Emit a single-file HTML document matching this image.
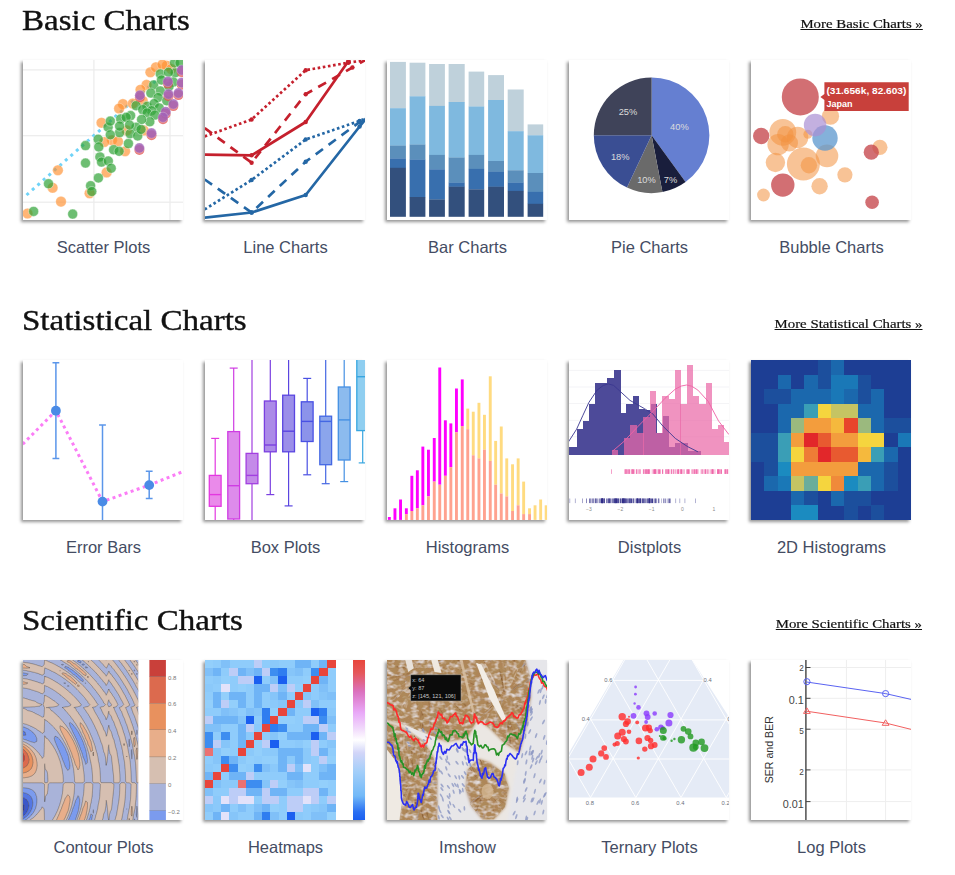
<!DOCTYPE html>
<html><head><meta charset="utf-8">
<style>
html,body{margin:0;padding:0;background:#fff;}
body{width:955px;height:875px;position:relative;overflow:hidden;font-family:"Liberation Sans",sans-serif;}
.h{position:absolute;left:22px;font-family:"Liberation Serif",serif;font-size:31px;color:#111;-webkit-text-stroke:.4px #111;transform:scale(1.065,.96);white-space:nowrap;line-height:1;transform-origin:0 0;}
.m{position:absolute;right:32.6px;font-family:"Liberation Serif",serif;font-size:13.2px;color:#111;transform:scaleX(1.125);-webkit-text-stroke:.2px #111;margin-top:-.4px;white-space:nowrap;text-decoration:underline;line-height:1;transform-origin:100% 0;}
.t{position:absolute;width:160px;height:160px;background:#fff;box-shadow:-2px 2px 3px rgba(0,0,0,.42);overflow:hidden;}
.t svg{position:absolute;left:0;top:0;width:160px;height:160px;display:block;}
.l{position:absolute;width:182px;text-align:center;font-size:16.5px;margin-left:1.5px;color:#444c63;white-space:nowrap;line-height:1;}
</style></head><body>
<div class="h" style="top:5px">Basic Charts</div>
<div class="m" style="top:17px">More Basic Charts »</div>
<div class="h" style="top:305px">Statistical Charts</div>
<div class="m" style="top:317px">More Statistical Charts »</div>
<div class="h" style="top:605px">Scientific Charts</div>
<div class="m" style="top:617px">More Scientific Charts »</div>

<!-- ROW1 -->
<div class="t" style="left:23px;top:60px" ><svg viewBox="0 0 160 160">
<rect x="70.30000000000001" y="0" width="1.2" height="160" fill="#ececec"/>
<rect x="146.4" y="0" width="1.2" height="160" fill="#ececec"/>
<rect x="0" y="9.3" width="160" height="1.2" fill="#ececec"/>
<rect x="0" y="75.10000000000001" width="160" height="1.2" fill="#ececec"/>
<rect x="0" y="141.6" width="160" height="1.2" fill="#ececec"/>
<line x1="3.5" y1="135.0" x2="135.1" y2="18.8" stroke="#6fd3f8" stroke-width="3" stroke-dasharray="3 4.35"/>
<circle cx="4.5" cy="153.5" r="5.3" fill="#ff8f2e" fill-opacity=".66" stroke="#fff" stroke-opacity=".5" stroke-width=".6"/>
<circle cx="29.6" cy="127.8" r="5.3" fill="#ff8f2e" fill-opacity=".66" stroke="#fff" stroke-opacity=".5" stroke-width=".6"/>
<circle cx="38.0" cy="141.6" r="5.3" fill="#ff8f2e" fill-opacity=".66" stroke="#fff" stroke-opacity=".5" stroke-width=".6"/>
<circle cx="34.9" cy="110.3" r="5.3" fill="#ff8f2e" fill-opacity=".66" stroke="#fff" stroke-opacity=".5" stroke-width=".6"/>
<circle cx="66.6" cy="133.3" r="5.3" fill="#ff8f2e" fill-opacity=".66" stroke="#fff" stroke-opacity=".5" stroke-width=".6"/>
<circle cx="83.6" cy="112.4" r="5.3" fill="#ff8f2e" fill-opacity=".66" stroke="#fff" stroke-opacity=".5" stroke-width=".6"/>
<circle cx="127.4" cy="12.3" r="5.3" fill="#ff8f2e" fill-opacity=".66" stroke="#fff" stroke-opacity=".5" stroke-width=".6"/>
<circle cx="132.9" cy="7.3" r="5.3" fill="#ff8f2e" fill-opacity=".66" stroke="#fff" stroke-opacity=".5" stroke-width=".6"/>
<circle cx="143.8" cy="5.7" r="5.3" fill="#ff8f2e" fill-opacity=".66" stroke="#fff" stroke-opacity=".5" stroke-width=".6"/>
<circle cx="139.4" cy="4.6" r="5.3" fill="#ff8f2e" fill-opacity=".66" stroke="#fff" stroke-opacity=".5" stroke-width=".6"/>
<circle cx="123.5" cy="24.9" r="5.3" fill="#ff8f2e" fill-opacity=".66" stroke="#fff" stroke-opacity=".5" stroke-width=".6"/>
<circle cx="117.5" cy="29.8" r="5.3" fill="#ff8f2e" fill-opacity=".66" stroke="#fff" stroke-opacity=".5" stroke-width=".6"/>
<circle cx="99.9" cy="44.1" r="5.3" fill="#ff8f2e" fill-opacity=".66" stroke="#fff" stroke-opacity=".5" stroke-width=".6"/>
<circle cx="96.1" cy="48.5" r="5.3" fill="#ff8f2e" fill-opacity=".66" stroke="#fff" stroke-opacity=".5" stroke-width=".6"/>
<circle cx="109.8" cy="43.6" r="5.3" fill="#ff8f2e" fill-opacity=".66" stroke="#fff" stroke-opacity=".5" stroke-width=".6"/>
<circle cx="78.5" cy="62.8" r="5.3" fill="#ff8f2e" fill-opacity=".66" stroke="#fff" stroke-opacity=".5" stroke-width=".6"/>
<circle cx="89.0" cy="80.3" r="5.3" fill="#ff8f2e" fill-opacity=".66" stroke="#fff" stroke-opacity=".5" stroke-width=".6"/>
<circle cx="95.0" cy="81.4" r="5.3" fill="#ff8f2e" fill-opacity=".66" stroke="#fff" stroke-opacity=".5" stroke-width=".6"/>
<circle cx="81.3" cy="82.0" r="5.3" fill="#ff8f2e" fill-opacity=".66" stroke="#fff" stroke-opacity=".5" stroke-width=".6"/>
<circle cx="102.1" cy="91.3" r="5.3" fill="#ff8f2e" fill-opacity=".66" stroke="#fff" stroke-opacity=".5" stroke-width=".6"/>
<circle cx="103.8" cy="70.4" r="5.3" fill="#ff8f2e" fill-opacity=".66" stroke="#fff" stroke-opacity=".5" stroke-width=".6"/>
<circle cx="119.7" cy="40.8" r="5.3" fill="#ff8f2e" fill-opacity=".66" stroke="#fff" stroke-opacity=".5" stroke-width=".6"/>
<circle cx="120.8" cy="70.4" r="5.3" fill="#ff8f2e" fill-opacity=".66" stroke="#fff" stroke-opacity=".5" stroke-width=".6"/>
<circle cx="148.2" cy="9.0" r="5.3" fill="#ff8f2e" fill-opacity=".66" stroke="#fff" stroke-opacity=".5" stroke-width=".6"/>
<circle cx="10.6" cy="151.4" r="5" fill="#2fa336" fill-opacity=".7" stroke="#fff" stroke-opacity=".6" stroke-width=".7"/>
<circle cx="49.7" cy="154.1" r="5" fill="#2fa336" fill-opacity=".7" stroke="#fff" stroke-opacity=".6" stroke-width=".7"/>
<circle cx="25.5" cy="123.7" r="5" fill="#2fa336" fill-opacity=".7" stroke="#fff" stroke-opacity=".6" stroke-width=".7"/>
<circle cx="67.6" cy="125.7" r="5" fill="#2fa336" fill-opacity=".7" stroke="#fff" stroke-opacity=".6" stroke-width=".7"/>
<circle cx="68.8" cy="131.5" r="5" fill="#2fa336" fill-opacity=".7" stroke="#fff" stroke-opacity=".6" stroke-width=".7"/>
<circle cx="75.4" cy="117.9" r="5" fill="#2fa336" fill-opacity=".7" stroke="#fff" stroke-opacity=".6" stroke-width=".7"/>
<circle cx="62.5" cy="103.1" r="5" fill="#2fa336" fill-opacity=".7" stroke="#fff" stroke-opacity=".6" stroke-width=".7"/>
<circle cx="62.5" cy="85.6" r="5" fill="#2fa336" fill-opacity=".7" stroke="#fff" stroke-opacity=".6" stroke-width=".7"/>
<circle cx="76.9" cy="96.9" r="5" fill="#2fa336" fill-opacity=".7" stroke="#fff" stroke-opacity=".6" stroke-width=".7"/>
<circle cx="78.5" cy="102.1" r="5" fill="#2fa336" fill-opacity=".7" stroke="#fff" stroke-opacity=".6" stroke-width=".7"/>
<circle cx="85.3" cy="101.0" r="5" fill="#2fa336" fill-opacity=".7" stroke="#fff" stroke-opacity=".6" stroke-width=".7"/>
<circle cx="88.2" cy="108.2" r="5" fill="#2fa336" fill-opacity=".7" stroke="#fff" stroke-opacity=".6" stroke-width=".7"/>
<circle cx="137.3" cy="13.9" r="5" fill="#2fa336" fill-opacity=".7" stroke="#fff" stroke-opacity=".6" stroke-width=".7"/>
<circle cx="152.1" cy="12.8" r="5" fill="#2fa336" fill-opacity=".7" stroke="#fff" stroke-opacity=".6" stroke-width=".7"/>
<circle cx="145.5" cy="12.3" r="5" fill="#2fa336" fill-opacity=".7" stroke="#fff" stroke-opacity=".6" stroke-width=".7"/>
<circle cx="151.5" cy="2.9" r="5" fill="#2fa336" fill-opacity=".7" stroke="#fff" stroke-opacity=".6" stroke-width=".7"/>
<circle cx="157.0" cy="2.9" r="5" fill="#2fa336" fill-opacity=".7" stroke="#fff" stroke-opacity=".6" stroke-width=".7"/>
<circle cx="130.7" cy="24.9" r="5" fill="#2fa336" fill-opacity=".7" stroke="#fff" stroke-opacity=".6" stroke-width=".7"/>
<circle cx="137.3" cy="30.9" r="5" fill="#2fa336" fill-opacity=".7" stroke="#fff" stroke-opacity=".6" stroke-width=".7"/>
<circle cx="127.9" cy="33.1" r="5" fill="#2fa336" fill-opacity=".7" stroke="#fff" stroke-opacity=".6" stroke-width=".7"/>
<circle cx="135.1" cy="37.5" r="5" fill="#2fa336" fill-opacity=".7" stroke="#fff" stroke-opacity=".6" stroke-width=".7"/>
<circle cx="150.4" cy="22.1" r="5" fill="#2fa336" fill-opacity=".7" stroke="#fff" stroke-opacity=".6" stroke-width=".7"/>
<circle cx="138.4" cy="20.0" r="5" fill="#2fa336" fill-opacity=".7" stroke="#fff" stroke-opacity=".6" stroke-width=".7"/>
<circle cx="113.1" cy="45.7" r="5" fill="#2fa336" fill-opacity=".7" stroke="#fff" stroke-opacity=".6" stroke-width=".7"/>
<circle cx="124.1" cy="46.3" r="5" fill="#2fa336" fill-opacity=".7" stroke="#fff" stroke-opacity=".6" stroke-width=".7"/>
<circle cx="131.2" cy="43.6" r="5" fill="#2fa336" fill-opacity=".7" stroke="#fff" stroke-opacity=".6" stroke-width=".7"/>
<circle cx="136.2" cy="47.9" r="5" fill="#2fa336" fill-opacity=".7" stroke="#fff" stroke-opacity=".6" stroke-width=".7"/>
<circle cx="128.5" cy="50.7" r="5" fill="#2fa336" fill-opacity=".7" stroke="#fff" stroke-opacity=".6" stroke-width=".7"/>
<circle cx="119.7" cy="49.6" r="5" fill="#2fa336" fill-opacity=".7" stroke="#fff" stroke-opacity=".6" stroke-width=".7"/>
<circle cx="124.1" cy="52.9" r="5" fill="#2fa336" fill-opacity=".7" stroke="#fff" stroke-opacity=".6" stroke-width=".7"/>
<circle cx="131.8" cy="55.1" r="5" fill="#2fa336" fill-opacity=".7" stroke="#fff" stroke-opacity=".6" stroke-width=".7"/>
<circle cx="126.8" cy="61.7" r="5" fill="#2fa336" fill-opacity=".7" stroke="#fff" stroke-opacity=".6" stroke-width=".7"/>
<circle cx="118.6" cy="59.5" r="5" fill="#2fa336" fill-opacity=".7" stroke="#fff" stroke-opacity=".6" stroke-width=".7"/>
<circle cx="107.6" cy="55.6" r="5" fill="#2fa336" fill-opacity=".7" stroke="#fff" stroke-opacity=".6" stroke-width=".7"/>
<circle cx="97.7" cy="58.9" r="5" fill="#2fa336" fill-opacity=".7" stroke="#fff" stroke-opacity=".6" stroke-width=".7"/>
<circle cx="103.2" cy="57.3" r="5" fill="#2fa336" fill-opacity=".7" stroke="#fff" stroke-opacity=".6" stroke-width=".7"/>
<circle cx="85.1" cy="67.2" r="5" fill="#2fa336" fill-opacity=".7" stroke="#fff" stroke-opacity=".6" stroke-width=".7"/>
<circle cx="87.3" cy="61.1" r="5" fill="#2fa336" fill-opacity=".7" stroke="#fff" stroke-opacity=".6" stroke-width=".7"/>
<circle cx="113.1" cy="67.2" r="5" fill="#2fa336" fill-opacity=".7" stroke="#fff" stroke-opacity=".6" stroke-width=".7"/>
<circle cx="107.1" cy="73.7" r="5" fill="#2fa336" fill-opacity=".7" stroke="#fff" stroke-opacity=".6" stroke-width=".7"/>
<circle cx="96.6" cy="72.6" r="5" fill="#2fa336" fill-opacity=".7" stroke="#fff" stroke-opacity=".6" stroke-width=".7"/>
<circle cx="87.3" cy="74.8" r="5" fill="#2fa336" fill-opacity=".7" stroke="#fff" stroke-opacity=".6" stroke-width=".7"/>
<circle cx="105.4" cy="83.6" r="5" fill="#2fa336" fill-opacity=".7" stroke="#fff" stroke-opacity=".6" stroke-width=".7"/>
<circle cx="114.7" cy="75.9" r="5" fill="#2fa336" fill-opacity=".7" stroke="#fff" stroke-opacity=".6" stroke-width=".7"/>
<circle cx="75.2" cy="79.2" r="5" fill="#2fa336" fill-opacity=".7" stroke="#fff" stroke-opacity=".6" stroke-width=".7"/>
<circle cx="75.8" cy="86.9" r="5" fill="#2fa336" fill-opacity=".7" stroke="#fff" stroke-opacity=".6" stroke-width=".7"/>
<circle cx="90.6" cy="89.7" r="5" fill="#2fa336" fill-opacity=".7" stroke="#fff" stroke-opacity=".6" stroke-width=".7"/>
<circle cx="96.1" cy="91.3" r="5" fill="#2fa336" fill-opacity=".7" stroke="#fff" stroke-opacity=".6" stroke-width=".7"/>
<circle cx="118.0" cy="69.4" r="5" fill="#2fa336" fill-opacity=".7" stroke="#fff" stroke-opacity=".6" stroke-width=".7"/>
<circle cx="106.5" cy="65.0" r="5" fill="#2fa336" fill-opacity=".7" stroke="#fff" stroke-opacity=".6" stroke-width=".7"/>
<circle cx="96.6" cy="66.1" r="5" fill="#2fa336" fill-opacity=".7" stroke="#fff" stroke-opacity=".6" stroke-width=".7"/>
<circle cx="143.8" cy="40.8" r="5" fill="#2fa336" fill-opacity=".7" stroke="#fff" stroke-opacity=".6" stroke-width=".7"/>
<circle cx="146.0" cy="26.5" r="5" fill="#2fa336" fill-opacity=".7" stroke="#fff" stroke-opacity=".6" stroke-width=".7"/>
<circle cx="116.9" cy="37.3" r="5" fill="#e0524f" fill-opacity=".75"/>
<circle cx="144.9" cy="23.6" r="5" fill="#e0524f" fill-opacity=".75"/>
<circle cx="158.7" cy="12.1" r="5" fill="#e0524f" fill-opacity=".75"/>
<circle cx="158.7" cy="24.7" r="5" fill="#e0524f" fill-opacity=".75"/>
<circle cx="145.5" cy="36.2" r="5" fill="#e0524f" fill-opacity=".75"/>
<circle cx="155.4" cy="35.1" r="5" fill="#e0524f" fill-opacity=".75"/>
<circle cx="150.4" cy="46.1" r="5" fill="#e0524f" fill-opacity=".75"/>
<circle cx="142.7" cy="53.8" r="5" fill="#e0524f" fill-opacity=".75"/>
<circle cx="140.0" cy="59.3" r="5" fill="#e0524f" fill-opacity=".75"/>
<circle cx="128.5" cy="75.2" r="5" fill="#e0524f" fill-opacity=".75"/>
<circle cx="116.4" cy="90.0" r="5" fill="#e0524f" fill-opacity=".75"/>
<circle cx="116.9" cy="35.3" r="5.1" fill="#a264b8" fill-opacity=".85" stroke="#fff" stroke-opacity=".4" stroke-width=".6"/>
<circle cx="144.9" cy="21.6" r="5.1" fill="#a264b8" fill-opacity=".85" stroke="#fff" stroke-opacity=".4" stroke-width=".6"/>
<circle cx="158.7" cy="10.1" r="5.1" fill="#a264b8" fill-opacity=".85" stroke="#fff" stroke-opacity=".4" stroke-width=".6"/>
<circle cx="158.7" cy="22.7" r="5.1" fill="#a264b8" fill-opacity=".85" stroke="#fff" stroke-opacity=".4" stroke-width=".6"/>
<circle cx="145.5" cy="34.2" r="5.1" fill="#a264b8" fill-opacity=".85" stroke="#fff" stroke-opacity=".4" stroke-width=".6"/>
<circle cx="155.4" cy="33.1" r="5.1" fill="#a264b8" fill-opacity=".85" stroke="#fff" stroke-opacity=".4" stroke-width=".6"/>
<circle cx="150.4" cy="44.1" r="5.1" fill="#a264b8" fill-opacity=".85" stroke="#fff" stroke-opacity=".4" stroke-width=".6"/>
<circle cx="142.7" cy="51.8" r="5.1" fill="#a264b8" fill-opacity=".85" stroke="#fff" stroke-opacity=".4" stroke-width=".6"/>
<circle cx="140.0" cy="57.3" r="5.1" fill="#a264b8" fill-opacity=".85" stroke="#fff" stroke-opacity=".4" stroke-width=".6"/>
<circle cx="128.5" cy="73.2" r="5.1" fill="#a264b8" fill-opacity=".85" stroke="#fff" stroke-opacity=".4" stroke-width=".6"/>
<circle cx="116.4" cy="88.0" r="5.1" fill="#a264b8" fill-opacity=".85" stroke="#fff" stroke-opacity=".4" stroke-width=".6"/>
</svg></div>
<div class="t" style="left:205px;top:60px" ><svg viewBox="0 0 160 160">
<polyline points="-0.3,76.4 46.6,59.5 100.7,10.2 143.3,2.7 172.1,-1.8" fill="none" stroke="#c5202d" stroke-width="2.7" stroke-linejoin="round" stroke-dasharray="2.6 2.6"/>
<circle cx="46.6" cy="59.5" r="2.2" fill="#c5202d"/>
<circle cx="100.7" cy="10.2" r="2.2" fill="#c5202d"/>
<circle cx="143.3" cy="2.7" r="2.2" fill="#c5202d"/>
<polyline points="-0.3,68.1 46.6,102.7 100.7,34.2 147.4,7.5 172.1,-6.9" fill="none" stroke="#c5202d" stroke-width="2.7" stroke-linejoin="round" stroke-dasharray="9 7"/>
<circle cx="46.6" cy="102.7" r="2.2" fill="#c5202d"/>
<circle cx="100.7" cy="34.2" r="2.2" fill="#c5202d"/>
<circle cx="147.4" cy="7.5" r="2.2" fill="#c5202d"/>
<polyline points="-2.7,94.5 46.6,95.3 100.7,62.0 143.3,1.3 151.5,-10.0" fill="none" stroke="#c5202d" stroke-width="2.7" stroke-linejoin="round"/>
<circle cx="46.6" cy="95.3" r="2.2" fill="#c5202d"/>
<circle cx="100.7" cy="62.0" r="2.2" fill="#c5202d"/>
<circle cx="143.3" cy="1.3" r="2.2" fill="#c5202d"/>
<polyline points="-0.3,149.4 46.6,120.0 100.7,79.5 154.6,60.9 172.1,53.7" fill="none" stroke="#2467a5" stroke-width="2.7" stroke-linejoin="round" stroke-dasharray="2.6 2.6"/>
<circle cx="46.6" cy="120.0" r="2.2" fill="#2467a5"/>
<circle cx="100.7" cy="79.5" r="2.2" fill="#2467a5"/>
<circle cx="154.6" cy="60.9" r="2.2" fill="#2467a5"/>
<polyline points="-0.3,119.5 46.6,152.5 100.7,101.7 154.6,62.0 172.1,49.6" fill="none" stroke="#2467a5" stroke-width="2.7" stroke-linejoin="round" stroke-dasharray="9 7"/>
<circle cx="46.6" cy="152.5" r="2.2" fill="#2467a5"/>
<circle cx="100.7" cy="101.7" r="2.2" fill="#2467a5"/>
<circle cx="154.6" cy="62.0" r="2.2" fill="#2467a5"/>
<polyline points="-2.7,158.0 46.6,152.5 100.7,135.0 154.6,66.5 172.1,44.5" fill="none" stroke="#2467a5" stroke-width="2.7" stroke-linejoin="round"/>
<circle cx="46.6" cy="152.5" r="2.2" fill="#2467a5"/>
<circle cx="100.7" cy="135.0" r="2.2" fill="#2467a5"/>
<circle cx="154.6" cy="66.5" r="2.2" fill="#2467a5"/>
</svg></div>
<div class="t" style="left:387px;top:60px" ><svg viewBox="0 0 160 160">
<rect x="3.0" y="1.9" width="15.9" height="46.5" fill="#bfd1db"/>
<rect x="3.0" y="48.2" width="15.9" height="37.6" fill="#7fb9df"/>
<rect x="3.0" y="85.6" width="15.9" height="13.0" fill="#5b8fbb"/>
<rect x="3.0" y="98.4" width="15.9" height="9.6" fill="#386fae"/>
<rect x="3.0" y="107.8" width="15.9" height="49.0" fill="#33507d"/>
<rect x="22.6" y="2.7" width="15.8" height="33.8" fill="#bfd1db"/>
<rect x="22.6" y="36.3" width="15.8" height="48.5" fill="#7fb9df"/>
<rect x="22.6" y="84.6" width="15.8" height="15.2" fill="#5b8fbb"/>
<rect x="22.6" y="99.6" width="15.8" height="37.6" fill="#386fae"/>
<rect x="22.6" y="137.0" width="15.8" height="19.8" fill="#33507d"/>
<rect x="42.1" y="4.0" width="15.8" height="42.1" fill="#bfd1db"/>
<rect x="42.1" y="45.9" width="15.8" height="49.2" fill="#7fb9df"/>
<rect x="42.1" y="94.9" width="15.8" height="14.6" fill="#5b8fbb"/>
<rect x="42.1" y="109.3" width="15.8" height="30.4" fill="#386fae"/>
<rect x="42.1" y="139.5" width="15.8" height="17.3" fill="#33507d"/>
<rect x="61.6" y="4.0" width="16.1" height="38.2" fill="#bfd1db"/>
<rect x="61.6" y="42.0" width="16.1" height="55.7" fill="#7fb9df"/>
<rect x="61.6" y="97.5" width="16.1" height="25.3" fill="#5b8fbb"/>
<rect x="61.6" y="122.6" width="16.1" height="4.3" fill="#386fae"/>
<rect x="61.6" y="126.7" width="16.1" height="30.1" fill="#33507d"/>
<rect x="81.6" y="11.6" width="15.6" height="35.1" fill="#bfd1db"/>
<rect x="81.6" y="46.5" width="15.6" height="48.6" fill="#7fb9df"/>
<rect x="81.6" y="94.9" width="15.6" height="14.2" fill="#5b8fbb"/>
<rect x="81.6" y="108.9" width="15.6" height="20.7" fill="#386fae"/>
<rect x="81.6" y="129.4" width="15.6" height="27.4" fill="#33507d"/>
<rect x="101.1" y="15.1" width="15.9" height="25.1" fill="#bfd1db"/>
<rect x="101.1" y="40.0" width="15.9" height="61.2" fill="#7fb9df"/>
<rect x="101.1" y="101.0" width="15.9" height="10.9" fill="#5b8fbb"/>
<rect x="101.1" y="111.7" width="15.9" height="15.2" fill="#386fae"/>
<rect x="101.1" y="126.7" width="15.9" height="30.1" fill="#33507d"/>
<rect x="120.7" y="29.5" width="16.0" height="41.9" fill="#bfd1db"/>
<rect x="120.7" y="71.2" width="16.0" height="39.3" fill="#7fb9df"/>
<rect x="120.7" y="110.3" width="16.0" height="12.5" fill="#5b8fbb"/>
<rect x="120.7" y="122.6" width="16.0" height="8.5" fill="#386fae"/>
<rect x="120.7" y="130.9" width="16.0" height="25.9" fill="#33507d"/>
<rect x="140.6" y="64.4" width="15.6" height="11.1" fill="#bfd1db"/>
<rect x="140.6" y="75.3" width="15.6" height="37.9" fill="#7fb9df"/>
<rect x="140.6" y="113.0" width="15.6" height="19.1" fill="#5b8fbb"/>
<rect x="140.6" y="131.9" width="15.6" height="12.1" fill="#386fae"/>
<rect x="140.6" y="143.8" width="15.6" height="13.0" fill="#33507d"/>
</svg></div>
<div class="t" style="left:569px;top:60px" ><svg viewBox="0 0 160 160">
<path d="M82.6,75.3L82.60,17.50A57.8,57.8 0 0 1 116.57,122.06Z" fill="#657fd1"/>
<path d="M82.6,75.3L116.57,122.06A57.8,57.8 0 0 1 93.43,132.08Z" fill="#191e3c"/>
<path d="M82.6,75.3L93.43,132.08A57.8,57.8 0 0 1 57.99,127.60Z" fill="#6a6a6a"/>
<path d="M82.6,75.3L57.99,127.60A57.8,57.8 0 0 1 24.80,75.30Z" fill="#3a4e93"/>
<path d="M82.6,75.3L24.80,75.30A57.8,57.8 0 0 1 82.60,17.50Z" fill="#3f4359"/>
<text x="110.4" y="69.8" font-size="9.3" fill="#dcdcdc" text-anchor="middle" font-family="Liberation Sans">40%</text>
<text x="59.0" y="55.0" font-size="9.3" fill="#dcdcdc" text-anchor="middle" font-family="Liberation Sans">25%</text>
<text x="51.2" y="99.6" font-size="9.3" fill="#dcdcdc" text-anchor="middle" font-family="Liberation Sans">18%</text>
<text x="77.5" y="123.3" font-size="9.3" fill="#dcdcdc" text-anchor="middle" font-family="Liberation Sans">10%</text>
<text x="101.5" y="123.3" font-size="9.3" fill="#dcdcdc" text-anchor="middle" font-family="Liberation Sans">7%</text>
</svg></div>
<div class="t" style="left:751px;top:60px" ><svg viewBox="0 0 160 160">
<circle cx="31.8" cy="72.3" r="13.4" fill="#f3913f" fill-opacity=".55"/>
<circle cx="27.1" cy="84.6" r="10.7" fill="#f3913f" fill-opacity=".55"/>
<circle cx="46.6" cy="77.4" r="10.7" fill="#f3913f" fill-opacity=".55"/>
<circle cx="38.4" cy="82.9" r="8.6" fill="#f3913f" fill-opacity=".55"/>
<circle cx="24.4" cy="102.5" r="9.7" fill="#f3913f" fill-opacity=".55"/>
<circle cx="52.4" cy="104.1" r="16.5" fill="#f3913f" fill-opacity=".55"/>
<circle cx="57.9" cy="105.2" r="8.2" fill="#f3913f" fill-opacity=".55"/>
<circle cx="76.0" cy="95.9" r="11.3" fill="#f3913f" fill-opacity=".55"/>
<circle cx="79.5" cy="56.2" r="8.6" fill="#f3913f" fill-opacity=".55"/>
<circle cx="93.9" cy="114.8" r="7.6" fill="#f3913f" fill-opacity=".55"/>
<circle cx="68.6" cy="126.3" r="8.2" fill="#f3913f" fill-opacity=".55"/>
<circle cx="12.5" cy="135.0" r="6.4" fill="#f3913f" fill-opacity=".55"/>
<circle cx="128.9" cy="87.3" r="7.6" fill="#f3913f" fill-opacity=".55"/>
<circle cx="56.9" cy="74.3" r="4.5" fill="#f3913f" fill-opacity=".55"/>
<circle cx="34.3" cy="74.3" r="8.2" fill="#f3913f" fill-opacity=".55"/>
<circle cx="49.3" cy="36.9" r="18.5" fill="#c5474c" fill-opacity=".78"/>
<circle cx="10.2" cy="76.0" r="8.2" fill="#c5474c" fill-opacity=".78"/>
<circle cx="31.8" cy="125.1" r="11.7" fill="#c5474c" fill-opacity=".78"/>
<circle cx="120.3" cy="92.2" r="7.6" fill="#c5474c" fill-opacity=".78"/>
<circle cx="121.1" cy="142.2" r="6.8" fill="#c5474c" fill-opacity=".78"/>
<circle cx="74.0" cy="78.0" r="12.7" fill="#5b97cd" fill-opacity=".75"/>
<circle cx="64.1" cy="65.1" r="11.3" fill="#a98fd3" fill-opacity=".7"/>
<path d="M73.4,22.3H157.7V51.1H73.4V39.9L69.4,36.9L73.4,33.9Z" fill="#c8403b"/>
<text x="75.4" y="34.2" font-size="9" font-weight="bold" fill="#fff" font-family="Liberation Sans" textLength="80" lengthAdjust="spacingAndGlyphs">(31.656k, 82.603)</text>
<text x="75.4" y="46.8" font-size="9" font-weight="bold" fill="#fff" font-family="Liberation Sans">Japan</text>
</svg></div>
<div class="l" style="left:11px;top:239px">Scatter Plots</div>
<div class="l" style="left:193px;top:239px">Line Charts</div>
<div class="l" style="left:375px;top:239px">Bar Charts</div>
<div class="l" style="left:557px;top:239px">Pie Charts</div>
<div class="l" style="left:739px;top:239px">Bubble Charts</div>
<!-- ROW2 -->
<div class="t" style="left:23px;top:360px" ><svg viewBox="0 0 160 160">
<polyline points="-0.3,84.2 32.9,50.7 79.5,141.6 126.2,125.1 159.7,111.7" fill="none" stroke="#fb7df6" stroke-width="3" stroke-dasharray="3 3.4"/>
<path d="M32.9,2.7V98.4M29.5,2.7h6.8M29.5,98.4h6.8" stroke="#5b96ea" stroke-width="1.5" fill="none"/>
<circle cx="32.9" cy="50.7" r="4.9" fill="#4a8be6"/>
<path d="M79.5,65.1V175.1M76.1,65.1h6.8M76.1,175.1h6.8" stroke="#5b96ea" stroke-width="1.5" fill="none"/>
<circle cx="79.5" cy="141.6" r="4.9" fill="#4a8be6"/>
<path d="M126.2,111.3V138.5M122.8,111.3h6.8M122.8,138.5h6.8" stroke="#5b96ea" stroke-width="1.5" fill="none"/>
<circle cx="126.2" cy="125.1" r="4.9" fill="#4a8be6"/>
</svg></div>
<div class="t" style="left:205px;top:360px" ><svg viewBox="0 0 160 160">
<path d="M10.2,78.4V170" stroke="#e338e0" stroke-width="1.2"/>
<path d="M6.199999999999999,78.4h8" stroke="#e338e0" stroke-width="1.2"/>
<rect x="4.299999999999999" y="115.4" width="11.8" height="30.9" fill="#ea8aea" stroke="#e338e0" stroke-width="1.3"/>
<path d="M4.299999999999999,134.6h11.8" stroke="#e338e0" stroke-width="1.4"/>
<path d="M28.7,8.1V170" stroke="#cf3ce3" stroke-width="1.2"/>
<path d="M24.7,8.1h8" stroke="#cf3ce3" stroke-width="1.2"/>
<rect x="22.799999999999997" y="71.6" width="11.8" height="87.4" fill="#dd8beb" stroke="#cf3ce3" stroke-width="1.3"/>
<path d="M22.799999999999997,125.7h11.8" stroke="#cf3ce3" stroke-width="1.4"/>
<path d="M47.0,-5V170" stroke="#a23fe0" stroke-width="1.2"/>
<rect x="41.1" y="93.4" width="11.8" height="30.3" fill="#c48ae9" stroke="#a23fe0" stroke-width="1.3"/>
<path d="M41.1,115.4h11.8" stroke="#a23fe0" stroke-width="1.4"/>
<path d="M65.3,-5V134.6" stroke="#7a3fe0" stroke-width="1.2"/>
<path d="M61.3,134.6h8" stroke="#7a3fe0" stroke-width="1.2"/>
<rect x="59.4" y="41.0" width="11.8" height="50.8" fill="#ab8ae8" stroke="#7a3fe0" stroke-width="1.3"/>
<path d="M59.4,85.0h11.8" stroke="#7a3fe0" stroke-width="1.4"/>
<path d="M83.6,-5V145.9" stroke="#5a45e0" stroke-width="1.2"/>
<path d="M79.6,145.9h8" stroke="#5a45e0" stroke-width="1.2"/>
<rect x="77.69999999999999" y="35.2" width="11.8" height="56.6" fill="#9b8ee9" stroke="#5a45e0" stroke-width="1.3"/>
<path d="M77.69999999999999,71.2h11.8" stroke="#5a45e0" stroke-width="1.4"/>
<path d="M102.2,18.4V114.8" stroke="#4950e3" stroke-width="1.2"/>
<path d="M98.2,18.4h8" stroke="#4950e3" stroke-width="1.2"/>
<path d="M98.2,114.8h8" stroke="#4950e3" stroke-width="1.2"/>
<rect x="96.3" y="41.8" width="11.8" height="39.7" fill="#8c93ea" stroke="#4950e3" stroke-width="1.3"/>
<path d="M96.3,61.4h11.8" stroke="#4950e3" stroke-width="1.4"/>
<path d="M120.7,-5V123.7" stroke="#4467e3" stroke-width="1.2"/>
<path d="M116.7,123.7h8" stroke="#4467e3" stroke-width="1.2"/>
<rect x="114.8" y="56.2" width="11.8" height="48.5" fill="#8ba5ec" stroke="#4467e3" stroke-width="1.3"/>
<path d="M114.8,61.4h11.8" stroke="#4467e3" stroke-width="1.4"/>
<path d="M139.2,-5V121.6" stroke="#4590e3" stroke-width="1.2"/>
<path d="M135.2,121.6h8" stroke="#4590e3" stroke-width="1.2"/>
<rect x="133.29999999999998" y="27.0" width="11.8" height="73.0" fill="#8cbbee" stroke="#4590e3" stroke-width="1.3"/>
<path d="M133.29999999999998,59.9h11.8" stroke="#4590e3" stroke-width="1.4"/>
<path d="M157.7,-5V102.9" stroke="#38a6e0" stroke-width="1.2"/>
<path d="M153.7,102.9h8" stroke="#38a6e0" stroke-width="1.2"/>
<rect x="151.79999999999998" y="-10.0" width="11.8" height="80.6" fill="#8fcef0" stroke="#38a6e0" stroke-width="1.3"/>
<path d="M151.79999999999998,16.7h11.8" stroke="#38a6e0" stroke-width="1.4"/>
</svg></div>
<div class="t" style="left:387px;top:360px" ><svg viewBox="0 0 160 160">
<rect x="0.9" y="157.0" width="2.9" height="2.9" fill="#ff00ff"/>
<rect x="6.5" y="148.3" width="2.9" height="11.6" fill="#ff00ff"/>
<rect x="12.1" y="139.5" width="2.9" height="20.4" fill="#ff00ff"/>
<rect x="17.9" y="148.3" width="2.9" height="5.8" fill="#ff00ff"/>
<rect x="17.9" y="154.1" width="2.9" height="6.3" fill="#ffa28f"/>
<rect x="23.4" y="115.8" width="2.9" height="35.2" fill="#ff00ff"/>
<rect x="23.4" y="151.0" width="2.9" height="9.4" fill="#ffa28f"/>
<rect x="28.9" y="110.3" width="2.9" height="38.0" fill="#ff00ff"/>
<rect x="28.9" y="148.3" width="2.9" height="12.1" fill="#ffa28f"/>
<rect x="34.4" y="86.6" width="2.9" height="58.7" fill="#ff00ff"/>
<rect x="34.4" y="145.3" width="2.9" height="15.1" fill="#ffa28f"/>
<rect x="40.0" y="89.7" width="2.9" height="46.7" fill="#ff00ff"/>
<rect x="40.0" y="136.4" width="2.9" height="24.0" fill="#ffa28f"/>
<rect x="45.8" y="78.0" width="2.9" height="43.6" fill="#ff00ff"/>
<rect x="45.8" y="121.6" width="2.9" height="38.8" fill="#ffa28f"/>
<rect x="51.3" y="7.5" width="2.9" height="117.2" fill="#ff00ff"/>
<rect x="51.3" y="124.7" width="2.9" height="35.7" fill="#ffa28f"/>
<rect x="56.9" y="60.3" width="2.9" height="55.5" fill="#ff00ff"/>
<rect x="56.9" y="115.8" width="2.9" height="44.6" fill="#ffa28f"/>
<rect x="62.4" y="63.4" width="2.9" height="43.8" fill="#ff00ff"/>
<rect x="62.4" y="107.2" width="2.9" height="53.2" fill="#ffa28f"/>
<rect x="68.0" y="28.5" width="2.9" height="43.8" fill="#ff00ff"/>
<rect x="68.0" y="72.3" width="2.9" height="88.1" fill="#ffa28f"/>
<rect x="73.8" y="19.4" width="2.9" height="46.7" fill="#ff00ff"/>
<rect x="73.8" y="66.1" width="2.9" height="94.3" fill="#ffa28f"/>
<rect x="79.3" y="48.6" width="2.9" height="20.6" fill="#ffdb80"/>
<rect x="79.3" y="69.2" width="2.9" height="91.2" fill="#ffa28f"/>
<rect x="84.8" y="51.7" width="2.9" height="43.6" fill="#ffdb80"/>
<rect x="84.8" y="95.3" width="2.9" height="65.1" fill="#ffa28f"/>
<rect x="90.5" y="42.8" width="2.9" height="55.6" fill="#ffdb80"/>
<rect x="90.5" y="98.4" width="2.9" height="62.0" fill="#ffa28f"/>
<rect x="96.0" y="54.8" width="2.9" height="34.9" fill="#ffdb80"/>
<rect x="96.0" y="89.7" width="2.9" height="70.7" fill="#ffa28f"/>
<rect x="101.8" y="16.3" width="2.9" height="84.7" fill="#ffdb80"/>
<rect x="101.8" y="101.0" width="2.9" height="59.4" fill="#ffa28f"/>
<rect x="107.2" y="80.9" width="2.9" height="43.8" fill="#ffdb80"/>
<rect x="107.2" y="124.7" width="2.9" height="35.7" fill="#ffa28f"/>
<rect x="112.8" y="66.5" width="2.9" height="67.0" fill="#ffdb80"/>
<rect x="112.8" y="133.5" width="2.9" height="26.9" fill="#ffa28f"/>
<rect x="118.3" y="98.4" width="2.9" height="38.0" fill="#ffdb80"/>
<rect x="118.3" y="136.4" width="2.9" height="24.0" fill="#ffa28f"/>
<rect x="124.1" y="104.3" width="2.9" height="46.7" fill="#ffdb80"/>
<rect x="124.1" y="151.0" width="2.9" height="9.4" fill="#ffa28f"/>
<rect x="129.7" y="98.4" width="2.9" height="46.9" fill="#ffdb80"/>
<rect x="129.7" y="145.3" width="2.9" height="15.1" fill="#ffa28f"/>
<rect x="135.2" y="121.6" width="2.9" height="32.5" fill="#ffdb80"/>
<rect x="135.2" y="154.1" width="2.9" height="6.3" fill="#ffa28f"/>
<rect x="141.1" y="148.3" width="2.9" height="5.8" fill="#ffdb80"/>
<rect x="141.1" y="154.1" width="2.9" height="6.3" fill="#ffa28f"/>
<rect x="146.6" y="145.3" width="2.9" height="14.6" fill="#ffdb80"/>
<rect x="152.2" y="139.5" width="2.9" height="20.4" fill="#ffdb80"/>
<rect x="157.7" y="145.3" width="2.9" height="14.6" fill="#ffdb80"/>
</svg></div>
<div class="t" style="left:569px;top:360px" ><svg viewBox="0 0 160 160">
<rect x="0" y="9.9" width="160" height=".8" fill="#f1f1f4"/>
<rect x="0" y="26.6" width="160" height=".8" fill="#f1f1f4"/>
<rect x="0" y="43.1" width="160" height=".8" fill="#f1f1f4"/>
<rect x="0" y="59.9" width="160" height=".8" fill="#f1f1f4"/>
<rect x="0" y="76.4" width="160" height=".8" fill="#f1f1f4"/>
<g fill="#4d4a99" shape-rendering="crispEdges">
<rect x="-0.3" y="86.6" width="8.2" height="7.9"/>
<rect x="7.6" y="69.2" width="6.4" height="25.3"/>
<rect x="13.7" y="60.9" width="6.5" height="33.6"/>
<rect x="19.9" y="43.9" width="6.6" height="50.6"/>
<rect x="26.1" y="23.3" width="12.6" height="71.2"/>
<rect x="38.4" y="18.4" width="7.0" height="76.1"/>
<rect x="45.0" y="10.2" width="6.6" height="84.3"/>
<rect x="51.2" y="52.7" width="6.4" height="41.8"/>
<rect x="57.3" y="43.9" width="6.6" height="50.6"/>
<rect x="63.5" y="35.7" width="6.6" height="58.8"/>
<rect x="69.7" y="48.6" width="6.4" height="45.9"/>
<rect x="75.8" y="49.6" width="6.6" height="44.9"/>
<rect x="82.0" y="43.9" width="6.1" height="50.6"/>
<rect x="87.8" y="73.3" width="6.5" height="21.2"/>
<rect x="93.9" y="56.2" width="6.5" height="38.3"/>
<rect x="100.1" y="86.6" width="6.6" height="7.9"/>
<rect x="106.3" y="82.5" width="12.6" height="12.0"/>
<rect x="118.6" y="90.8" width="13.8" height="3.7"/>
</g><g fill="#ea6aa8" fill-opacity=".72" shape-rendering="crispEdges">
<rect x="42.5" y="90.3" width="6.3" height="4.2"/>
<rect x="54.9" y="78.4" width="6.2" height="16.1"/>
<rect x="61.0" y="65.1" width="7.3" height="29.4"/>
<rect x="68.2" y="73.3" width="6.3" height="21.2"/>
<rect x="74.4" y="56.8" width="6.3" height="37.7"/>
<rect x="80.6" y="31.1" width="6.2" height="63.4"/>
<rect x="86.7" y="73.3" width="6.3" height="21.2"/>
<rect x="92.9" y="36.3" width="7.3" height="58.2"/>
<rect x="100.1" y="39.4" width="5.9" height="55.1"/>
<rect x="105.9" y="10.2" width="5.6" height="84.3"/>
<rect x="111.4" y="43.5" width="6.3" height="51.0"/>
<rect x="117.6" y="5.4" width="6.2" height="89.1"/>
<rect x="123.7" y="36.3" width="6.7" height="58.2"/>
<rect x="130.3" y="43.9" width="6.5" height="50.6"/>
<rect x="136.7" y="22.9" width="6.1" height="71.6"/>
<rect x="142.7" y="69.2" width="6.4" height="25.3"/>
<rect x="149.0" y="65.1" width="6.3" height="29.4"/>
<rect x="155.2" y="81.9" width="5.7" height="12.6"/>
</g>
<polyline points="-4.8,86.6 -0.3,81.5 7.6,69.2 13.7,55.8 19.9,42.4 28.1,30.1 34.3,25.4 39.4,23.9 44.6,25.4 48.7,29.1 61.0,40.4 75.4,48.6 83.6,53.7 93.9,66.1 106.3,78.4 118.6,86.6 128.9,91.8" fill="none" stroke="#3a3790" stroke-width=".9" stroke-linejoin="round"/>
<polyline points="43.5,91.2 54.9,81.5 69.3,66.1 83.6,51.7 96.0,38.3 106.3,29.1 112.4,26.0 117.6,25.0 122.7,26.2 128.9,30.1 139.2,41.4 149.5,60.9 159.7,74.3 163.8,78.4" fill="none" stroke="#ef62a6" stroke-width=".9" stroke-linejoin="round"/>
<g fill="#ef62a6">
<rect x="42.1" y="109.3" width=".6" height="4.6"/>
<rect x="79.4" y="109.3" width="0.6" height="4.6" fill-opacity="0.9"/>
<rect x="104.6" y="109.3" width="0.6" height="4.6" fill-opacity="0.35"/>
<rect x="56.9" y="109.3" width="1.2" height="4.6" fill-opacity="0.35"/>
<rect x="77.9" y="109.3" width="1.2" height="4.6" fill-opacity="0.7"/>
<rect x="135.8" y="109.3" width="0.6" height="4.6" fill-opacity="0.7"/>
<rect x="77.1" y="109.3" width="0.6" height="4.6" fill-opacity="0.7"/>
<rect x="138.0" y="109.3" width="0.8" height="4.6" fill-opacity="0.5"/>
<rect x="87.0" y="109.3" width="1.2" height="4.6" fill-opacity="0.35"/>
<rect x="142.6" y="109.3" width="1.2" height="4.6" fill-opacity="0.9"/>
<rect x="107.4" y="109.3" width="0.8" height="4.6" fill-opacity="0.5"/>
<rect x="104.0" y="109.3" width="0.6" height="4.6" fill-opacity="0.7"/>
<rect x="55.6" y="109.3" width="1.2" height="4.6" fill-opacity="0.7"/>
<rect x="142.9" y="109.3" width="0.8" height="4.6" fill-opacity="0.9"/>
<rect x="98.9" y="109.3" width="1.2" height="4.6" fill-opacity="0.9"/>
<rect x="101.7" y="109.3" width="0.8" height="4.6" fill-opacity="0.7"/>
<rect x="81.8" y="109.3" width="0.6" height="4.6" fill-opacity="0.35"/>
<rect x="59.7" y="109.3" width="1.2" height="4.6" fill-opacity="0.9"/>
<rect x="127.6" y="109.3" width="0.8" height="4.6" fill-opacity="0.5"/>
<rect x="61.8" y="109.3" width="0.8" height="4.6" fill-opacity="0.9"/>
<rect x="83.6" y="109.3" width="1.2" height="4.6" fill-opacity="0.9"/>
<rect x="132.4" y="109.3" width="1.2" height="4.6" fill-opacity="0.5"/>
<rect x="148.8" y="109.3" width="0.6" height="4.6" fill-opacity="0.35"/>
<rect x="128.4" y="109.3" width="1.2" height="4.6" fill-opacity="0.5"/>
<rect x="67.5" y="109.3" width="0.8" height="4.6" fill-opacity="0.7"/>
<rect x="102.5" y="109.3" width="0.6" height="4.6" fill-opacity="0.7"/>
<rect x="127.3" y="109.3" width="1.2" height="4.6" fill-opacity="0.7"/>
<rect x="56.7" y="109.3" width="1.2" height="4.6" fill-opacity="0.7"/>
<rect x="155.2" y="109.3" width="1.6" height="4.6" fill-opacity="0.35"/>
<rect x="85.3" y="109.3" width="0.8" height="4.6" fill-opacity="0.9"/>
<rect x="85.2" y="109.3" width="1.2" height="4.6" fill-opacity="0.9"/>
<rect x="117.0" y="109.3" width="0.8" height="4.6" fill-opacity="0.7"/>
<rect x="114.4" y="109.3" width="1.2" height="4.6" fill-opacity="0.35"/>
<rect x="102.1" y="109.3" width="1.2" height="4.6" fill-opacity="0.7"/>
<rect x="158.4" y="109.3" width="0.6" height="4.6" fill-opacity="0.9"/>
<rect x="156.8" y="109.3" width="1.6" height="4.6" fill-opacity="0.5"/>
<rect x="66.7" y="109.3" width="0.6" height="4.6" fill-opacity="0.35"/>
<rect x="131.4" y="109.3" width="0.8" height="4.6" fill-opacity="0.35"/>
<rect x="111.6" y="109.3" width="0.8" height="4.6" fill-opacity="0.7"/>
<rect x="158.5" y="109.3" width="0.6" height="4.6" fill-opacity="0.7"/>
<rect x="135.2" y="109.3" width="1.6" height="4.6" fill-opacity="0.5"/>
<rect x="104.5" y="109.3" width="0.8" height="4.6" fill-opacity="0.9"/>
<rect x="97.5" y="109.3" width="0.6" height="4.6" fill-opacity="0.5"/>
<rect x="98.6" y="109.3" width="0.8" height="4.6" fill-opacity="0.9"/>
<rect x="141.2" y="109.3" width="1.6" height="4.6" fill-opacity="0.5"/>
<rect x="58.1" y="109.3" width="1.2" height="4.6" fill-opacity="0.7"/>
<rect x="80.0" y="109.3" width="0.8" height="4.6" fill-opacity="0.5"/>
<rect x="98.2" y="109.3" width="1.2" height="4.6" fill-opacity="0.5"/>
<rect x="88.6" y="109.3" width="1.2" height="4.6" fill-opacity="0.35"/>
<rect x="157.7" y="109.3" width="1.6" height="4.6" fill-opacity="0.35"/>
<rect x="106.2" y="109.3" width="0.6" height="4.6" fill-opacity="0.9"/>
<rect x="76.8" y="109.3" width="0.8" height="4.6" fill-opacity="0.7"/>
<rect x="85.6" y="109.3" width="1.6" height="4.6" fill-opacity="0.7"/>
<rect x="139.5" y="109.3" width="0.8" height="4.6" fill-opacity="0.7"/>
<rect x="90.0" y="109.3" width="1.6" height="4.6" fill-opacity="0.9"/>
<rect x="62.6" y="109.3" width="1.2" height="4.6" fill-opacity="0.5"/>
<rect x="59.5" y="109.3" width="0.8" height="4.6" fill-opacity="0.7"/>
<rect x="124.1" y="109.3" width="0.6" height="4.6" fill-opacity="0.5"/>
<rect x="126.3" y="109.3" width="1.6" height="4.6" fill-opacity="0.9"/>
<rect x="132.4" y="109.3" width="1.6" height="4.6" fill-opacity="0.5"/>
<rect x="137.7" y="109.3" width="0.8" height="4.6" fill-opacity="0.5"/>
<rect x="56.2" y="109.3" width="1.2" height="4.6" fill-opacity="0.35"/>
<rect x="96.0" y="109.3" width="1.6" height="4.6" fill-opacity="0.5"/>
<rect x="112.0" y="109.3" width="0.8" height="4.6" fill-opacity="0.5"/>
<rect x="124.6" y="109.3" width="1.2" height="4.6" fill-opacity="0.9"/>
<rect x="149.9" y="109.3" width="1.6" height="4.6" fill-opacity="0.35"/>
<rect x="63.1" y="109.3" width="0.6" height="4.6" fill-opacity="0.9"/>
<rect x="113.1" y="109.3" width="1.2" height="4.6" fill-opacity="0.5"/>
<rect x="59.2" y="109.3" width="0.6" height="4.6" fill-opacity="0.35"/>
<rect x="85.7" y="109.3" width="1.2" height="4.6" fill-opacity="0.35"/>
<rect x="63.7" y="109.3" width="1.6" height="4.6" fill-opacity="0.9"/>
<rect x="76.2" y="109.3" width="1.2" height="4.6" fill-opacity="0.9"/>
<rect x="79.1" y="109.3" width="1.6" height="4.6" fill-opacity="0.9"/>
<rect x="64.7" y="109.3" width="0.6" height="4.6" fill-opacity="0.7"/>
<rect x="108.1" y="109.3" width="1.6" height="4.6" fill-opacity="0.9"/>
<rect x="143.9" y="109.3" width="1.6" height="4.6" fill-opacity="0.35"/>
<rect x="120.1" y="109.3" width="0.8" height="4.6" fill-opacity="0.7"/>
<rect x="151.4" y="109.3" width="1.6" height="4.6" fill-opacity="0.9"/>
<rect x="67.1" y="109.3" width="0.8" height="4.6" fill-opacity="0.7"/>
<rect x="145.7" y="109.3" width="0.8" height="4.6" fill-opacity="0.5"/>
<rect x="88.8" y="109.3" width="1.2" height="4.6" fill-opacity="0.7"/>
<rect x="111.1" y="109.3" width="0.6" height="4.6" fill-opacity="0.5"/>
<rect x="55.4" y="109.3" width="1.2" height="4.6" fill-opacity="0.35"/>
<rect x="111.4" y="109.3" width="1.6" height="4.6" fill-opacity="0.9"/>
<rect x="109.5" y="109.3" width="0.8" height="4.6" fill-opacity="0.9"/>
<rect x="142.9" y="109.3" width="1.2" height="4.6" fill-opacity="0.5"/>
<rect x="134.5" y="109.3" width="0.6" height="4.6" fill-opacity="0.35"/>
<rect x="118.2" y="109.3" width="1.2" height="4.6" fill-opacity="0.9"/>
<rect x="136.1" y="109.3" width="1.2" height="4.6" fill-opacity="0.9"/>
<rect x="118.5" y="109.3" width="1.6" height="4.6" fill-opacity="0.9"/>
<rect x="69.5" y="109.3" width="1.2" height="4.6" fill-opacity="0.7"/>
<rect x="68.7" y="109.3" width="0.6" height="4.6" fill-opacity="0.5"/>
<rect x="125.0" y="109.3" width="0.8" height="4.6" fill-opacity="0.7"/>
<rect x="148.5" y="109.3" width="1.2" height="4.6" fill-opacity="0.5"/>
<rect x="114.7" y="109.3" width="1.2" height="4.6" fill-opacity="0.35"/>
<rect x="62.9" y="109.3" width="0.8" height="4.6" fill-opacity="0.7"/>
<rect x="122.8" y="109.3" width="1.2" height="4.6" fill-opacity="0.5"/>
<rect x="86.1" y="109.3" width="0.6" height="4.6" fill-opacity="0.35"/>
<rect x="109.3" y="109.3" width="0.6" height="4.6" fill-opacity="0.7"/>
<rect x="138.7" y="109.3" width="0.6" height="4.6" fill-opacity="0.5"/>
<rect x="73.8" y="109.3" width="1.6" height="4.6" fill-opacity="0.35"/>
<rect x="133.8" y="109.3" width="0.6" height="4.6" fill-opacity="0.5"/>
<rect x="122.5" y="109.3" width="0.8" height="4.6" fill-opacity="0.7"/>
<rect x="143.4" y="109.3" width="1.6" height="4.6" fill-opacity="0.5"/>
<rect x="148.0" y="109.3" width="0.8" height="4.6" fill-opacity="0.7"/>
<rect x="93.0" y="109.3" width="1.2" height="4.6" fill-opacity="0.9"/>
<rect x="148.2" y="109.3" width="1.6" height="4.6" fill-opacity="0.9"/>
<rect x="155.5" y="109.3" width="1.2" height="4.6" fill-opacity="0.7"/>
<rect x="100.4" y="109.3" width="0.6" height="4.6" fill-opacity="0.7"/>
<rect x="74.0" y="109.3" width="1.6" height="4.6" fill-opacity="0.7"/>
<rect x="96.8" y="109.3" width="1.6" height="4.6" fill-opacity="0.35"/>
<rect x="71.1" y="109.3" width="0.6" height="4.6" fill-opacity="0.9"/>
<rect x="156.0" y="109.3" width="1.2" height="4.6" fill-opacity="0.7"/>
<rect x="149.4" y="109.3" width="1.2" height="4.6" fill-opacity="0.9"/>
<rect x="77.9" y="109.3" width="1.6" height="4.6" fill-opacity="0.35"/>
<rect x="70.3" y="109.3" width="0.8" height="4.6" fill-opacity="0.35"/>
<rect x="85.9" y="109.3" width="0.6" height="4.6" fill-opacity="0.5"/>
<rect x="96.2" y="109.3" width="1.2" height="4.6" fill-opacity="0.35"/>
<rect x="109.3" y="109.3" width="0.8" height="4.6" fill-opacity="0.35"/>
<rect x="76.2" y="109.3" width="1.2" height="4.6" fill-opacity="0.35"/>
<rect x="67.5" y="109.3" width="0.6" height="4.6" fill-opacity="0.7"/>
</g><g fill="#2f2c88">
<rect x="58.2" y="138.5" width="0.8" height="4.6" fill-opacity="0.5"/>
<rect x="61.0" y="138.5" width="0.8" height="4.6" fill-opacity="0.35"/>
<rect x="55.4" y="138.5" width="0.6" height="4.6" fill-opacity="0.5"/>
<rect x="52.3" y="138.5" width="0.8" height="4.6" fill-opacity="0.5"/>
<rect x="75.2" y="138.5" width="1.8" height="4.6" fill-opacity="0.35"/>
<rect x="45.9" y="138.5" width="0.8" height="4.6" fill-opacity="0.7"/>
<rect x="52.9" y="138.5" width="1.2" height="4.6" fill-opacity="0.95"/>
<rect x="43.3" y="138.5" width="1.8" height="4.6" fill-opacity="0.35"/>
<rect x="48.3" y="138.5" width="0.6" height="4.6" fill-opacity="0.7"/>
<rect x="78.3" y="138.5" width="0.6" height="4.6" fill-opacity="0.7"/>
<rect x="89.5" y="138.5" width="0.8" height="4.6" fill-opacity="0.35"/>
<rect x="31.9" y="138.5" width="0.6" height="4.6" fill-opacity="0.5"/>
<rect x="37.4" y="138.5" width="0.6" height="4.6" fill-opacity="0.95"/>
<rect x="82.2" y="138.5" width="0.8" height="4.6" fill-opacity="0.95"/>
<rect x="99.8" y="138.5" width="1.8" height="4.6" fill-opacity="0.7"/>
<rect x="75.5" y="138.5" width="0.8" height="4.6" fill-opacity="0.35"/>
<rect x="50.8" y="138.5" width="1.2" height="4.6" fill-opacity="0.7"/>
<rect x="84.8" y="138.5" width="1.8" height="4.6" fill-opacity="0.35"/>
<rect x="73.0" y="138.5" width="0.8" height="4.6" fill-opacity="0.7"/>
<rect x="56.4" y="138.5" width="1.2" height="4.6" fill-opacity="0.95"/>
<rect x="59.1" y="138.5" width="1.2" height="4.6" fill-opacity="0.35"/>
<rect x="80.0" y="138.5" width="1.2" height="4.6" fill-opacity="0.35"/>
<rect x="61.2" y="138.5" width="0.6" height="4.6" fill-opacity="0.7"/>
<rect x="53.6" y="138.5" width="1.2" height="4.6" fill-opacity="0.35"/>
<rect x="33.5" y="138.5" width="0.6" height="4.6" fill-opacity="0.95"/>
<rect x="53.1" y="138.5" width="0.8" height="4.6" fill-opacity="0.35"/>
<rect x="35.3" y="138.5" width="0.6" height="4.6" fill-opacity="0.7"/>
<rect x="69.8" y="138.5" width="0.8" height="4.6" fill-opacity="0.7"/>
<rect x="28.5" y="138.5" width="0.6" height="4.6" fill-opacity="0.35"/>
<rect x="75.1" y="138.5" width="1.2" height="4.6" fill-opacity="0.35"/>
<rect x="79.9" y="138.5" width="0.6" height="4.6" fill-opacity="0.35"/>
<rect x="51.0" y="138.5" width="0.8" height="4.6" fill-opacity="0.5"/>
<rect x="45.0" y="138.5" width="1.2" height="4.6" fill-opacity="0.7"/>
<rect x="76.5" y="138.5" width="1.8" height="4.6" fill-opacity="0.35"/>
<rect x="33.2" y="138.5" width="1.8" height="4.6" fill-opacity="0.35"/>
<rect x="67.7" y="138.5" width="1.2" height="4.6" fill-opacity="0.7"/>
<rect x="70.4" y="138.5" width="1.8" height="4.6" fill-opacity="0.7"/>
<rect x="33.4" y="138.5" width="0.6" height="4.6" fill-opacity="0.95"/>
<rect x="79.5" y="138.5" width="1.2" height="4.6" fill-opacity="0.7"/>
<rect x="67.8" y="138.5" width="1.8" height="4.6" fill-opacity="0.95"/>
<rect x="42.9" y="138.5" width="0.8" height="4.6" fill-opacity="0.7"/>
<rect x="40.5" y="138.5" width="0.6" height="4.6" fill-opacity="0.35"/>
<rect x="47.3" y="138.5" width="1.2" height="4.6" fill-opacity="0.5"/>
<rect x="58.4" y="138.5" width="1.2" height="4.6" fill-opacity="0.35"/>
<rect x="85.5" y="138.5" width="0.8" height="4.6" fill-opacity="0.35"/>
<rect x="63.9" y="138.5" width="1.2" height="4.6" fill-opacity="0.5"/>
<rect x="79.8" y="138.5" width="1.8" height="4.6" fill-opacity="0.35"/>
<rect x="60.4" y="138.5" width="0.6" height="4.6" fill-opacity="0.95"/>
<rect x="55.9" y="138.5" width="0.8" height="4.6" fill-opacity="0.5"/>
<rect x="26.2" y="138.5" width="0.6" height="4.6" fill-opacity="0.35"/>
<rect x="71.1" y="138.5" width="1.2" height="4.6" fill-opacity="0.7"/>
<rect x="77.6" y="138.5" width="0.8" height="4.6" fill-opacity="0.35"/>
<rect x="61.4" y="138.5" width="0.8" height="4.6" fill-opacity="0.35"/>
<rect x="67.8" y="138.5" width="0.8" height="4.6" fill-opacity="0.5"/>
<rect x="39.4" y="138.5" width="1.2" height="4.6" fill-opacity="0.7"/>
<rect x="66.4" y="138.5" width="1.2" height="4.6" fill-opacity="0.5"/>
<rect x="33.1" y="138.5" width="0.8" height="4.6" fill-opacity="0.35"/>
<rect x="88.8" y="138.5" width="0.8" height="4.6" fill-opacity="0.35"/>
<rect x="62.1" y="138.5" width="1.2" height="4.6" fill-opacity="0.95"/>
<rect x="27.3" y="138.5" width="0.8" height="4.6" fill-opacity="0.5"/>
<rect x="46.7" y="138.5" width="1.8" height="4.6" fill-opacity="0.7"/>
<rect x="45.2" y="138.5" width="1.8" height="4.6" fill-opacity="0.35"/>
<rect x="68.0" y="138.5" width="0.6" height="4.6" fill-opacity="0.5"/>
<rect x="31.6" y="138.5" width="0.8" height="4.6" fill-opacity="0.7"/>
<rect x="37.9" y="138.5" width="0.8" height="4.6" fill-opacity="0.7"/>
<rect x="46.3" y="138.5" width="0.6" height="4.6" fill-opacity="0.5"/>
<rect x="34.6" y="138.5" width="1.2" height="4.6" fill-opacity="0.5"/>
<rect x="94.2" y="138.5" width="0.8" height="4.6" fill-opacity="0.35"/>
<rect x="17.1" y="138.5" width="0.8" height="4.6" fill-opacity="0.7"/>
<rect x="73.4" y="138.5" width="1.2" height="4.6" fill-opacity="0.95"/>
<rect x="86.3" y="138.5" width="1.2" height="4.6" fill-opacity="0.95"/>
<rect x="32.5" y="138.5" width="1.8" height="4.6" fill-opacity="0.95"/>
<rect x="44.5" y="138.5" width="0.6" height="4.6" fill-opacity="0.95"/>
<rect x="63.7" y="138.5" width="1.8" height="4.6" fill-opacity="0.35"/>
<rect x="66.9" y="138.5" width="1.8" height="4.6" fill-opacity="0.5"/>
<rect x="28.3" y="138.5" width="1.2" height="4.6" fill-opacity="0.35"/>
<rect x="80.3" y="138.5" width="1.8" height="4.6" fill-opacity="0.5"/>
<rect x="92.3" y="138.5" width="0.6" height="4.6" fill-opacity="0.5"/>
<rect x="74.3" y="138.5" width="0.8" height="4.6" fill-opacity="0.7"/>
<rect x="57.6" y="138.5" width="0.6" height="4.6" fill-opacity="0.95"/>
<rect x="49.0" y="138.5" width="0.8" height="4.6" fill-opacity="0.35"/>
<rect x="30.0" y="138.5" width="1.2" height="4.6" fill-opacity="0.5"/>
<rect x="48.9" y="138.5" width="1.2" height="4.6" fill-opacity="0.7"/>
<rect x="33.0" y="138.5" width="1.2" height="4.6" fill-opacity="0.7"/>
<rect x="39.1" y="138.5" width="1.2" height="4.6" fill-opacity="0.35"/>
<rect x="54.5" y="138.5" width="1.2" height="4.6" fill-opacity="0.5"/>
<rect x="51.8" y="138.5" width="0.6" height="4.6" fill-opacity="0.35"/>
<rect x="79.0" y="138.5" width="0.8" height="4.6" fill-opacity="0.5"/>
<rect x="30.8" y="138.5" width="0.8" height="4.6" fill-opacity="0.35"/>
<rect x="54.2" y="138.5" width="1.2" height="4.6" fill-opacity="0.35"/>
<rect x="64.5" y="138.5" width="0.6" height="4.6" fill-opacity="0.5"/>
<rect x="54.5" y="138.5" width="1.2" height="4.6" fill-opacity="0.35"/>
<rect x="41.4" y="138.5" width="1.2" height="4.6" fill-opacity="0.5"/>
<rect x="60.2" y="138.5" width="1.2" height="4.6" fill-opacity="0.35"/>
<rect x="79.6" y="138.5" width="1.2" height="4.6" fill-opacity="0.95"/>
<rect x="20.1" y="138.5" width="1.2" height="4.6" fill-opacity="0.7"/>
<rect x="23.8" y="138.5" width="1.8" height="4.6" fill-opacity="0.35"/>
<rect x="71.3" y="138.5" width="0.6" height="4.6" fill-opacity="0.7"/>
<rect x="35.1" y="138.5" width="0.8" height="4.6" fill-opacity="0.5"/>
<rect x="35.4" y="138.5" width="0.6" height="4.6" fill-opacity="0.35"/>
<rect x="13.1" y="138.5" width="0.6" height="4.6" fill-opacity="0.7"/>
<rect x="53.2" y="138.5" width="1.8" height="4.6" fill-opacity="0.35"/>
<rect x="26.0" y="138.5" width="1.2" height="4.6" fill-opacity="0.5"/>
<rect x="59.4" y="138.5" width="0.6" height="4.6" fill-opacity="0.35"/>
<rect x="22.8" y="138.5" width="1.8" height="4.6" fill-opacity="0.5"/>
<rect x="80.0" y="138.5" width="1.2" height="4.6" fill-opacity="0.7"/>
<rect x="61.6" y="138.5" width="0.8" height="4.6" fill-opacity="0.35"/>
<rect x="56.5" y="138.5" width="0.6" height="4.6" fill-opacity="0.35"/>
<rect x="32.0" y="138.5" width="1.2" height="4.6" fill-opacity="0.95"/>
<rect x="69.2" y="138.5" width="1.2" height="4.6" fill-opacity="0.5"/>
<rect x="53.4" y="138.5" width="1.8" height="4.6" fill-opacity="0.5"/>
<rect x="95.4" y="138.5" width="1.8" height="4.6" fill-opacity="0.5"/>
<rect x="94.0" y="138.5" width="0.6" height="4.6" fill-opacity="0.5"/>
<rect x="39.3" y="138.5" width="1.8" height="4.6" fill-opacity="0.7"/>
<rect x="32.4" y="138.5" width="0.8" height="4.6" fill-opacity="0.7"/>
<rect x="89.1" y="138.5" width="1.2" height="4.6" fill-opacity="0.5"/>
<rect x="53.9" y="138.5" width="1.2" height="4.6" fill-opacity="0.7"/>
<rect x="45.5" y="138.5" width="0.8" height="4.6" fill-opacity="0.7"/>
<rect x="26.5" y="138.5" width="0.8" height="4.6" fill-opacity="0.7"/>
<rect x="59.9" y="138.5" width="0.8" height="4.6" fill-opacity="0.5"/>
<rect x="49.2" y="138.5" width="1.2" height="4.6" fill-opacity="0.35"/>
<rect x="53.2" y="138.5" width="0.6" height="4.6" fill-opacity="0.35"/>
<rect x="78.3" y="138.5" width="0.8" height="4.6" fill-opacity="0.5"/>
<rect x="83.0" y="138.5" width="1.2" height="4.6" fill-opacity="0.95"/>
<rect x="46.4" y="138.5" width="1.8" height="4.6" fill-opacity="0.95"/>
<rect x="41.1" y="138.5" width="0.6" height="4.6" fill-opacity="0.7"/>
<rect x="70.5" y="138.5" width="0.6" height="4.6" fill-opacity="0.5"/>
<rect x="21.6" y="138.5" width="0.6" height="4.6" fill-opacity="0.95"/>
<rect x="98.3" y="138.5" width="1.8" height="4.6" fill-opacity="0.35"/>
<rect x="55.2" y="138.5" width="1.2" height="4.6" fill-opacity="0.7"/>
<rect x="0.4" y="138.5" width=".8" height="4.6" fill-opacity=".45"/>
<rect x="5.9" y="138.5" width=".8" height="4.6" fill-opacity=".45"/>
<rect x="106.3" y="138.5" width=".8" height="4.6" fill-opacity=".45"/>
<rect x="110.4" y="138.5" width=".8" height="4.6" fill-opacity=".45"/>
<rect x="115.5" y="138.5" width=".8" height="4.6" fill-opacity=".45"/>
<rect x="126.2" y="138.5" width=".8" height="4.6" fill-opacity=".45"/>
</g>
<text x="19.9" y="150.5" font-size="5" fill="#8a8a8a" text-anchor="middle" font-family="Liberation Sans">−3</text>
<text x="51.4" y="150.5" font-size="5" fill="#8a8a8a" text-anchor="middle" font-family="Liberation Sans">−2</text>
<text x="82.6" y="150.5" font-size="5" fill="#8a8a8a" text-anchor="middle" font-family="Liberation Sans">−1</text>
<text x="113.5" y="150.5" font-size="5" fill="#8a8a8a" text-anchor="middle" font-family="Liberation Sans">0</text>
<text x="144.9" y="150.5" font-size="5" fill="#8a8a8a" text-anchor="middle" font-family="Liberation Sans">1</text>
</svg></div>
<div class="t" style="left:751px;top:360px" ><svg viewBox="0 0 160 160" shape-rendering="crispEdges">
<rect width="160" height="160" fill="#1d3e94"/>
<rect x="66.67" y="0.00" width="13.43" height="14.65" fill="#1c4f9d"/>
<rect x="80.00" y="0.00" width="13.43" height="14.65" fill="#1b68ad"/>
<rect x="26.67" y="14.55" width="13.43" height="14.65" fill="#1b68ad"/>
<rect x="53.33" y="14.55" width="13.43" height="14.65" fill="#1b68ad"/>
<rect x="66.67" y="14.55" width="13.43" height="14.65" fill="#1c4f9d"/>
<rect x="80.00" y="14.55" width="13.43" height="14.65" fill="#1a78b7"/>
<rect x="93.33" y="14.55" width="13.43" height="14.65" fill="#1a78b7"/>
<rect x="106.67" y="14.55" width="13.43" height="14.65" fill="#1c4f9d"/>
<rect x="13.33" y="29.09" width="13.43" height="14.65" fill="#1c4f9d"/>
<rect x="26.67" y="29.09" width="13.43" height="14.65" fill="#1c4f9d"/>
<rect x="40.00" y="29.09" width="13.43" height="14.65" fill="#1b68ad"/>
<rect x="53.33" y="29.09" width="13.43" height="14.65" fill="#1b68ad"/>
<rect x="66.67" y="29.09" width="13.43" height="14.65" fill="#1b68ad"/>
<rect x="80.00" y="29.09" width="13.43" height="14.65" fill="#1a78b7"/>
<rect x="93.33" y="29.09" width="13.43" height="14.65" fill="#1b68ad"/>
<rect x="106.67" y="29.09" width="13.43" height="14.65" fill="#1c4f9d"/>
<rect x="120.00" y="29.09" width="13.43" height="14.65" fill="#1b68ad"/>
<rect x="26.67" y="43.64" width="13.43" height="14.65" fill="#1b68ad"/>
<rect x="40.00" y="43.64" width="13.43" height="14.65" fill="#1b68ad"/>
<rect x="53.33" y="43.64" width="13.43" height="14.65" fill="#3a9eb6"/>
<rect x="66.67" y="43.64" width="13.43" height="14.65" fill="#f5d53e"/>
<rect x="80.00" y="43.64" width="13.43" height="14.65" fill="#c5c463"/>
<rect x="93.33" y="43.64" width="13.43" height="14.65" fill="#c5c463"/>
<rect x="106.67" y="43.64" width="13.43" height="14.65" fill="#1b68ad"/>
<rect x="120.00" y="43.64" width="13.43" height="14.65" fill="#1b68ad"/>
<rect x="26.67" y="58.18" width="13.43" height="14.65" fill="#1b68ad"/>
<rect x="40.00" y="58.18" width="13.43" height="14.65" fill="#9bb97e"/>
<rect x="53.33" y="58.18" width="13.43" height="14.65" fill="#f39d3d"/>
<rect x="66.67" y="58.18" width="13.43" height="14.65" fill="#f39d3d"/>
<rect x="80.00" y="58.18" width="13.43" height="14.65" fill="#f5b93d"/>
<rect x="93.33" y="58.18" width="13.43" height="14.65" fill="#e8452b"/>
<rect x="106.67" y="58.18" width="13.43" height="14.65" fill="#9bb97e"/>
<rect x="120.00" y="58.18" width="13.43" height="14.65" fill="#1b68ad"/>
<rect x="133.33" y="58.18" width="13.43" height="14.65" fill="#1c4f9d"/>
<rect x="146.67" y="58.18" width="13.43" height="14.65" fill="#1c4f9d"/>
<rect x="0.00" y="72.73" width="13.43" height="14.65" fill="#1c4f9d"/>
<rect x="13.33" y="72.73" width="13.43" height="14.65" fill="#1c4f9d"/>
<rect x="26.67" y="72.73" width="13.43" height="14.65" fill="#3a9eb6"/>
<rect x="40.00" y="72.73" width="13.43" height="14.65" fill="#f39d3d"/>
<rect x="53.33" y="72.73" width="13.43" height="14.65" fill="#e2272a"/>
<rect x="66.67" y="72.73" width="13.43" height="14.65" fill="#e85a30"/>
<rect x="80.00" y="72.73" width="13.43" height="14.65" fill="#f39d3d"/>
<rect x="93.33" y="72.73" width="13.43" height="14.65" fill="#f39d3d"/>
<rect x="106.67" y="72.73" width="13.43" height="14.65" fill="#f5d53e"/>
<rect x="120.00" y="72.73" width="13.43" height="14.65" fill="#f5d53e"/>
<rect x="146.67" y="72.73" width="13.43" height="14.65" fill="#1a78b7"/>
<rect x="0.00" y="87.27" width="13.43" height="14.65" fill="#1c4f9d"/>
<rect x="13.33" y="87.27" width="13.43" height="14.65" fill="#1c4f9d"/>
<rect x="26.67" y="87.27" width="13.43" height="14.65" fill="#3a9eb6"/>
<rect x="40.00" y="87.27" width="13.43" height="14.65" fill="#f5d53e"/>
<rect x="53.33" y="87.27" width="13.43" height="14.65" fill="#ee7c36"/>
<rect x="66.67" y="87.27" width="13.43" height="14.65" fill="#e2272a"/>
<rect x="80.00" y="87.27" width="13.43" height="14.65" fill="#e85a30"/>
<rect x="93.33" y="87.27" width="13.43" height="14.65" fill="#e85a30"/>
<rect x="106.67" y="87.27" width="13.43" height="14.65" fill="#f5b93d"/>
<rect x="120.00" y="87.27" width="13.43" height="14.65" fill="#3a9eb6"/>
<rect x="133.33" y="87.27" width="13.43" height="14.65" fill="#1b68ad"/>
<rect x="13.33" y="101.82" width="13.43" height="14.65" fill="#1c4f9d"/>
<rect x="26.67" y="101.82" width="13.43" height="14.65" fill="#1b8bc0"/>
<rect x="40.00" y="101.82" width="13.43" height="14.65" fill="#f39d3d"/>
<rect x="53.33" y="101.82" width="13.43" height="14.65" fill="#f39d3d"/>
<rect x="66.67" y="101.82" width="13.43" height="14.65" fill="#f39d3d"/>
<rect x="80.00" y="101.82" width="13.43" height="14.65" fill="#f39d3d"/>
<rect x="93.33" y="101.82" width="13.43" height="14.65" fill="#f39d3d"/>
<rect x="106.67" y="101.82" width="13.43" height="14.65" fill="#1b68ad"/>
<rect x="120.00" y="101.82" width="13.43" height="14.65" fill="#1b68ad"/>
<rect x="133.33" y="101.82" width="13.43" height="14.65" fill="#1c4f9d"/>
<rect x="13.33" y="116.36" width="13.43" height="14.65" fill="#1b68ad"/>
<rect x="26.67" y="116.36" width="13.43" height="14.65" fill="#1a78b7"/>
<rect x="40.00" y="116.36" width="13.43" height="14.65" fill="#c5c463"/>
<rect x="53.33" y="116.36" width="13.43" height="14.65" fill="#6aad9b"/>
<rect x="66.67" y="116.36" width="13.43" height="14.65" fill="#f5d53e"/>
<rect x="80.00" y="116.36" width="13.43" height="14.65" fill="#f08a3a"/>
<rect x="93.33" y="116.36" width="13.43" height="14.65" fill="#1b8bc0"/>
<rect x="106.67" y="116.36" width="13.43" height="14.65" fill="#3a9eb6"/>
<rect x="120.00" y="116.36" width="13.43" height="14.65" fill="#1b68ad"/>
<rect x="133.33" y="116.36" width="13.43" height="14.65" fill="#1c4f9d"/>
<rect x="40.00" y="130.91" width="13.43" height="14.65" fill="#1b68ad"/>
<rect x="53.33" y="130.91" width="13.43" height="14.65" fill="#1c4f9d"/>
<rect x="80.00" y="130.91" width="13.43" height="14.65" fill="#1b68ad"/>
<rect x="93.33" y="130.91" width="13.43" height="14.65" fill="#1c4f9d"/>
<rect x="106.67" y="130.91" width="13.43" height="14.65" fill="#1c4f9d"/>
<rect x="40.00" y="145.45" width="13.43" height="14.65" fill="#1b8bc0"/>
<rect x="53.33" y="145.45" width="13.43" height="14.65" fill="#1b8bc0"/>
<rect x="93.33" y="145.45" width="13.43" height="14.65" fill="#1c4f9d"/>
<rect x="120.00" y="145.45" width="13.43" height="14.65" fill="#1c4f9d"/>
</svg></div>
<div class="l" style="left:11px;top:539px">Error Bars</div>
<div class="l" style="left:193px;top:539px">Box Plots</div>
<div class="l" style="left:375px;top:539px">Histograms</div>
<div class="l" style="left:557px;top:539px">Distplots</div>
<div class="l" style="left:739px;top:539px">2D Histograms</div>
<!-- ROW3 -->
<div class="t" style="left:23px;top:660px" ><svg viewBox="0 0 160 160">
<defs><clipPath id="cc"><rect x="0" y="0" width="115.2" height="160"/></clipPath></defs>
<g clip-path="url(#cc)" stroke="#3c3c3c" stroke-width=".32" stroke-opacity=".8" stroke-linejoin="round">
<rect width="116" height="160" fill="#d6bfb1" stroke="none"/>
<path d="M-11.6,156.9L-9.0,156.9L-6.5,156.4L-3.9,155.4L-3.0,154.9L-1.3,153.4L0.1,151.8L1.2,149.3L1.4,148.8L1.4,145.7L1.2,145.4L-0.9,142.6L-1.3,142.3L-3.9,141.3L-6.5,140.8L-9.0,140.6L-11.6,140.6L-14.1,140.8L-14.1,142.6L-14.1,145.7L-14.1,148.8L-14.1,151.8L-14.1,154.9L-14.1,156.4Z" fill="#2b3fae" fill-rule="evenodd"/>
<path d="M-11.6,159.5L-9.0,159.5L-6.5,159.1L-3.9,158.4L-2.9,158.0L-1.3,157.1L1.2,155.2L1.6,154.9L3.8,152.3L4.1,151.8L5.4,148.8L6.0,145.7L5.5,142.6L3.8,139.6L3.7,139.6L1.2,137.9L-1.3,137.0L-3.9,136.5L-4.3,136.5L-6.5,136.3L-9.0,136.2L-11.6,136.2L-14.1,136.3L-14.1,136.5L-14.1,139.6L-14.1,140.8L-11.6,140.6L-9.0,140.6L-6.5,140.8L-3.9,141.3L-1.3,142.3L-0.9,142.6L1.2,145.4L1.4,145.7L1.4,148.8L1.2,149.3L0.1,151.8L-1.3,153.4L-3.0,154.9L-3.9,155.4L-6.5,156.4L-9.0,156.9L-11.6,156.9L-14.1,156.4L-14.1,158.0L-14.1,159.1Z" fill="#3b57c9" fill-rule="evenodd"/>
<path d="M-11.6,161.6L-9.0,161.6L-6.5,161.3L-5.2,161.0L-3.9,160.7L-1.3,159.7L1.2,158.3L1.7,158.0L3.8,156.3L5.2,154.9L6.3,153.4L7.5,151.8L8.9,148.8L8.9,148.8L9.7,145.7L9.9,142.6L9.4,139.6L8.9,138.4L7.9,136.5L6.3,134.9L3.8,133.5L3.7,133.4L1.2,132.7L-1.3,132.3L-3.9,132.1L-6.5,132.0L-9.0,132.0L-11.6,132.0L-14.1,132.0L-14.1,133.4L-14.1,136.3L-11.6,136.2L-9.0,136.2L-6.5,136.3L-4.3,136.5L-3.9,136.5L-1.3,137.0L1.2,137.9L3.7,139.6L3.8,139.6L5.5,142.6L6.0,145.7L5.4,148.8L4.1,151.8L3.8,152.3L1.6,154.9L1.2,155.2L-1.3,157.1L-2.9,158.0L-3.9,158.4L-6.5,159.1L-9.0,159.5L-11.6,159.5L-14.1,159.1L-14.1,161.0L-14.1,161.3ZM-3.9,75.2L-1.3,75.4L1.2,75.4L2.9,75.2L2.2,72.1L1.2,71.6L-1.3,70.3L-3.9,69.1L-4.0,69.0L-6.5,68.6L-9.0,68.4L-11.6,68.4L-14.1,68.6L-14.1,69.0L-14.1,72.1L-14.1,75.0L-11.6,74.8L-9.0,74.8L-6.5,75.0L-4.8,75.2Z" fill="#5577e2" fill-rule="evenodd"/>
<path d="M-11.6,163.6L-9.0,163.6L-6.5,163.3L-3.9,162.8L-1.3,162.0L0.8,161.0L1.2,160.8L3.8,159.3L5.6,158.0L6.3,157.3L8.8,154.9L8.9,154.7L11.0,151.8L11.5,150.7L12.5,148.8L13.4,145.7L13.9,142.6L14.0,139.6L13.6,136.5L12.5,133.4L11.5,131.8L10.0,130.4L8.9,129.7L6.3,128.6L3.8,128.0L1.2,127.7L-1.3,127.6L-3.9,127.5L-6.5,127.5L-9.0,127.5L-11.6,127.5L-14.1,127.5L-14.1,130.4L-14.1,132.0L-11.6,132.0L-9.0,132.0L-6.5,132.0L-3.9,132.1L-1.3,132.3L1.2,132.7L3.7,133.4L3.8,133.5L6.3,134.9L7.9,136.5L8.9,138.4L9.4,139.6L9.9,142.6L9.7,145.7L8.9,148.8L8.9,148.8L7.5,151.8L6.3,153.4L5.2,154.9L3.8,156.3L1.7,158.0L1.2,158.3L-1.3,159.7L-3.9,160.7L-5.2,161.0L-6.5,161.3L-9.0,161.6L-11.6,161.6L-14.1,161.3L-14.1,163.3ZM44.8,164.1L47.3,164.1L49.9,164.1L50.4,164.1L51.8,161.0L52.5,159.7L53.1,158.0L54.1,154.9L55.0,152.3L55.2,151.8L55.8,148.8L56.3,145.7L56.7,142.6L56.7,139.6L55.8,136.5L55.0,135.6L54.6,136.5L53.2,139.6L52.5,140.6L51.9,142.6L51.0,145.7L49.9,148.2L49.7,148.8L48.8,151.8L47.5,154.9L47.3,155.2L46.3,158.0L44.8,161.0L44.8,161.1L43.5,164.1ZM65.3,164.1L67.8,164.1L67.8,164.1L68.5,161.0L69.1,158.0L69.6,154.9L67.8,153.9L67.6,154.9L66.8,158.0L65.3,160.6L65.1,161.0L64.3,164.1ZM101.1,161.8L101.2,161.0L101.1,159.9L101.0,161.0ZM111.4,164.1L112.0,164.1L112.2,161.0L111.4,158.8L111.0,161.0L110.7,164.1ZM113.9,157.5L114.2,154.9L114.4,151.8L114.4,148.8L113.9,146.0L113.6,148.8L113.4,151.8L113.2,154.9ZM70.4,153.3L70.5,151.8L70.4,149.6L70.0,151.8ZM103.7,149.4L103.7,148.8L103.7,148.7L103.7,148.8ZM44.8,110.6L46.5,108.9L47.0,105.8L46.7,102.8L46.1,99.7L45.5,96.6L44.8,94.1L44.5,93.6L43.2,90.5L42.2,87.9L41.9,87.4L40.2,84.4L39.6,83.3L38.1,81.3L37.1,79.7L35.5,78.2L34.5,77.1L32.0,76.1L31.2,78.2L31.9,81.3L32.0,81.4L33.2,84.4L34.5,87.4L34.5,87.5L35.9,90.5L37.1,93.6L37.1,93.6L38.4,96.6L39.5,99.7L39.6,100.1L40.8,102.8L41.9,105.8L42.2,106.7L43.7,108.9ZM62.7,104.5L64.4,102.8L64.5,99.7L64.1,96.6L63.6,93.6L63.0,90.5L62.7,89.3L62.0,87.4L61.0,84.4L60.1,81.7L59.9,81.3L58.5,78.2L57.6,76.1L57.0,75.2L55.4,72.1L55.0,71.4L53.3,69.0L52.5,67.7L50.9,66.0L49.9,64.6L47.8,62.9L47.3,62.4L46.3,62.9L46.8,66.0L47.3,67.0L48.4,69.0L49.8,72.1L49.9,72.3L51.4,75.2L52.5,77.5L52.9,78.2L54.3,81.3L55.0,83.3L55.6,84.4L56.8,87.4L57.6,89.9L57.9,90.5L59.1,93.6L59.9,96.6L60.1,97.4L61.3,99.7L62.3,102.8ZM108.8,99.1L109.2,96.6L109.2,93.6L109.0,90.5L108.8,89.3L108.3,90.5L108.3,93.6L108.5,96.6ZM106.2,86.9L106.8,84.4L106.6,81.3L106.2,78.9L105.7,81.3L105.9,84.4ZM116.5,86.6L116.5,84.4L116.5,81.3L116.5,78.2L116.5,77.2L115.9,78.2L115.9,81.3L116.2,84.4ZM6.3,81.3L8.9,82.1L11.5,82.7L14.0,81.3L13.8,78.2L12.4,75.2L11.5,74.1L9.8,72.1L8.9,71.4L6.3,69.6L5.5,69.0L3.8,68.2L1.2,67.1L-1.3,66.3L-2.5,66.0L-3.9,65.6L-6.5,65.3L-9.0,65.1L-11.6,65.1L-14.1,65.3L-14.1,66.0L-14.1,68.6L-11.6,68.4L-9.0,68.4L-6.5,68.6L-4.0,69.0L-3.9,69.1L-1.3,70.3L1.2,71.6L2.2,72.1L2.9,75.2L1.2,75.4L-1.3,75.4L-3.9,75.2L-4.8,75.2L-6.5,75.0L-9.0,74.8L-11.6,74.8L-14.1,75.0L-14.1,75.2L-14.1,77.9L-11.6,77.7L-9.0,77.7L-6.5,77.9L-4.5,78.2L-3.9,78.3L-1.3,78.8L1.2,79.4L3.8,80.3L6.3,81.3ZM113.9,74.7L114.3,72.1L113.9,69.9L113.7,72.1ZM44.8,26.4L46.2,26.1L44.8,25.4L44.2,26.1ZM42.2,23.7L42.8,23.0L42.2,22.7L40.7,23.0ZM62.7,23.4L62.9,23.0L62.7,22.9L61.9,23.0ZM57.6,20.4L60.1,21.8L60.5,20.0L60.1,19.6L57.7,16.9L57.6,16.7L55.0,14.8L54.3,13.8L52.5,12.6L50.6,10.8L49.9,10.3L47.3,8.8L46.2,7.7L44.8,7.0L42.2,6.2L41.6,7.7L42.2,8.1L44.8,9.5L45.7,10.8L47.3,11.8L49.5,13.8L49.9,14.1L52.5,15.8L53.5,16.9L55.0,18.0L57.1,20.0ZM-11.6,15.5L-9.0,15.5L-6.5,15.5L-3.9,15.6L-1.3,15.7L1.2,15.7L3.8,15.4L5.3,13.8L3.8,13.5L1.2,12.9L-1.3,12.5L-3.9,12.1L-6.5,11.7L-9.0,11.6L-11.6,11.6L-14.1,11.7L-14.1,13.8L-14.1,15.5ZM113.9,14.8L114.3,13.8L113.9,13.1L113.5,13.8ZM111.4,11.2L111.8,10.8L111.4,9.7L111.1,10.8ZM62.7,8.1L64.8,7.7L62.7,6.4L62.2,7.7ZM39.6,5.3L40.7,4.6L39.6,4.3L38.2,4.6ZM60.1,5.6L61.6,4.6L60.1,3.6L58.7,4.6ZM55.0,1.9L57.6,3.2L58.3,1.6L57.6,1.0L55.0,-0.2L54.5,1.6ZM116.5,2.2L116.5,1.6L116.5,1.2L116.2,1.6Z" fill="#7b9bee" fill-rule="evenodd"/>
<path d="M-11.6,164.1L-9.0,164.1L-6.5,164.1L-3.9,164.1L-1.3,164.1L-1.2,164.1L1.2,163.3L3.8,162.1L5.7,161.0L6.3,160.6L8.9,158.8L10.1,158.0L11.5,156.7L13.4,154.9L14.0,154.1L16.1,151.8L16.6,150.9L18.5,148.8L19.2,146.9L20.9,148.8L21.2,151.8L21.3,154.9L21.4,158.0L21.4,161.0L21.5,164.1L21.7,164.1L24.3,164.1L26.4,164.1L26.8,163.8L28.7,161.0L29.4,160.2L30.7,158.0L32.0,155.9L32.5,154.9L34.0,151.8L34.5,150.7L35.3,148.8L36.4,145.7L37.1,143.8L37.4,142.6L38.2,139.6L38.9,136.5L39.5,133.4L39.6,131.9L39.9,130.4L40.1,127.3L40.3,124.2L42.2,122.7L44.8,122.7L47.3,122.7L49.9,122.7L51.6,124.2L51.5,127.3L51.3,130.4L51.0,133.4L50.6,136.5L50.0,139.6L49.9,140.1L49.3,142.6L48.6,145.7L47.7,148.8L47.3,149.8L46.6,151.8L45.5,154.9L44.8,156.6L44.2,158.0L42.7,161.0L42.2,162.1L41.0,164.1L42.2,164.1L43.5,164.1L44.8,161.1L44.8,161.0L46.3,158.0L47.3,155.2L47.5,154.9L48.8,151.8L49.7,148.8L49.9,148.2L51.0,145.7L51.9,142.6L52.5,140.6L53.2,139.6L54.6,136.5L55.0,135.6L55.8,136.5L56.7,139.6L56.7,142.6L56.3,145.7L55.8,148.8L55.2,151.8L55.0,152.3L54.1,154.9L53.1,158.0L52.5,159.7L51.8,161.0L50.4,164.1L52.3,164.1L52.5,163.8L53.7,161.0L54.9,158.0L55.0,157.6L56.0,154.9L57.0,151.8L57.6,149.7L57.9,148.8L58.7,145.7L59.3,142.6L59.8,139.6L60.1,137.4L60.3,136.5L60.7,133.4L61.0,130.4L61.2,127.3L61.3,124.2L62.7,122.7L65.3,122.7L67.8,122.7L69.7,124.2L69.6,127.3L69.5,130.4L69.3,133.4L69.0,136.5L68.5,139.6L68.0,142.6L67.8,143.1L67.3,145.7L66.7,148.8L66.0,151.8L65.3,154.0L65.0,154.9L64.1,158.0L63.0,161.0L62.7,161.8L61.8,164.1L62.7,164.1L64.3,164.1L65.1,161.0L65.3,160.6L66.8,158.0L67.6,154.9L67.8,153.9L69.6,154.9L69.1,158.0L68.5,161.0L67.8,164.1L70.2,164.1L70.4,163.6L71.4,161.0L72.3,158.0L72.9,155.4L73.1,154.9L74.0,151.8L74.7,148.8L75.2,145.7L75.5,143.7L75.8,142.6L76.4,139.6L76.8,136.5L77.0,133.4L77.2,130.4L77.4,127.3L77.4,124.2L75.5,122.7L72.9,122.7L70.4,122.7L69.7,121.2L69.6,118.1L69.5,115.0L69.3,112.0L69.0,108.9L68.5,105.8L68.0,102.8L67.8,102.3L67.3,99.7L66.7,96.6L66.0,93.6L65.3,91.4L65.0,90.5L64.1,87.4L63.0,84.4L62.7,83.6L61.8,81.3L60.6,78.2L60.1,77.3L59.1,75.2L57.6,72.1L57.6,72.1L56.0,69.0L55.0,67.4L54.1,66.0L52.5,63.3L52.1,62.9L50.0,59.8L49.9,59.6L47.7,56.8L47.3,56.1L45.2,53.7L44.8,53.0L42.4,50.6L42.2,49.9L39.6,47.6L39.2,47.6L39.6,47.5L42.2,47.0L44.8,46.7L47.3,45.8L48.1,44.5L47.3,44.1L45.1,41.4L44.8,41.2L42.2,38.9L41.7,38.4L39.6,36.8L38.1,35.3L37.1,34.6L34.5,32.7L33.9,32.2L32.0,30.9L29.4,29.2L29.3,29.2L26.8,27.8L24.3,26.4L22.6,26.1L21.7,25.1L21.5,26.1L21.4,29.2L21.2,32.2L19.2,33.8L16.6,32.6L16.1,32.2L14.0,31.5L11.5,30.7L8.9,29.9L6.9,29.2L6.3,29.0L3.8,28.5L1.2,28.0L-1.3,27.6L-3.9,27.4L-6.5,27.2L-9.0,27.1L-11.6,27.1L-14.1,27.2L-14.1,29.2L-14.1,32.0L-11.6,31.8L-9.0,31.8L-6.5,32.0L-4.6,32.2L-6.5,32.4L-9.0,32.4L-11.6,32.4L-14.1,32.4L-14.1,35.3L-14.1,37.4L-11.6,37.3L-9.0,37.3L-6.5,37.4L-3.9,37.5L-1.3,37.8L1.2,38.2L2.2,38.4L3.8,38.9L6.3,39.8L8.9,40.5L11.5,41.2L12.4,41.4L14.0,42.8L16.6,43.8L19.0,44.5L16.6,46.0L14.0,46.4L11.5,46.7L8.9,46.8L6.3,46.9L3.8,47.0L1.2,47.1L-1.3,47.2L-3.9,47.2L-6.5,47.3L-9.0,47.3L-11.6,47.3L-14.1,47.3L-14.1,47.6L-14.1,47.9L-11.6,47.8L-9.0,47.8L-6.5,47.9L-3.9,48.0L-1.3,48.2L1.2,48.6L3.8,49.9L4.4,50.6L6.3,51.0L8.9,51.7L11.5,53.0L12.6,53.7L14.0,54.3L16.6,55.6L18.5,56.8L19.2,57.3L20.9,56.8L21.3,53.7L21.4,50.6L21.5,47.6L20.2,44.5L21.3,41.4L21.4,38.4L21.6,35.3L21.7,35.0L21.8,35.3L24.3,36.6L26.8,38.0L27.4,38.4L29.4,39.9L32.0,41.4L32.0,41.4L34.5,43.9L35.8,44.5L34.5,46.0L32.0,46.6L29.4,46.9L26.8,47.1L24.3,47.5L23.0,47.6L24.3,47.6L26.8,48.3L28.1,50.6L29.4,51.2L32.0,53.5L32.1,53.7L34.5,55.7L35.3,56.8L37.1,58.3L38.2,59.8L39.6,61.3L40.9,62.9L42.2,64.4L43.3,66.0L44.8,68.0L45.4,69.0L47.3,72.0L47.4,72.1L49.2,75.2L49.9,76.4L50.8,78.2L52.3,81.3L52.5,81.6L53.7,84.4L54.9,87.4L55.0,87.8L56.0,90.5L57.0,93.6L57.6,95.7L57.9,96.6L58.7,99.7L59.3,102.8L59.8,105.8L60.1,108.0L60.3,108.9L60.7,112.0L61.0,115.0L61.2,118.1L61.3,121.2L60.1,122.7L57.6,122.7L55.0,122.7L52.5,122.7L51.6,121.2L51.5,118.1L51.3,115.0L51.0,112.0L50.6,108.9L50.0,105.8L49.9,105.3L49.3,102.8L48.6,99.7L47.7,96.6L47.3,95.6L46.6,93.6L45.5,90.5L44.8,88.8L44.2,87.4L42.7,84.4L42.2,83.3L41.0,81.3L39.6,78.8L39.2,78.2L37.2,75.2L37.1,74.9L35.0,72.1L34.5,71.4L32.4,69.0L32.0,68.4L29.6,66.0L29.4,65.7L26.8,63.3L26.0,62.9L24.3,61.0L21.9,59.8L21.7,59.0L21.6,59.8L21.5,62.9L21.4,66.0L21.3,69.0L21.1,72.1L19.2,73.4L18.0,72.1L16.6,71.3L14.0,69.6L13.3,69.0L11.5,67.9L8.9,66.6L7.5,66.0L6.3,65.4L3.8,64.4L1.2,63.7L-1.3,63.1L-2.4,62.9L-3.9,62.6L-6.5,62.2L-9.0,62.0L-11.6,62.0L-14.1,62.2L-14.1,62.9L-14.1,65.3L-11.6,65.1L-9.0,65.1L-6.5,65.3L-3.9,65.6L-2.5,66.0L-1.3,66.3L1.2,67.1L3.8,68.2L5.5,69.0L6.3,69.6L8.9,71.4L9.8,72.1L11.5,74.1L12.4,75.2L13.8,78.2L14.0,81.3L11.5,82.7L8.9,82.1L6.3,81.3L6.3,81.3L3.8,80.3L1.2,79.4L-1.3,78.8L-3.9,78.3L-4.5,78.2L-6.5,77.9L-9.0,77.7L-11.6,77.7L-14.1,77.9L-14.1,78.2L-14.1,80.1L-11.6,79.9L-9.0,79.9L-6.5,80.1L-3.9,80.5L-1.3,81.2L-1.2,81.3L1.2,82.1L3.8,83.3L5.7,84.4L6.3,84.8L8.9,86.6L10.1,87.4L11.5,88.7L13.4,90.5L14.0,91.3L16.1,93.6L16.6,94.5L18.5,96.6L19.2,98.5L20.9,96.6L21.2,93.6L21.3,90.5L21.4,87.4L21.4,84.4L21.5,81.3L21.5,78.2L21.7,75.8L23.0,78.2L24.3,78.5L26.4,81.3L26.8,81.6L28.7,84.4L29.4,85.2L30.7,87.4L32.0,89.5L32.5,90.5L34.0,93.6L34.5,94.7L35.3,96.6L36.4,99.7L37.1,101.6L37.4,102.8L38.2,105.8L38.9,108.9L39.5,112.0L39.6,113.5L39.9,115.0L40.1,118.1L40.3,121.2L39.6,122.7L37.1,122.7L34.5,122.7L32.0,122.7L29.4,122.7L26.8,122.7L25.1,124.2L24.9,127.3L24.7,130.4L24.3,133.4L24.3,133.6L22.3,136.5L21.9,139.6L21.7,141.7L21.6,139.6L21.6,136.5L21.5,133.4L21.5,130.4L21.5,127.3L21.5,124.2L19.2,122.7L16.6,122.7L14.0,122.7L11.5,122.7L8.9,122.7L6.3,122.7L3.8,122.7L1.2,122.7L-1.3,122.7L-3.9,122.7L-6.5,122.7L-9.0,122.7L-11.6,122.7L-14.1,122.7L-14.1,124.2L-14.1,127.3L-14.1,127.5L-11.6,127.5L-9.0,127.5L-6.5,127.5L-3.9,127.5L-1.3,127.6L1.2,127.7L3.8,128.0L6.3,128.6L8.9,129.7L10.0,130.4L11.5,131.8L12.5,133.4L13.6,136.5L14.0,139.6L13.9,142.6L13.4,145.7L12.5,148.8L11.5,150.7L11.0,151.8L8.9,154.7L8.8,154.9L6.3,157.3L5.6,158.0L3.8,159.3L1.2,160.8L0.8,161.0L-1.3,162.0L-3.9,162.8L-6.5,163.3L-9.0,163.6L-11.6,163.6L-14.1,163.3L-14.1,164.1ZM70.0,151.8L70.4,149.6L70.5,151.8L70.4,153.3ZM43.7,108.9L42.2,106.7L41.9,105.8L40.8,102.8L39.6,100.1L39.5,99.7L38.4,96.6L37.1,93.6L37.1,93.6L35.9,90.5L34.5,87.5L34.5,87.4L33.2,84.4L32.0,81.4L31.9,81.3L31.2,78.2L32.0,76.1L34.5,77.1L35.5,78.2L37.1,79.7L38.1,81.3L39.6,83.3L40.2,84.4L41.9,87.4L42.2,87.9L43.2,90.5L44.5,93.6L44.8,94.1L45.5,96.6L46.1,99.7L46.7,102.8L47.0,105.8L46.5,108.9L44.8,110.6ZM62.3,102.8L61.3,99.7L60.1,97.4L59.9,96.6L59.1,93.6L57.9,90.5L57.6,89.9L56.8,87.4L55.6,84.4L55.0,83.3L54.3,81.3L52.9,78.2L52.5,77.5L51.4,75.2L49.9,72.3L49.8,72.1L48.4,69.0L47.3,67.0L46.8,66.0L46.3,62.9L47.3,62.4L47.8,62.9L49.9,64.6L50.9,66.0L52.5,67.7L53.3,69.0L55.0,71.4L55.4,72.1L57.0,75.2L57.6,76.1L58.5,78.2L59.9,81.3L60.1,81.7L61.0,84.4L62.0,87.4L62.7,89.3L63.0,90.5L63.6,93.6L64.1,96.6L64.5,99.7L64.4,102.8L62.7,104.5ZM78.1,164.1L80.6,164.1L83.2,164.1L85.8,164.1L88.3,164.1L90.9,164.1L91.2,164.1L91.9,161.0L92.6,158.0L93.4,155.5L93.6,154.9L94.1,151.8L94.6,148.8L95.1,145.7L95.6,142.6L96.0,140.1L96.1,139.6L96.4,136.5L96.6,133.4L96.8,130.4L96.9,127.3L96.9,124.2L98.6,122.7L101.1,122.7L102.7,124.2L102.6,127.3L102.5,130.4L102.4,133.4L102.2,136.5L101.9,139.6L101.6,142.6L101.2,145.7L101.1,145.9L100.5,148.8L100.0,151.8L99.5,154.9L98.9,158.0L98.6,159.4L98.0,161.0L97.3,164.1L98.6,164.1L101.1,164.1L103.0,164.1L103.7,162.0L104.0,161.0L104.6,158.0L105.1,154.9L105.7,151.8L106.2,149.1L106.3,148.8L106.8,145.7L107.2,142.6L107.5,139.6L107.7,136.5L107.9,133.4L108.0,130.4L108.1,127.3L108.2,124.2L106.2,122.7L103.7,122.7L102.7,121.2L102.6,118.1L102.5,115.0L102.4,112.0L102.2,108.9L101.9,105.8L101.6,102.8L101.2,99.7L101.1,99.5L100.5,96.6L100.0,93.6L99.5,90.5L98.9,87.4L98.6,86.0L98.0,84.4L97.3,81.3L96.5,78.2L96.0,76.4L95.4,75.2L94.5,72.1L93.6,69.0L93.4,68.7L92.2,66.0L91.2,62.9L90.9,62.0L89.5,59.8L88.5,56.8L88.3,56.2L86.3,53.7L85.8,51.0L85.1,53.7L84.5,56.8L83.2,59.6L82.4,56.8L80.6,54.3L80.3,53.7L78.8,50.6L78.1,48.7L76.9,47.6L78.1,47.1L80.6,46.5L82.6,44.5L80.6,42.8L80.3,41.4L78.3,38.4L78.1,38.2L76.3,35.3L75.5,34.6L74.0,32.2L72.9,31.1L71.6,29.2L70.4,27.9L69.1,26.1L67.8,24.8L66.3,23.0L65.3,22.0L63.5,20.0L62.7,19.2L60.3,16.9L60.1,16.7L57.6,14.5L56.9,13.8L55.0,12.2L53.4,10.8L52.5,10.0L49.9,8.1L49.4,7.7L47.3,6.2L45.1,4.6L44.8,4.4L42.2,2.8L40.2,1.6L39.6,1.1L37.1,-0.3L34.7,-1.5L34.5,-1.7L32.0,-3.0L29.4,-4.0L28.1,-4.6L26.8,-5.4L24.3,-6.3L21.7,-7.1L21.4,-4.6L21.1,-1.5L19.2,-0.8L17.5,-1.5L16.6,-1.7L14.0,-2.5L11.5,-3.1L8.9,-3.7L6.3,-4.2L4.3,-4.6L3.8,-4.7L1.2,-5.2L-1.3,-5.5L-3.9,-5.7L-6.5,-5.8L-9.0,-5.9L-11.6,-5.9L-14.1,-5.8L-14.1,-4.6L-14.1,-2.8L-11.6,-2.9L-9.0,-2.9L-6.5,-2.8L-3.9,-2.6L-1.3,-2.3L1.2,-2.0L3.8,-1.6L4.1,-1.5L3.8,-1.4L1.2,-0.9L-1.3,-0.8L-3.9,-0.7L-6.5,-0.7L-9.0,-0.7L-11.6,-0.7L-14.1,-0.7L-14.1,1.6L-14.1,1.7L-11.6,1.6L-9.0,1.6L-6.5,1.7L-3.9,1.9L-1.3,2.1L1.2,2.4L3.8,2.8L6.3,3.2L8.9,3.7L11.5,4.4L12.4,4.6L14.0,5.2L16.6,6.0L19.2,6.7L21.3,4.6L21.5,1.6L21.7,0.0L24.3,1.0L25.0,1.6L26.8,2.2L29.4,3.3L32.0,4.6L32.0,4.6L34.5,6.0L37.1,7.4L37.5,7.7L39.6,9.0L42.2,10.6L42.4,10.8L44.8,12.4L46.6,13.8L47.3,14.4L49.9,16.3L50.6,16.9L52.5,18.5L54.1,20.0L55.0,20.9L57.4,23.0L57.6,23.3L60.1,25.8L60.5,26.1L62.7,28.6L63.3,29.2L65.3,31.5L66.0,32.2L67.8,34.7L68.4,35.3L70.4,38.1L70.7,38.4L72.8,41.4L72.9,41.9L74.9,44.5L72.9,46.6L70.4,47.1L69.1,47.6L70.4,48.5L71.1,50.6L72.8,53.7L72.9,53.8L74.7,56.8L75.5,58.4L76.4,59.8L77.7,62.9L78.1,63.7L79.4,66.0L80.5,69.0L80.6,69.6L82.2,72.1L83.0,75.2L83.2,76.4L83.9,75.2L84.6,72.1L85.0,69.0L85.6,66.0L85.8,65.4L85.8,66.0L86.4,69.0L88.3,72.1L88.3,72.1L89.1,75.2L90.0,78.2L90.9,79.9L91.2,81.3L91.9,84.4L92.6,87.4L93.4,89.9L93.6,90.5L94.1,93.6L94.6,96.6L95.1,99.7L95.6,102.8L96.0,105.3L96.1,105.8L96.4,108.9L96.6,112.0L96.8,115.0L96.9,118.1L96.9,121.2L96.0,122.7L93.4,122.7L90.9,122.7L90.8,121.2L90.7,118.1L90.5,115.0L90.2,112.0L89.8,108.9L89.5,105.8L89.2,102.8L88.8,99.7L88.5,96.6L88.3,95.7L87.1,93.6L86.4,90.5L86.0,87.4L85.8,84.7L85.3,87.4L85.0,90.5L84.8,93.6L84.5,96.6L84.2,99.7L83.7,102.8L83.2,105.3L83.0,102.8L82.8,99.7L82.4,96.6L81.7,93.6L80.6,91.4L80.5,90.5L79.9,87.4L79.1,84.4L78.1,82.2L77.8,81.3L76.9,78.2L75.7,75.2L75.5,74.9L74.5,72.1L73.1,69.0L72.9,68.8L71.7,66.0L70.4,63.5L70.1,62.9L68.5,59.8L67.8,58.6L66.7,56.8L65.3,54.3L64.8,53.7L62.7,50.6L62.7,50.5L60.6,47.6L62.7,47.0L65.3,46.5L67.0,44.5L65.3,42.8L64.7,41.4L62.7,39.1L62.3,38.4L60.1,35.9L59.7,35.3L57.6,33.1L56.9,32.2L55.0,30.4L54.0,29.2L52.5,27.8L50.7,26.1L49.9,25.4L47.3,23.2L47.2,23.0L44.8,21.2L43.2,20.0L42.2,19.1L39.6,17.5L38.9,16.9L37.1,15.7L34.5,14.2L33.9,13.8L32.0,12.6L29.4,11.4L28.1,10.8L26.8,10.0L24.3,8.9L21.7,7.8L21.4,10.8L21.2,13.8L19.2,15.1L16.6,14.1L16.1,13.8L14.0,13.1L11.5,12.4L8.9,11.8L6.3,11.2L4.4,10.8L3.8,10.6L1.2,10.2L-1.3,9.8L-3.9,9.6L-6.5,9.5L-9.0,9.4L-11.6,9.4L-14.1,9.5L-14.1,10.8L-14.1,11.7L-11.6,11.6L-9.0,11.6L-6.5,11.7L-3.9,12.1L-1.3,12.5L1.2,12.9L3.8,13.5L5.3,13.8L3.8,15.4L1.2,15.7L-1.3,15.7L-3.9,15.6L-6.5,15.5L-9.0,15.5L-11.6,15.5L-14.1,15.5L-14.1,16.9L-14.1,18.0L-11.6,17.9L-9.0,17.9L-6.5,18.0L-3.9,18.2L-1.3,18.4L1.2,18.7L3.8,19.1L6.3,19.7L7.4,20.0L8.9,20.4L11.5,21.2L14.0,21.9L16.6,22.9L17.3,23.0L19.2,24.0L21.1,23.0L21.4,20.0L21.6,16.9L21.7,16.0L22.3,16.9L24.3,17.3L26.8,18.5L29.4,19.8L29.6,20.0L32.0,21.4L34.5,22.9L34.7,23.0L37.1,24.7L39.1,26.1L39.6,26.6L42.2,28.5L43.1,29.2L44.8,30.7L46.6,32.2L47.3,33.0L49.9,35.3L49.9,35.3L52.5,38.0L52.9,38.4L55.0,40.9L55.7,41.4L57.6,44.1L58.2,44.5L57.6,45.8L55.0,46.7L52.5,47.1L50.8,47.6L52.5,48.3L53.4,50.6L55.0,52.4L55.7,53.7L57.6,56.2L57.9,56.8L59.8,59.8L60.1,60.3L61.7,62.9L62.7,64.6L63.5,66.0L65.0,69.0L65.3,69.6L66.5,72.1L67.8,75.2L67.8,75.2L69.1,78.2L70.2,81.3L70.4,81.8L71.4,84.4L72.3,87.4L72.9,90.0L73.1,90.5L74.0,93.6L74.7,96.6L75.2,99.7L75.5,101.7L75.8,102.8L76.4,105.8L76.8,108.9L77.0,112.0L77.2,115.0L77.4,118.1L77.4,121.2L78.1,122.7L80.6,122.7L83.2,122.7L85.8,122.7L88.3,122.7L90.8,124.2L90.7,127.3L90.5,130.4L90.2,133.4L89.8,136.5L89.5,139.6L89.2,142.6L88.8,145.7L88.5,148.8L88.3,149.7L87.1,151.8L86.4,154.9L86.0,158.0L85.8,160.7L85.3,158.0L85.0,154.9L84.8,151.8L84.5,148.8L84.2,145.7L83.7,142.6L83.2,140.1L83.0,142.6L82.8,145.7L82.4,148.8L81.7,151.8L80.6,154.0L80.5,154.9L79.9,158.0L79.1,161.0L78.1,163.2L77.8,164.1ZM101.0,161.0L101.1,159.9L101.2,161.0L101.1,161.8ZM103.7,148.8L103.7,148.7L103.7,148.8L103.7,149.4ZM44.2,26.1L44.8,25.4L46.2,26.1L44.8,26.4ZM40.7,23.0L42.2,22.7L42.8,23.0L42.2,23.7ZM61.9,23.0L62.7,22.9L62.9,23.0L62.7,23.4ZM57.1,20.0L55.0,18.0L53.5,16.9L52.5,15.8L49.9,14.1L49.5,13.8L47.3,11.8L45.7,10.8L44.8,9.5L42.2,8.1L41.6,7.7L42.2,6.2L44.8,7.0L46.2,7.7L47.3,8.8L49.9,10.3L50.6,10.8L52.5,12.6L54.3,13.8L55.0,14.8L57.6,16.7L57.7,16.9L60.1,19.6L60.5,20.0L60.1,21.8L57.6,20.4ZM38.2,4.6L39.6,4.3L40.7,4.6L39.6,5.3ZM108.8,164.1L110.7,164.1L111.0,161.0L111.4,158.8L112.2,161.0L112.0,164.1L113.9,164.1L113.9,164.1L114.7,161.0L115.2,158.0L115.7,154.9L116.3,151.8L116.5,150.8L116.5,148.8L116.5,145.7L116.5,142.6L116.5,139.6L116.5,136.5L116.5,133.4L116.5,130.4L116.5,127.3L116.5,124.2L116.5,122.7L113.9,122.7L113.5,121.2L113.4,118.1L113.3,115.0L113.2,112.0L113.0,108.9L112.8,105.8L112.5,102.8L112.2,99.7L111.8,96.6L111.4,94.7L111.1,93.6L110.5,90.5L110.0,87.4L109.5,84.4L108.8,81.9L108.6,81.3L107.8,78.2L107.1,75.2L106.2,72.3L106.1,72.1L105.1,69.0L104.2,66.0L103.7,64.5L102.9,62.9L101.9,59.8L101.1,57.7L100.5,56.8L99.4,53.7L98.6,51.5L97.8,50.6L96.5,47.6L98.6,46.8L100.8,44.5L99.3,41.4L98.6,40.3L97.6,38.4L96.0,35.3L96.0,35.3L94.1,32.2L93.4,31.1L92.1,29.2L90.9,27.1L89.9,26.1L88.3,23.3L87.8,23.0L85.8,20.0L85.8,19.6L85.6,20.0L84.6,23.0L83.2,25.4L82.1,23.0L80.6,22.0L79.4,20.0L78.1,18.7L76.8,16.9L75.5,15.7L74.0,13.8L72.9,12.8L71.1,10.8L70.4,10.1L68.0,7.7L67.8,7.5L65.3,5.2L64.7,4.6L62.7,2.9L61.3,1.6L60.1,0.6L57.6,-1.4L57.4,-1.5L55.0,-3.4L53.4,-4.6L52.5,-5.4L49.9,-6.9L48.8,-7.6L47.3,-7.6L44.8,-7.6L42.2,-7.6L39.6,-7.6L37.1,-7.6L36.8,-7.6L37.1,-7.5L39.6,-6.2L42.2,-4.7L42.4,-4.6L44.8,-3.1L47.2,-1.5L47.3,-1.4L49.9,0.2L51.6,1.6L52.5,2.2L55.0,4.0L55.7,4.6L57.6,6.2L59.3,7.7L60.1,8.5L62.7,10.7L62.7,10.8L65.3,13.2L66.0,13.8L67.8,15.8L68.9,16.9L70.4,18.6L71.7,20.0L72.9,21.6L74.4,23.0L75.5,24.7L76.9,26.1L78.1,28.0L79.3,29.2L80.6,31.5L81.7,32.2L83.2,35.3L84.8,32.2L85.7,29.2L85.8,29.0L85.8,29.2L87.1,32.2L88.3,33.1L89.4,35.3L90.9,37.3L91.5,38.4L93.3,41.4L93.4,41.8L94.8,44.5L93.4,46.6L90.9,47.3L90.0,47.6L90.9,47.8L91.8,50.6L93.3,53.7L93.4,53.8L94.6,56.8L96.0,59.6L96.1,59.8L97.2,62.9L98.4,66.0L98.6,66.3L99.5,69.0L100.4,72.1L101.1,73.9L101.5,75.2L102.3,78.2L103.0,81.3L103.7,83.4L104.0,84.4L104.6,87.4L105.1,90.5L105.7,93.6L106.2,96.3L106.3,96.6L106.8,99.7L107.2,102.8L107.5,105.8L107.7,108.9L107.9,112.0L108.0,115.0L108.1,118.1L108.2,121.2L108.8,122.7L111.4,122.7L113.5,124.2L113.4,127.3L113.3,130.4L113.2,133.4L113.0,136.5L112.8,139.6L112.5,142.6L112.2,145.7L111.8,148.8L111.4,150.7L111.1,151.8L110.5,154.9L110.0,158.0L109.5,161.0L108.8,163.5L108.6,164.1ZM113.2,154.9L113.4,151.8L113.6,148.8L113.9,146.0L114.4,148.8L114.4,151.8L114.2,154.9L113.9,157.5ZM108.5,96.6L108.3,93.6L108.3,90.5L108.8,89.3L109.0,90.5L109.2,93.6L109.2,96.6L108.8,99.1ZM105.9,84.4L105.7,81.3L106.2,78.9L106.6,81.3L106.8,84.4L106.2,86.9ZM62.2,7.7L62.7,6.4L64.8,7.7L62.7,8.1ZM58.7,4.6L60.1,3.6L61.6,4.6L60.1,5.6ZM54.5,1.6L55.0,-0.2L57.6,1.0L58.3,1.6L57.6,3.2L55.0,1.9ZM21.7,122.7L24.3,122.7L25.1,121.2L24.9,118.1L24.7,115.0L24.3,112.0L24.3,111.8L22.3,108.9L21.9,105.8L21.7,103.7L21.6,105.8L21.6,108.9L21.5,112.0L21.5,115.0L21.5,118.1L21.5,121.2ZM116.5,94.6L116.5,93.6L116.5,90.5L116.5,87.4L116.5,86.6L116.2,84.4L115.9,81.3L115.9,78.2L116.5,77.2L116.5,75.2L116.5,72.1L116.5,71.4L115.7,69.0L114.9,66.0L113.9,63.1L113.8,62.9L112.8,59.8L111.8,56.8L111.4,55.7L110.4,53.7L109.3,50.6L108.8,48.5L107.8,47.6L108.8,47.1L111.4,46.0L112.0,44.5L111.4,43.9L110.4,41.4L109.0,38.4L108.8,38.1L107.4,35.3L106.2,33.2L105.7,32.2L104.2,29.2L103.7,28.5L102.3,26.1L101.1,24.3L100.3,23.0L98.6,20.2L98.4,20.0L96.4,16.9L96.0,16.3L94.1,13.8L93.4,12.8L91.7,10.8L90.9,9.4L89.2,7.7L88.3,6.2L86.3,4.6L85.8,3.2L85.1,4.6L83.7,7.7L83.2,8.1L83.0,7.7L80.6,5.2L80.3,4.6L78.1,2.4L77.4,1.6L75.5,-0.3L74.4,-1.5L72.9,-2.8L71.1,-4.6L70.4,-5.3L67.8,-7.3L67.5,-7.6L65.3,-7.6L62.7,-7.6L60.1,-7.6L58.9,-7.6L60.1,-6.6L62.7,-4.6L62.7,-4.6L65.3,-2.5L66.4,-1.5L67.8,-0.2L69.7,1.6L70.4,2.3L72.8,4.6L72.9,4.8L75.5,7.4L75.9,7.7L78.1,10.2L78.8,10.8L80.6,13.2L81.7,13.8L83.2,16.3L84.8,13.8L85.8,11.2L87.1,13.8L88.3,14.5L89.8,16.9L90.9,17.9L92.2,20.0L93.4,21.5L94.4,23.0L96.0,25.4L96.5,26.1L98.3,29.2L98.6,29.6L100.0,32.2L101.1,34.1L101.9,35.3L103.4,38.4L103.7,39.0L105.0,41.4L106.2,44.2L106.6,44.5L106.2,45.6L103.7,47.0L102.3,47.6L103.7,50.0L103.8,50.6L105.0,53.7L106.2,56.5L106.3,56.8L107.5,59.8L108.5,62.9L108.8,63.5L109.7,66.0L110.5,69.0L111.4,71.5L111.6,72.1L112.4,75.2L113.1,78.2L113.9,81.3L113.9,81.3L114.7,84.4L115.2,87.4L115.7,90.5L116.3,93.6ZM113.7,72.1L113.9,69.9L114.3,72.1L113.9,74.7ZM116.5,55.6L116.5,53.7L116.5,50.6L116.5,47.6L116.5,46.0L113.9,47.2L113.1,47.6L113.9,48.2L114.6,50.6L115.6,53.7ZM85.8,46.9L88.3,45.8L88.6,44.5L88.3,44.1L86.3,41.4L85.8,39.7L85.1,41.4L84.4,44.5ZM116.5,43.9L116.5,41.4L116.5,38.4L116.5,35.3L116.5,32.6L116.3,32.2L114.9,29.2L113.9,27.7L113.0,26.1L111.5,23.0L111.4,22.9L109.7,20.0L108.8,18.6L107.7,16.9L106.2,14.6L105.7,13.8L103.8,10.8L103.7,10.6L101.6,7.7L101.1,7.0L99.3,4.6L98.6,3.5L96.9,1.6L96.0,0.2L94.4,-1.5L93.4,-2.9L91.7,-4.6L90.9,-5.9L88.9,-7.6L88.3,-7.6L85.8,-7.6L84.0,-7.6L83.2,-6.9L82.9,-7.6L80.6,-7.6L78.1,-7.6L75.5,-7.6L75.4,-7.6L75.5,-7.5L78.1,-5.2L78.8,-4.6L80.6,-2.5L82.1,-1.5L83.2,0.2L84.6,-1.5L85.8,-4.2L87.9,-1.5L88.3,-1.4L90.8,1.6L90.9,1.6L93.3,4.6L93.4,4.8L95.6,7.7L96.0,8.1L97.8,10.8L98.6,11.6L100.0,13.8L101.1,15.3L102.2,16.9L103.7,19.2L104.2,20.0L106.0,23.0L106.2,23.4L107.8,26.1L108.8,27.9L109.6,29.2L111.1,32.2L111.4,32.7L112.7,35.3L113.9,37.8L114.3,38.4L115.6,41.4ZM116.5,22.9L116.5,20.0L116.5,16.9L116.5,14.1L116.3,13.8L114.6,10.8L113.9,9.9L112.5,7.7L111.4,6.0L110.4,4.6L108.8,2.3L108.2,1.6L106.2,-1.2L106.0,-1.5L103.8,-4.6L103.7,-4.7L101.3,-7.6L101.1,-7.6L98.6,-7.6L96.0,-7.6L95.2,-7.6L96.0,-6.9L97.8,-4.6L98.6,-3.8L100.3,-1.5L101.1,-0.6L102.7,1.6L103.7,2.8L105.0,4.6L106.2,6.3L107.2,7.7L108.8,10.1L109.3,10.8L111.1,13.8L111.4,14.2L113.0,16.9L113.9,18.4L114.9,20.0ZM113.5,13.8L113.9,13.1L114.3,13.8L113.9,14.8ZM111.1,10.8L111.4,9.7L111.8,10.8L111.4,11.2ZM116.5,6.0L116.5,4.6L116.5,2.2L116.2,1.6L116.5,1.2L116.5,-1.5L116.5,-1.7L114.6,-4.6L113.9,-5.5L112.3,-7.6L111.4,-7.6L108.8,-7.6L107.0,-7.6L108.8,-5.3L109.3,-4.6L111.4,-1.7L111.5,-1.5L113.5,1.6L113.9,2.1L115.6,4.6Z" fill="#a9b3d9" fill-rule="evenodd"/>
<path d="M1.2,164.1L3.8,164.1L6.3,164.1L6.3,164.1L8.9,163.3L11.5,162.7L14.0,164.1L14.0,164.1L16.6,164.1L19.2,164.1L21.5,164.1L21.4,161.0L21.4,158.0L21.3,154.9L21.2,151.8L20.9,148.8L19.2,146.9L18.5,148.8L16.6,150.9L16.1,151.8L14.0,154.1L13.4,154.9L11.5,156.7L10.1,158.0L8.9,158.8L6.3,160.6L5.7,161.0L3.8,162.1L1.2,163.3L-1.2,164.1ZM26.8,164.1L29.4,164.1L31.9,164.1L32.0,164.0L33.2,161.0L34.5,158.0L34.5,157.9L35.9,154.9L37.1,151.8L37.1,151.8L38.4,148.8L39.5,145.7L39.6,145.3L40.8,142.6L41.9,139.6L42.2,138.7L43.7,136.5L44.8,134.8L46.5,136.5L47.0,139.6L46.7,142.6L46.1,145.7L45.5,148.8L44.8,151.3L44.5,151.8L43.2,154.9L42.2,157.5L41.9,158.0L40.2,161.0L39.6,162.1L38.1,164.1L39.6,164.1L41.0,164.1L42.2,162.1L42.7,161.0L44.2,158.0L44.8,156.6L45.5,154.9L46.6,151.8L47.3,149.8L47.7,148.8L48.6,145.7L49.3,142.6L49.9,140.1L50.0,139.6L50.6,136.5L51.0,133.4L51.3,130.4L51.5,127.3L51.6,124.2L49.9,122.7L47.3,122.7L44.8,122.7L42.2,122.7L40.3,124.2L40.1,127.3L39.9,130.4L39.6,131.9L39.5,133.4L38.9,136.5L38.2,139.6L37.4,142.6L37.1,143.8L36.4,145.7L35.3,148.8L34.5,150.7L34.0,151.8L32.5,154.9L32.0,155.9L30.7,158.0L29.4,160.2L28.7,161.0L26.8,163.8L26.4,164.1ZM52.5,164.1L54.3,164.1L55.0,162.1L55.6,161.0L56.8,158.0L57.6,155.5L57.9,154.9L59.1,151.8L59.9,148.8L60.1,148.0L61.3,145.7L62.3,142.6L62.7,140.9L64.4,142.6L64.5,145.7L64.1,148.8L63.6,151.8L63.0,154.9L62.7,156.1L62.0,158.0L61.0,161.0L60.1,163.7L59.9,164.1L60.1,164.1L61.8,164.1L62.7,161.8L63.0,161.0L64.1,158.0L65.0,154.9L65.3,154.0L66.0,151.8L66.7,148.8L67.3,145.7L67.8,143.1L68.0,142.6L68.5,139.6L69.0,136.5L69.3,133.4L69.5,130.4L69.6,127.3L69.7,124.2L67.8,122.7L65.3,122.7L62.7,122.7L61.3,124.2L61.2,127.3L61.0,130.4L60.7,133.4L60.3,136.5L60.1,137.4L59.8,139.6L59.3,142.6L58.7,145.7L57.9,148.8L57.6,149.7L57.0,151.8L56.0,154.9L55.0,157.6L54.9,158.0L53.7,161.0L52.5,163.8L52.3,164.1ZM70.4,164.1L72.9,164.1L75.5,164.1L77.8,164.1L78.1,163.2L79.1,161.0L79.9,158.0L80.5,154.9L80.6,154.0L81.7,151.8L82.4,148.8L82.8,145.7L83.0,142.6L83.2,140.1L83.7,142.6L84.2,145.7L84.5,148.8L84.8,151.8L85.0,154.9L85.3,158.0L85.8,160.7L86.0,158.0L86.4,154.9L87.1,151.8L88.3,149.7L88.5,148.8L88.8,145.7L89.2,142.6L89.5,139.6L89.8,136.5L90.2,133.4L90.5,130.4L90.7,127.3L90.8,124.2L88.3,122.7L85.8,122.7L83.2,122.7L80.6,122.7L78.1,122.7L77.4,121.2L77.4,118.1L77.2,115.0L77.0,112.0L76.8,108.9L76.4,105.8L75.8,102.8L75.5,101.7L75.2,99.7L74.7,96.6L74.0,93.6L73.1,90.5L72.9,90.0L72.3,87.4L71.4,84.4L70.4,81.8L70.2,81.3L69.1,78.2L67.8,75.2L67.8,75.2L66.5,72.1L65.3,69.6L65.0,69.0L63.5,66.0L62.7,64.6L61.7,62.9L60.1,60.3L59.8,59.8L57.9,56.8L57.6,56.2L55.7,53.7L55.0,52.4L53.4,50.6L52.5,48.3L50.8,47.6L52.5,47.1L55.0,46.7L57.6,45.8L58.2,44.5L57.6,44.1L55.7,41.4L55.0,40.9L52.9,38.4L52.5,38.0L49.9,35.3L49.9,35.3L47.3,33.0L46.6,32.2L44.8,30.7L43.1,29.2L42.2,28.5L39.6,26.6L39.1,26.1L37.1,24.7L34.7,23.0L34.5,22.9L32.0,21.4L29.6,20.0L29.4,19.8L26.8,18.5L24.3,17.3L22.3,16.9L21.7,16.0L21.6,16.9L21.4,20.0L21.1,23.0L19.2,24.0L17.3,23.0L16.6,22.9L14.0,21.9L11.5,21.2L8.9,20.4L7.4,20.0L6.3,19.7L3.8,19.1L1.2,18.7L-1.3,18.4L-3.9,18.2L-6.5,18.0L-9.0,17.9L-11.6,17.9L-14.1,18.0L-14.1,20.0L-14.1,20.0L-13.9,20.0L-11.6,19.9L-9.0,19.9L-6.7,20.0L-6.5,20.0L-3.9,20.7L-1.3,21.4L1.2,22.1L3.8,22.8L4.7,23.0L3.8,23.6L1.2,24.1L-1.3,24.2L-3.9,24.2L-6.5,24.2L-9.0,24.2L-11.6,24.2L-14.1,24.2L-14.1,26.1L-14.1,27.2L-11.6,27.1L-9.0,27.1L-6.5,27.2L-3.9,27.4L-1.3,27.6L1.2,28.0L3.8,28.5L6.3,29.0L6.9,29.2L8.9,29.9L11.5,30.7L14.0,31.5L16.1,32.2L16.6,32.6L19.2,33.8L21.2,32.2L21.4,29.2L21.5,26.1L21.7,25.1L22.6,26.1L24.3,26.4L26.8,27.8L29.3,29.2L29.4,29.2L32.0,30.9L33.9,32.2L34.5,32.7L37.1,34.6L38.1,35.3L39.6,36.8L41.7,38.4L42.2,38.9L44.8,41.2L45.1,41.4L47.3,44.1L48.1,44.5L47.3,45.8L44.8,46.7L42.2,47.0L39.6,47.5L39.2,47.6L39.6,47.6L42.2,49.9L42.4,50.6L44.8,53.0L45.2,53.7L47.3,56.1L47.7,56.8L49.9,59.6L50.0,59.8L52.1,62.9L52.5,63.3L54.1,66.0L55.0,67.4L56.0,69.0L57.6,72.1L57.6,72.1L59.1,75.2L60.1,77.3L60.6,78.2L61.8,81.3L62.7,83.6L63.0,84.4L64.1,87.4L65.0,90.5L65.3,91.4L66.0,93.6L66.7,96.6L67.3,99.7L67.8,102.3L68.0,102.8L68.5,105.8L69.0,108.9L69.3,112.0L69.5,115.0L69.6,118.1L69.7,121.2L70.4,122.7L72.9,122.7L75.5,122.7L77.4,124.2L77.4,127.3L77.2,130.4L77.0,133.4L76.8,136.5L76.4,139.6L75.8,142.6L75.5,143.7L75.2,145.7L74.7,148.8L74.0,151.8L73.1,154.9L72.9,155.4L72.3,158.0L71.4,161.0L70.4,163.6L70.2,164.1ZM70.0,93.6L70.4,92.1L70.5,93.6L70.4,95.8ZM67.6,90.5L66.8,87.4L65.3,84.8L65.1,84.4L64.3,81.3L62.7,78.4L62.6,78.2L61.6,75.2L60.1,72.5L60.0,72.1L58.9,69.0L57.6,66.7L57.3,66.0L57.3,62.9L57.6,62.8L57.7,62.9L60.1,65.7L60.3,66.0L61.9,69.0L62.7,69.9L63.7,72.1L65.3,74.8L65.4,75.2L66.4,78.2L67.8,81.3L67.8,81.3L68.5,84.4L69.1,87.4L69.6,90.5L67.8,91.5ZM93.4,164.1L96.0,164.1L97.3,164.1L98.0,161.0L98.6,159.4L98.9,158.0L99.5,154.9L100.0,151.8L100.5,148.8L101.1,145.9L101.2,145.7L101.6,142.6L101.9,139.6L102.2,136.5L102.4,133.4L102.5,130.4L102.6,127.3L102.7,124.2L101.1,122.7L98.6,122.7L96.9,124.2L96.9,127.3L96.8,130.4L96.6,133.4L96.4,136.5L96.1,139.6L96.0,140.1L95.6,142.6L95.1,145.7L94.6,148.8L94.1,151.8L93.6,154.9L93.4,155.5L92.6,158.0L91.9,161.0L91.2,164.1ZM103.7,164.1L105.7,164.1L105.9,161.0L106.2,158.5L106.8,161.0L106.6,164.1L108.6,164.1L108.8,163.5L109.5,161.0L110.0,158.0L110.5,154.9L111.1,151.8L111.4,150.7L111.8,148.8L112.2,145.7L112.5,142.6L112.8,139.6L113.0,136.5L113.2,133.4L113.3,130.4L113.4,127.3L113.5,124.2L111.4,122.7L108.8,122.7L108.2,121.2L108.1,118.1L108.0,115.0L107.9,112.0L107.7,108.9L107.5,105.8L107.2,102.8L106.8,99.7L106.3,96.6L106.2,96.3L105.7,93.6L105.1,90.5L104.6,87.4L104.0,84.4L103.7,83.4L103.0,81.3L102.3,78.2L101.5,75.2L101.1,73.9L100.4,72.1L99.5,69.0L98.6,66.3L98.4,66.0L97.2,62.9L96.1,59.8L96.0,59.6L94.6,56.8L93.4,53.8L93.3,53.7L91.8,50.6L90.9,47.8L90.0,47.6L90.9,47.3L93.4,46.6L94.8,44.5L93.4,41.8L93.3,41.4L91.5,38.4L90.9,37.3L89.4,35.3L88.3,33.1L87.1,32.2L85.8,29.2L85.8,29.0L85.7,29.2L84.8,32.2L83.2,35.3L81.7,32.2L80.6,31.5L79.3,29.2L78.1,28.0L76.9,26.1L75.5,24.7L74.4,23.0L72.9,21.6L71.7,20.0L70.4,18.6L68.9,16.9L67.8,15.8L66.0,13.8L65.3,13.2L62.7,10.8L62.7,10.7L60.1,8.5L59.3,7.7L57.6,6.2L55.7,4.6L55.0,4.0L52.5,2.2L51.6,1.6L49.9,0.2L47.3,-1.4L47.2,-1.5L44.8,-3.1L42.4,-4.6L42.2,-4.7L39.6,-6.2L37.1,-7.5L36.8,-7.6L34.5,-7.6L32.0,-7.6L29.4,-7.6L26.8,-7.6L24.3,-7.6L21.7,-7.6L19.2,-7.6L16.6,-7.6L14.0,-7.6L11.5,-7.6L8.9,-7.6L6.3,-7.6L3.8,-7.6L1.2,-7.6L-1.3,-7.6L-3.9,-7.6L-6.5,-7.6L-9.0,-7.6L-11.6,-7.6L-14.1,-7.6L-14.1,-5.8L-11.6,-5.9L-9.0,-5.9L-6.5,-5.8L-3.9,-5.7L-1.3,-5.5L1.2,-5.2L3.8,-4.7L4.3,-4.6L6.3,-4.2L8.9,-3.7L11.5,-3.1L14.0,-2.5L16.6,-1.7L17.5,-1.5L19.2,-0.8L21.1,-1.5L21.4,-4.6L21.7,-7.1L24.3,-6.3L26.8,-5.4L28.1,-4.6L29.4,-4.0L32.0,-3.0L34.5,-1.7L34.7,-1.5L37.1,-0.3L39.6,1.1L40.2,1.6L42.2,2.8L44.8,4.4L45.1,4.6L47.3,6.2L49.4,7.7L49.9,8.1L52.5,10.0L53.4,10.8L55.0,12.2L56.9,13.8L57.6,14.5L60.1,16.7L60.3,16.9L62.7,19.2L63.5,20.0L65.3,22.0L66.3,23.0L67.8,24.8L69.1,26.1L70.4,27.9L71.6,29.2L72.9,31.1L74.0,32.2L75.5,34.6L76.3,35.3L78.1,38.2L78.3,38.4L80.3,41.4L80.6,42.8L82.6,44.5L80.6,46.5L78.1,47.1L76.9,47.6L78.1,48.7L78.8,50.6L80.3,53.7L80.6,54.3L82.4,56.8L83.2,59.6L84.5,56.8L85.1,53.7L85.8,51.0L86.3,53.7L88.3,56.2L88.5,56.8L89.5,59.8L90.9,62.0L91.2,62.9L92.2,66.0L93.4,68.7L93.6,69.0L94.5,72.1L95.4,75.2L96.0,76.4L96.5,78.2L97.3,81.3L98.0,84.4L98.6,86.0L98.9,87.4L99.5,90.5L100.0,93.6L100.5,96.6L101.1,99.5L101.2,99.7L101.6,102.8L101.9,105.8L102.2,108.9L102.4,112.0L102.5,115.0L102.6,118.1L102.7,121.2L103.7,122.7L106.2,122.7L108.2,124.2L108.1,127.3L108.0,130.4L107.9,133.4L107.7,136.5L107.5,139.6L107.2,142.6L106.8,145.7L106.3,148.8L106.2,149.1L105.7,151.8L105.1,154.9L104.6,158.0L104.0,161.0L103.7,162.0L103.0,164.1ZM108.3,154.9L108.3,151.8L108.5,148.8L108.8,146.3L109.2,148.8L109.2,151.8L109.0,154.9L108.8,156.1ZM103.7,96.6L103.7,96.0L103.7,96.6L103.7,96.7ZM101.0,84.4L101.1,83.6L101.2,84.4L101.1,85.5ZM84.4,44.5L85.1,41.4L85.8,39.7L86.3,41.4L88.3,44.1L88.6,44.5L88.3,45.8L85.8,46.9ZM64.2,16.9L65.3,16.6L65.5,16.9L65.3,17.5ZM59.7,13.8L57.6,11.8L56.2,10.8L55.0,9.5L52.5,8.0L52.1,7.7L49.9,5.6L48.3,4.6L47.3,3.2L44.8,1.9L44.1,1.6L44.8,0.5L47.3,1.0L48.4,1.6L49.9,3.1L52.5,4.3L52.9,4.6L55.0,6.6L56.6,7.7L57.6,9.0L60.1,10.7L60.2,10.8L62.7,13.5L63.1,13.8L62.7,15.6L60.1,14.2ZM116.2,161.0L116.5,158.8L116.5,158.0L116.5,154.9L116.5,151.8L116.5,150.8L116.3,151.8L115.7,154.9L115.2,158.0L114.7,161.0L113.9,164.1L115.9,164.1ZM21.7,141.7L21.9,139.6L22.3,136.5L24.3,133.6L24.3,133.4L24.7,130.4L24.9,127.3L25.1,124.2L26.8,122.7L29.4,122.7L32.0,122.7L34.5,122.7L37.1,122.7L39.6,122.7L40.3,121.2L40.1,118.1L39.9,115.0L39.6,113.5L39.5,112.0L38.9,108.9L38.2,105.8L37.4,102.8L37.1,101.6L36.4,99.7L35.3,96.6L34.5,94.7L34.0,93.6L32.5,90.5L32.0,89.5L30.7,87.4L29.4,85.2L28.7,84.4L26.8,81.6L26.4,81.3L24.3,78.5L23.0,78.2L21.7,75.8L21.5,78.2L21.5,81.3L21.4,84.4L21.4,87.4L21.3,90.5L21.2,93.6L20.9,96.6L19.2,98.5L18.5,96.6L16.6,94.5L16.1,93.6L14.0,91.3L13.4,90.5L11.5,88.7L10.1,87.4L8.9,86.6L6.3,84.8L5.7,84.4L3.8,83.3L1.2,82.1L-1.2,81.3L-1.3,81.2L-3.9,80.5L-6.5,80.1L-9.0,79.9L-11.6,79.9L-14.1,80.1L-14.1,81.3L-14.1,82.1L-11.6,81.8L-9.0,81.8L-6.5,82.1L-3.9,82.6L-1.3,83.4L0.8,84.4L1.2,84.6L3.8,86.1L5.6,87.4L6.3,88.1L8.8,90.5L8.9,90.7L11.0,93.6L11.5,94.7L12.5,96.6L13.4,99.7L13.9,102.8L14.0,105.8L13.6,108.9L12.5,112.0L11.5,113.6L10.0,115.0L8.9,115.7L6.3,116.8L3.8,117.4L1.2,117.7L-1.3,117.8L-3.9,117.9L-6.5,117.9L-9.0,117.9L-11.6,117.9L-14.1,117.9L-14.1,118.1L-14.1,121.2L-14.1,122.7L-11.6,122.7L-9.0,122.7L-6.5,122.7L-3.9,122.7L-1.3,122.7L1.2,122.7L3.8,122.7L6.3,122.7L8.9,122.7L11.5,122.7L14.0,122.7L16.6,122.7L19.2,122.7L21.5,124.2L21.5,127.3L21.5,130.4L21.5,133.4L21.6,136.5L21.6,139.6ZM21.5,121.2L21.5,118.1L21.5,115.0L21.5,112.0L21.6,108.9L21.6,105.8L21.7,103.7L21.9,105.8L22.3,108.9L24.3,111.8L24.3,112.0L24.7,115.0L24.9,118.1L25.1,121.2L24.3,122.7L21.7,122.7ZM52.5,122.7L55.0,122.7L57.6,122.7L60.1,122.7L61.3,121.2L61.2,118.1L61.0,115.0L60.7,112.0L60.3,108.9L60.1,108.0L59.8,105.8L59.3,102.8L58.7,99.7L57.9,96.6L57.6,95.7L57.0,93.6L56.0,90.5L55.0,87.8L54.9,87.4L53.7,84.4L52.5,81.6L52.3,81.3L50.8,78.2L49.9,76.4L49.2,75.2L47.4,72.1L47.3,72.0L45.4,69.0L44.8,68.0L43.3,66.0L42.2,64.4L40.9,62.9L39.6,61.3L38.2,59.8L37.1,58.3L35.3,56.8L34.5,55.7L32.1,53.7L32.0,53.5L29.4,51.2L28.1,50.6L26.8,48.3L24.3,47.6L23.0,47.6L24.3,47.5L26.8,47.1L29.4,46.9L32.0,46.6L34.5,46.0L35.8,44.5L34.5,43.9L32.0,41.4L32.0,41.4L29.4,39.9L27.4,38.4L26.8,38.0L24.3,36.6L21.8,35.3L21.7,35.0L21.6,35.3L21.4,38.4L21.3,41.4L20.2,44.5L21.5,47.6L21.4,50.6L21.3,53.7L20.9,56.8L19.2,57.3L18.5,56.8L16.6,55.6L14.0,54.3L12.6,53.7L11.5,53.0L8.9,51.7L6.3,51.0L4.4,50.6L3.8,49.9L1.2,48.6L-1.3,48.2L-3.9,48.0L-6.5,47.9L-9.0,47.8L-11.6,47.8L-14.1,47.9L-14.1,50.6L-14.1,53.7L-14.1,56.8L-14.1,59.8L-14.1,62.2L-11.6,62.0L-9.0,62.0L-6.5,62.2L-3.9,62.6L-2.4,62.9L-1.3,63.1L1.2,63.7L3.8,64.4L6.3,65.4L7.5,66.0L8.9,66.6L11.5,67.9L13.3,69.0L14.0,69.6L16.6,71.3L18.0,72.1L19.2,73.4L21.1,72.1L21.3,69.0L21.4,66.0L21.5,62.9L21.6,59.8L21.7,59.0L21.9,59.8L24.3,61.0L26.0,62.9L26.8,63.3L29.4,65.7L29.6,66.0L32.0,68.4L32.4,69.0L34.5,71.4L35.0,72.1L37.1,74.9L37.2,75.2L39.2,78.2L39.6,78.8L41.0,81.3L42.2,83.3L42.7,84.4L44.2,87.4L44.8,88.8L45.5,90.5L46.6,93.6L47.3,95.6L47.7,96.6L48.6,99.7L49.3,102.8L49.9,105.3L50.0,105.8L50.6,108.9L51.0,112.0L51.3,115.0L51.5,118.1L51.6,121.2ZM54.6,108.9L53.2,105.8L52.5,104.8L51.9,102.8L51.0,99.7L49.9,97.2L49.7,96.6L48.8,93.6L47.5,90.5L47.3,90.2L46.3,87.4L44.8,84.4L44.8,84.3L43.5,81.3L42.2,78.9L41.8,78.2L40.3,75.2L39.6,73.8L38.7,72.1L37.3,69.0L37.1,66.5L37.0,66.0L37.1,65.9L37.2,66.0L39.6,66.9L42.2,69.0L42.3,69.0L44.8,71.9L44.9,72.1L46.9,75.2L47.3,75.7L48.7,78.2L49.9,80.2L50.4,81.3L51.8,84.4L52.5,85.7L53.1,87.4L54.1,90.5L55.0,93.1L55.2,93.6L55.8,96.6L56.3,99.7L56.7,102.8L56.7,105.8L55.8,108.9L55.0,109.8ZM90.9,122.7L93.4,122.7L96.0,122.7L96.9,121.2L96.9,118.1L96.8,115.0L96.6,112.0L96.4,108.9L96.1,105.8L96.0,105.3L95.6,102.8L95.1,99.7L94.6,96.6L94.1,93.6L93.6,90.5L93.4,89.9L92.6,87.4L91.9,84.4L91.2,81.3L90.9,79.9L90.0,78.2L89.1,75.2L88.3,72.1L88.3,72.1L86.4,69.0L85.8,66.0L85.8,65.4L85.6,66.0L85.0,69.0L84.6,72.1L83.9,75.2L83.2,76.4L83.0,75.2L82.2,72.1L80.6,69.6L80.5,69.0L79.4,66.0L78.1,63.7L77.7,62.9L76.4,59.8L75.5,58.4L74.7,56.8L72.9,53.8L72.8,53.7L71.1,50.6L70.4,48.5L69.1,47.6L70.4,47.1L72.9,46.6L74.9,44.5L72.9,41.9L72.8,41.4L70.7,38.4L70.4,38.1L68.4,35.3L67.8,34.7L66.0,32.2L65.3,31.5L63.3,29.2L62.7,28.6L60.5,26.1L60.1,25.8L57.6,23.3L57.4,23.0L55.0,20.9L54.1,20.0L52.5,18.5L50.6,16.9L49.9,16.3L47.3,14.4L46.6,13.8L44.8,12.4L42.4,10.8L42.2,10.6L39.6,9.0L37.5,7.7L37.1,7.4L34.5,6.0L32.0,4.6L32.0,4.6L29.4,3.3L26.8,2.2L25.0,1.6L24.3,1.0L21.7,0.0L21.5,1.6L21.3,4.6L19.2,6.7L16.6,6.0L14.0,5.2L12.4,4.6L11.5,4.4L8.9,3.7L6.3,3.2L3.8,2.8L1.2,2.4L-1.3,2.1L-3.9,1.9L-6.5,1.7L-9.0,1.6L-11.6,1.6L-14.1,1.7L-14.1,3.8L-11.6,3.7L-9.0,3.7L-6.5,3.8L-3.9,4.0L-1.3,4.2L1.2,4.6L1.5,4.6L3.8,6.7L6.3,7.5L7.0,7.7L6.3,7.8L3.8,8.0L1.2,7.9L-1.3,7.9L-3.9,7.8L-6.5,7.7L-6.6,7.7L-9.0,7.6L-11.6,7.6L-14.0,7.7L-14.1,7.7L-14.1,9.5L-11.6,9.4L-9.0,9.4L-6.5,9.5L-3.9,9.6L-1.3,9.8L1.2,10.2L3.8,10.6L4.4,10.8L6.3,11.2L8.9,11.8L11.5,12.4L14.0,13.1L16.1,13.8L16.6,14.1L19.2,15.1L21.2,13.8L21.4,10.8L21.7,7.8L24.3,8.9L26.8,10.0L28.1,10.8L29.4,11.4L32.0,12.6L33.9,13.8L34.5,14.2L37.1,15.7L38.9,16.9L39.6,17.5L42.2,19.1L43.2,20.0L44.8,21.2L47.2,23.0L47.3,23.2L49.9,25.4L50.7,26.1L52.5,27.8L54.0,29.2L55.0,30.4L56.9,32.2L57.6,33.1L59.7,35.3L60.1,35.9L62.3,38.4L62.7,39.1L64.7,41.4L65.3,42.8L67.0,44.5L65.3,46.5L62.7,47.0L60.6,47.6L62.7,50.5L62.7,50.6L64.8,53.7L65.3,54.3L66.7,56.8L67.8,58.6L68.5,59.8L70.1,62.9L70.4,63.5L71.7,66.0L72.9,68.8L73.1,69.0L74.5,72.1L75.5,74.9L75.7,75.2L76.9,78.2L77.8,81.3L78.1,82.2L79.1,84.4L79.9,87.4L80.5,90.5L80.6,91.4L81.7,93.6L82.4,96.6L82.8,99.7L83.0,102.8L83.2,105.3L83.7,102.8L84.2,99.7L84.5,96.6L84.8,93.6L85.0,90.5L85.3,87.4L85.8,84.7L86.0,87.4L86.4,90.5L87.1,93.6L88.3,95.7L88.5,96.6L88.8,99.7L89.2,102.8L89.5,105.8L89.8,108.9L90.2,112.0L90.5,115.0L90.7,118.1L90.8,121.2ZM54.5,26.1L55.0,24.7L56.4,26.1L55.0,26.5ZM50.7,23.0L49.9,22.1L47.3,20.4L46.7,20.0L44.8,18.0L42.9,16.9L42.2,15.7L39.6,14.2L39.0,13.8L39.6,12.9L42.2,13.4L43.1,13.8L44.8,15.4L47.3,16.7L47.6,16.9L49.9,19.1L51.1,20.0L52.5,21.7L54.1,23.0L52.5,24.2ZM36.9,10.8L37.1,10.7L37.2,10.8L37.1,10.9ZM113.9,122.7L116.5,122.7L116.5,121.2L116.5,118.1L116.5,115.0L116.5,112.0L116.5,108.9L116.5,105.8L116.5,102.8L116.5,99.7L116.5,96.6L116.5,94.6L116.3,93.6L115.7,90.5L115.2,87.4L114.7,84.4L113.9,81.3L113.9,81.3L113.1,78.2L112.4,75.2L111.6,72.1L111.4,71.5L110.5,69.0L109.7,66.0L108.8,63.5L108.5,62.9L107.5,59.8L106.3,56.8L106.2,56.5L105.0,53.7L103.8,50.6L103.7,50.0L102.3,47.6L103.7,47.0L106.2,45.6L106.6,44.5L106.2,44.2L105.0,41.4L103.7,39.0L103.4,38.4L101.9,35.3L101.1,34.1L100.0,32.2L98.6,29.6L98.3,29.2L96.5,26.1L96.0,25.4L94.4,23.0L93.4,21.5L92.2,20.0L90.9,17.9L89.8,16.9L88.3,14.5L87.1,13.8L85.8,11.2L84.8,13.8L83.2,16.3L81.7,13.8L80.6,13.2L78.8,10.8L78.1,10.2L75.9,7.7L75.5,7.4L72.9,4.8L72.8,4.6L70.4,2.3L69.7,1.6L67.8,-0.2L66.4,-1.5L65.3,-2.5L62.7,-4.6L62.7,-4.6L60.1,-6.6L58.9,-7.6L57.6,-7.6L55.0,-7.6L52.5,-7.6L49.9,-7.6L48.8,-7.6L49.9,-6.9L52.5,-5.4L53.4,-4.6L55.0,-3.4L57.4,-1.5L57.6,-1.4L60.1,0.6L61.3,1.6L62.7,2.9L64.7,4.6L65.3,5.2L67.8,7.5L68.0,7.7L70.4,10.1L71.1,10.8L72.9,12.8L74.0,13.8L75.5,15.7L76.8,16.9L78.1,18.7L79.4,20.0L80.6,22.0L82.1,23.0L83.2,25.4L84.6,23.0L85.6,20.0L85.8,19.6L85.8,20.0L87.8,23.0L88.3,23.3L89.9,26.1L90.9,27.1L92.1,29.2L93.4,31.1L94.1,32.2L96.0,35.3L96.0,35.3L97.6,38.4L98.6,40.3L99.3,41.4L100.8,44.5L98.6,46.8L96.5,47.6L97.8,50.6L98.6,51.5L99.4,53.7L100.5,56.8L101.1,57.7L101.9,59.8L102.9,62.9L103.7,64.5L104.2,66.0L105.1,69.0L106.1,72.1L106.2,72.3L107.1,75.2L107.8,78.2L108.6,81.3L108.8,81.9L109.5,84.4L110.0,87.4L110.5,90.5L111.1,93.6L111.4,94.7L111.8,96.6L112.2,99.7L112.5,102.8L112.8,105.8L113.0,108.9L113.2,112.0L113.3,115.0L113.4,118.1L113.5,121.2ZM113.6,96.6L113.4,93.6L113.2,90.5L113.9,87.9L114.2,90.5L114.4,93.6L114.4,96.6L113.9,99.4ZM111.0,84.4L110.7,81.3L110.8,78.2L111.4,77.4L111.6,78.2L112.0,81.3L112.2,84.4L111.4,86.6ZM108.6,72.1L108.8,70.9L109.0,72.1L108.8,74.7ZM65.0,1.6L65.3,1.3L65.6,1.6L65.3,1.8ZM116.5,71.4L116.5,69.0L116.5,66.0L116.5,62.9L116.5,59.8L116.5,56.8L116.5,55.6L115.6,53.7L114.6,50.6L113.9,48.2L113.1,47.6L113.9,47.2L116.5,46.0L116.5,44.5L116.5,43.9L115.6,41.4L114.3,38.4L113.9,37.8L112.7,35.3L111.4,32.7L111.1,32.2L109.6,29.2L108.8,27.9L107.8,26.1L106.2,23.4L106.0,23.0L104.2,20.0L103.7,19.2L102.2,16.9L101.1,15.3L100.0,13.8L98.6,11.6L97.8,10.8L96.0,8.1L95.6,7.7L93.4,4.8L93.3,4.6L90.9,1.6L90.8,1.6L88.3,-1.4L87.9,-1.5L85.8,-4.2L84.6,-1.5L83.2,0.2L82.1,-1.5L80.6,-2.5L78.8,-4.6L78.1,-5.2L75.5,-7.5L75.4,-7.6L72.9,-7.6L70.4,-7.6L67.8,-7.6L67.5,-7.6L67.8,-7.3L70.4,-5.3L71.1,-4.6L72.9,-2.8L74.4,-1.5L75.5,-0.3L77.4,1.6L78.1,2.4L80.3,4.6L80.6,5.2L83.0,7.7L83.2,8.1L83.7,7.7L85.1,4.6L85.8,3.2L86.3,4.6L88.3,6.2L89.2,7.7L90.9,9.4L91.7,10.8L93.4,12.8L94.1,13.8L96.0,16.3L96.4,16.9L98.4,20.0L98.6,20.2L100.3,23.0L101.1,24.3L102.3,26.1L103.7,28.5L104.2,29.2L105.7,32.2L106.2,33.2L107.4,35.3L108.8,38.1L109.0,38.4L110.4,41.4L111.4,43.9L112.0,44.5L111.4,46.0L108.8,47.1L107.8,47.6L108.8,48.5L109.3,50.6L110.4,53.7L111.4,55.7L111.8,56.8L112.8,59.8L113.8,62.9L113.9,63.1L114.9,66.0L115.7,69.0ZM-11.6,47.3L-9.0,47.3L-6.5,47.3L-3.9,47.2L-1.3,47.2L1.2,47.1L3.8,47.0L6.3,46.9L8.9,46.8L11.5,46.7L14.0,46.4L16.6,46.0L19.0,44.5L16.6,43.8L14.0,42.8L12.4,41.4L11.5,41.2L8.9,40.5L6.3,39.8L3.8,38.9L2.2,38.4L1.2,38.2L-1.3,37.8L-3.9,37.5L-6.5,37.4L-9.0,37.3L-11.6,37.3L-14.1,37.4L-14.1,38.4L-14.1,41.4L-14.1,44.5L-14.1,47.3ZM116.5,32.6L116.5,32.2L116.5,29.2L116.5,26.1L116.5,23.0L116.5,22.9L114.9,20.0L113.9,18.4L113.0,16.9L111.4,14.2L111.1,13.8L109.3,10.8L108.8,10.1L107.2,7.7L106.2,6.3L105.0,4.6L103.7,2.8L102.7,1.6L101.1,-0.6L100.3,-1.5L98.6,-3.8L97.8,-4.6L96.0,-6.9L95.2,-7.6L93.4,-7.6L90.9,-7.6L88.9,-7.6L90.9,-5.9L91.7,-4.6L93.4,-2.9L94.4,-1.5L96.0,0.2L96.9,1.6L98.6,3.5L99.3,4.6L101.1,7.0L101.6,7.7L103.7,10.6L103.8,10.8L105.7,13.8L106.2,14.6L107.7,16.9L108.8,18.6L109.7,20.0L111.4,22.9L111.5,23.0L113.0,26.1L113.9,27.7L114.9,29.2L116.3,32.2ZM113.9,23.0L113.9,22.9L114.0,23.0L113.9,23.2ZM108.5,13.8L108.8,13.4L109.0,13.8L108.8,14.5ZM106.1,10.8L106.2,10.4L106.5,10.8L106.2,11.0ZM116.5,14.1L116.5,13.8L116.5,11.2L116.2,10.8L116.5,9.6L116.5,7.7L116.5,6.0L115.6,4.6L113.9,2.1L113.5,1.6L111.5,-1.5L111.4,-1.7L109.3,-4.6L108.8,-5.3L107.0,-7.6L106.2,-7.6L103.7,-7.6L101.3,-7.6L103.7,-4.7L103.8,-4.6L106.0,-1.5L106.2,-1.2L108.2,1.6L108.8,2.3L110.4,4.6L111.4,6.0L112.5,7.7L113.9,9.9L114.6,10.8L116.3,13.8ZM113.8,4.6L113.9,4.6L114.0,4.6L113.9,5.3ZM111.1,1.6L111.4,1.3L111.5,1.6L111.4,2.1Z" fill="#d6bfb1" fill-rule="evenodd"/>
<path d="M32.0,164.1L34.5,164.1L37.1,164.1L38.1,164.1L39.6,162.1L40.2,161.0L41.9,158.0L42.2,157.5L43.2,154.9L44.5,151.8L44.8,151.3L45.5,148.8L46.1,145.7L46.7,142.6L47.0,139.6L46.5,136.5L44.8,134.8L43.7,136.5L42.2,138.7L41.9,139.6L40.8,142.6L39.6,145.3L39.5,145.7L38.4,148.8L37.1,151.8L37.1,151.8L35.9,154.9L34.5,157.9L34.5,158.0L33.2,161.0L32.0,164.0L31.9,164.1ZM55.0,164.1L57.6,164.1L59.9,164.1L60.1,163.7L61.0,161.0L62.0,158.0L62.7,156.1L63.0,154.9L63.6,151.8L64.1,148.8L64.5,145.7L64.4,142.6L62.7,140.9L62.3,142.6L61.3,145.7L60.1,148.0L59.9,148.8L59.1,151.8L57.9,154.9L57.6,155.5L56.8,158.0L55.6,161.0L55.0,162.1L54.3,164.1ZM106.2,164.1L106.6,164.1L106.8,161.0L106.2,158.5L105.9,161.0L105.7,164.1ZM116.5,164.1L116.5,161.0L116.5,158.8L116.2,161.0L115.9,164.1ZM108.8,156.1L109.0,154.9L109.2,151.8L109.2,148.8L108.8,146.3L108.5,148.8L108.3,151.8L108.3,154.9ZM-11.6,117.9L-9.0,117.9L-6.5,117.9L-3.9,117.9L-1.3,117.8L1.2,117.7L3.8,117.4L6.3,116.8L8.9,115.7L10.0,115.0L11.5,113.6L12.5,112.0L13.6,108.9L14.0,105.8L13.9,102.8L13.4,99.7L12.5,96.6L11.5,94.7L11.0,93.6L8.9,90.7L8.8,90.5L6.3,88.1L5.6,87.4L3.8,86.1L1.2,84.6L0.8,84.4L-1.3,83.4L-3.9,82.6L-6.5,82.1L-9.0,81.8L-11.6,81.8L-14.1,82.1L-14.1,84.1L-11.6,83.8L-9.0,83.8L-6.5,84.1L-5.2,84.4L-3.9,84.7L-1.3,85.7L1.2,87.1L1.7,87.4L3.8,89.1L5.2,90.5L6.3,92.0L7.5,93.6L8.9,96.6L8.9,96.6L9.7,99.7L9.9,102.8L9.4,105.8L8.9,107.0L7.9,108.9L6.3,110.5L3.8,111.9L3.7,112.0L1.2,112.7L-1.3,113.1L-3.9,113.3L-6.5,113.4L-9.0,113.4L-11.6,113.4L-14.1,113.4L-14.1,115.0L-14.1,117.9ZM55.0,109.8L55.8,108.9L56.7,105.8L56.7,102.8L56.3,99.7L55.8,96.6L55.2,93.6L55.0,93.1L54.1,90.5L53.1,87.4L52.5,85.7L51.8,84.4L50.4,81.3L49.9,80.2L48.7,78.2L47.3,75.7L46.9,75.2L44.9,72.1L44.8,71.9L42.3,69.0L42.2,69.0L39.6,66.9L37.2,66.0L37.1,65.9L37.0,66.0L37.1,66.5L37.3,69.0L38.7,72.1L39.6,73.8L40.3,75.2L41.8,78.2L42.2,78.9L43.5,81.3L44.8,84.3L44.8,84.4L46.3,87.4L47.3,90.2L47.5,90.5L48.8,93.6L49.7,96.6L49.9,97.2L51.0,99.7L51.9,102.8L52.5,104.8L53.2,105.8L54.6,108.9ZM103.7,96.7L103.7,96.6L103.7,96.0L103.7,96.6ZM113.9,99.4L114.4,96.6L114.4,93.6L114.2,90.5L113.9,87.9L113.2,90.5L113.4,93.6L113.6,96.6ZM70.4,95.8L70.5,93.6L70.4,92.1L70.0,93.6ZM67.8,91.5L69.6,90.5L69.1,87.4L68.5,84.4L67.8,81.3L67.8,81.3L66.4,78.2L65.4,75.2L65.3,74.8L63.7,72.1L62.7,69.9L61.9,69.0L60.3,66.0L60.1,65.7L57.7,62.9L57.6,62.8L57.3,62.9L57.3,66.0L57.6,66.7L58.9,69.0L60.0,72.1L60.1,72.5L61.6,75.2L62.6,78.2L62.7,78.4L64.3,81.3L65.1,84.4L65.3,84.8L66.8,87.4L67.6,90.5ZM101.1,85.5L101.2,84.4L101.1,83.6L101.0,84.4ZM111.4,86.6L112.2,84.4L112.0,81.3L111.6,78.2L111.4,77.4L110.8,78.2L110.7,81.3L111.0,84.4ZM108.8,74.7L109.0,72.1L108.8,70.9L108.6,72.1ZM55.0,26.5L56.4,26.1L55.0,24.7L54.5,26.1ZM-11.6,24.2L-9.0,24.2L-6.5,24.2L-3.9,24.2L-1.3,24.2L1.2,24.1L3.8,23.6L4.7,23.0L3.8,22.8L1.2,22.1L-1.3,21.4L-3.9,20.7L-6.5,20.0L-6.7,20.0L-9.0,19.9L-11.6,19.9L-13.9,20.0L-14.1,20.0L-14.1,23.0L-14.1,24.2ZM52.5,24.2L54.1,23.0L52.5,21.7L51.1,20.0L49.9,19.1L47.6,16.9L47.3,16.7L44.8,15.4L43.1,13.8L42.2,13.4L39.6,12.9L39.0,13.8L39.6,14.2L42.2,15.7L42.9,16.9L44.8,18.0L46.7,20.0L47.3,20.4L49.9,22.1L50.7,23.0ZM113.9,23.2L114.0,23.0L113.9,22.9L113.9,23.0ZM65.3,17.5L65.5,16.9L65.3,16.6L64.2,16.9ZM60.1,14.2L62.7,15.6L63.1,13.8L62.7,13.5L60.2,10.8L60.1,10.7L57.6,9.0L56.6,7.7L55.0,6.6L52.9,4.6L52.5,4.3L49.9,3.1L48.4,1.6L47.3,1.0L44.8,0.5L44.1,1.6L44.8,1.9L47.3,3.2L48.3,4.6L49.9,5.6L52.1,7.7L52.5,8.0L55.0,9.5L56.2,10.8L57.6,11.8L59.7,13.8ZM108.8,14.5L109.0,13.8L108.8,13.4L108.5,13.8ZM37.1,10.9L37.2,10.8L37.1,10.7L36.9,10.8ZM106.2,11.0L106.5,10.8L106.2,10.4L106.1,10.8ZM116.5,11.2L116.5,10.8L116.5,9.6L116.2,10.8ZM-14.0,7.7L-11.6,7.6L-9.0,7.6L-6.6,7.7L-6.5,7.7L-3.9,7.8L-1.3,7.9L1.2,7.9L3.8,8.0L6.3,7.8L7.0,7.7L6.3,7.5L3.8,6.7L1.5,4.6L1.2,4.6L-1.3,4.2L-3.9,4.0L-6.5,3.8L-9.0,3.7L-11.6,3.7L-14.1,3.8L-14.1,4.6L-14.1,7.7L-14.1,7.7ZM113.9,5.3L114.0,4.6L113.9,4.6L113.8,4.6ZM65.3,1.8L65.6,1.6L65.3,1.3L65.0,1.6ZM111.4,2.1L111.5,1.6L111.4,1.3L111.1,1.6Z" fill="#e8ae8a" fill-rule="evenodd"/>
<path d="M-11.6,113.4L-9.0,113.4L-6.5,113.4L-3.9,113.3L-1.3,113.1L1.2,112.7L3.7,112.0L3.8,111.9L6.3,110.5L7.9,108.9L8.9,107.0L9.4,105.8L9.9,102.8L9.7,99.7L8.9,96.6L8.9,96.6L7.5,93.6L6.3,92.0L5.2,90.5L3.8,89.1L1.7,87.4L1.2,87.1L-1.3,85.7L-3.9,84.7L-5.2,84.4L-6.5,84.1L-9.0,83.8L-11.6,83.8L-14.1,84.1L-14.1,84.4L-14.1,86.3L-11.6,85.9L-9.0,85.9L-6.5,86.3L-3.9,87.0L-2.9,87.4L-1.3,88.3L1.2,90.2L1.6,90.5L3.8,93.1L4.1,93.6L5.4,96.6L6.0,99.7L5.5,102.8L3.8,105.8L3.7,105.8L1.2,107.5L-1.3,108.4L-3.9,108.9L-4.3,108.9L-6.5,109.1L-9.0,109.2L-11.6,109.2L-14.1,109.1L-14.1,112.0L-14.1,113.4Z" fill="#e8915e" fill-rule="evenodd"/>
<path d="M-11.6,109.2L-9.0,109.2L-6.5,109.1L-4.3,108.9L-3.9,108.9L-1.3,108.4L1.2,107.5L3.7,105.8L3.8,105.8L5.5,102.8L6.0,99.7L5.4,96.6L4.1,93.6L3.8,93.1L1.6,90.5L1.2,90.2L-1.3,88.3L-2.9,87.4L-3.9,87.0L-6.5,86.3L-9.0,85.9L-11.6,85.9L-14.1,86.3L-14.1,87.4L-14.1,89.0L-11.6,88.5L-9.0,88.5L-6.5,89.0L-3.9,90.0L-3.0,90.5L-1.3,92.0L0.1,93.6L1.2,96.1L1.4,96.6L1.4,99.7L1.2,100.0L-0.9,102.8L-1.3,103.1L-3.9,104.1L-6.5,104.6L-9.0,104.8L-11.6,104.8L-14.1,104.6L-14.1,105.8L-14.1,108.9L-14.1,109.1Z" fill="#dc6a4e" fill-rule="evenodd"/>
<path d="M-11.6,104.8L-9.0,104.8L-6.5,104.6L-3.9,104.1L-1.3,103.1L-0.9,102.8L1.2,100.0L1.4,99.7L1.4,96.6L1.2,96.1L0.1,93.6L-1.3,92.0L-3.0,90.5L-3.9,90.0L-6.5,89.0L-9.0,88.5L-11.6,88.5L-14.1,89.0L-14.1,90.5L-14.1,93.6L-14.1,96.6L-14.1,99.7L-14.1,102.8L-14.1,104.6Z" fill="#c9403a" fill-rule="evenodd"/>
</g>
<rect x="126.4" y="-0.1" width="16.5" height="16.9" fill="#c9403a"/>
<rect x="126.4" y="16.7" width="16.5" height="26.9" fill="#dc6a4e"/>
<rect x="126.4" y="43.5" width="16.5" height="26.4" fill="#e8915e"/>
<rect x="126.4" y="69.8" width="16.5" height="27.2" fill="#e8ae8a"/>
<rect x="126.4" y="96.9" width="16.5" height="26.9" fill="#d6bfb1"/>
<rect x="126.4" y="123.7" width="16.5" height="26.8" fill="#a9b3d9"/>
<rect x="126.4" y="150.4" width="16.5" height="10.4" fill="#7b9bee"/>
<rect x="126.4" y="16.5" width="16.5" height=".4" fill="#555" fill-opacity=".7"/>
<rect x="126.4" y="43.3" width="16.5" height=".4" fill="#555" fill-opacity=".7"/>
<rect x="126.4" y="69.6" width="16.5" height=".4" fill="#555" fill-opacity=".7"/>
<rect x="126.4" y="96.7" width="16.5" height=".4" fill="#555" fill-opacity=".7"/>
<rect x="126.4" y="123.5" width="16.5" height=".4" fill="#555" fill-opacity=".7"/>
<rect x="126.4" y="150.20000000000002" width="16.5" height=".4" fill="#555" fill-opacity=".7"/>
<text x="144.9" y="19.5" font-size="6" fill="#777" font-family="Liberation Sans">0.8</text>
<text x="144.9" y="46.300000000000004" font-size="6" fill="#777" font-family="Liberation Sans">0.6</text>
<text x="144.9" y="73.0" font-size="6" fill="#777" font-family="Liberation Sans">0.4</text>
<text x="144.9" y="99.7" font-size="6" fill="#777" font-family="Liberation Sans">0.2</text>
<text x="144.9" y="126.9" font-size="6" fill="#777" font-family="Liberation Sans">0</text>
<text x="144.9" y="153.6" font-size="6" fill="#777" font-family="Liberation Sans">−0.2</text>
</svg></div>
<div class="t" style="left:205px;top:660px" ><svg viewBox="0 0 160 160">
<defs><linearGradient id="hg" x1="0" y1="0" x2="0" y2="1"><stop offset="0" stop-color="#e8453b"/><stop offset=".08" stop-color="#e5575a"/><stop offset=".2" stop-color="#db72c0"/><stop offset=".33" stop-color="#e9a9f8"/><stop offset=".43" stop-color="#f1dafb"/><stop offset=".5" stop-color="#ffffff"/><stop offset=".58" stop-color="#d2d5f8"/><stop offset=".7" stop-color="#a2cef9"/><stop offset=".85" stop-color="#72b9f8"/><stop offset=".95" stop-color="#2a6ff2"/><stop offset="1" stop-color="#1b5ff0"/></linearGradient></defs>
<g shape-rendering="crispEdges">
<rect width="130.5" height="160" fill="#8fccfb"/>
<rect x="0.00" y="0.00" width="8.31" height="8.15" fill="#93cffb"/>
<rect x="16.31" y="0.00" width="8.31" height="8.15" fill="#80c0f8"/>
<rect x="48.94" y="0.00" width="8.31" height="8.15" fill="#bdcdf7"/>
<rect x="65.25" y="0.00" width="8.31" height="8.15" fill="#8bc9fa"/>
<rect x="89.72" y="0.00" width="8.31" height="8.15" fill="#6fb4f6"/>
<rect x="97.88" y="0.00" width="8.31" height="8.15" fill="#6fb4f6"/>
<rect x="114.19" y="0.00" width="8.31" height="8.15" fill="#6fb4f6"/>
<rect x="122.34" y="0.00" width="8.31" height="8.15" fill="#e8453b"/>
<rect x="0.00" y="8.00" width="8.31" height="8.15" fill="#80c0f8"/>
<rect x="8.16" y="8.00" width="8.31" height="8.15" fill="#6fb4f6"/>
<rect x="24.47" y="8.00" width="8.31" height="8.15" fill="#bdcdf7"/>
<rect x="32.62" y="8.00" width="8.31" height="8.15" fill="#6fb4f6"/>
<rect x="40.78" y="8.00" width="8.31" height="8.15" fill="#80c0f8"/>
<rect x="48.94" y="8.00" width="8.31" height="8.15" fill="#6fb4f6"/>
<rect x="57.09" y="8.00" width="8.31" height="8.15" fill="#bdcdf7"/>
<rect x="65.25" y="8.00" width="8.31" height="8.15" fill="#3d8df0"/>
<rect x="73.41" y="8.00" width="8.31" height="8.15" fill="#2f7df0"/>
<rect x="81.56" y="8.00" width="8.31" height="8.15" fill="#86c5f9"/>
<rect x="89.72" y="8.00" width="8.31" height="8.15" fill="#80c0f8"/>
<rect x="106.03" y="8.00" width="8.31" height="8.15" fill="#3d8df0"/>
<rect x="114.19" y="8.00" width="8.31" height="8.15" fill="#e8453b"/>
<rect x="8.16" y="16.00" width="8.31" height="8.15" fill="#8bc9fa"/>
<rect x="16.31" y="16.00" width="8.31" height="8.15" fill="#93cffb"/>
<rect x="32.62" y="16.00" width="8.31" height="8.15" fill="#bdcdf7"/>
<rect x="40.78" y="16.00" width="8.31" height="8.15" fill="#bdcdf7"/>
<rect x="48.94" y="16.00" width="8.31" height="8.15" fill="#1b5ff0"/>
<rect x="65.25" y="16.00" width="8.31" height="8.15" fill="#80c0f8"/>
<rect x="73.41" y="16.00" width="8.31" height="8.15" fill="#1b5ff0"/>
<rect x="97.88" y="16.00" width="8.31" height="8.15" fill="#93cffb"/>
<rect x="106.03" y="16.00" width="8.31" height="8.15" fill="#e8453b"/>
<rect x="114.19" y="16.00" width="8.31" height="8.15" fill="#6fb4f6"/>
<rect x="0.00" y="24.00" width="8.31" height="8.15" fill="#8bc9fa"/>
<rect x="16.31" y="24.00" width="8.31" height="8.15" fill="#e2e2fa"/>
<rect x="32.62" y="24.00" width="8.31" height="8.15" fill="#93cffb"/>
<rect x="48.94" y="24.00" width="8.31" height="8.15" fill="#6fb4f6"/>
<rect x="57.09" y="24.00" width="8.31" height="8.15" fill="#6fb4f6"/>
<rect x="65.25" y="24.00" width="8.31" height="8.15" fill="#bdcdf7"/>
<rect x="73.41" y="24.00" width="8.31" height="8.15" fill="#80c0f8"/>
<rect x="81.56" y="24.00" width="8.31" height="8.15" fill="#bdcdf7"/>
<rect x="89.72" y="24.00" width="8.31" height="8.15" fill="#93cffb"/>
<rect x="97.88" y="24.00" width="8.31" height="8.15" fill="#e8453b"/>
<rect x="114.19" y="24.00" width="8.31" height="8.15" fill="#80c0f8"/>
<rect x="8.16" y="32.00" width="8.31" height="8.15" fill="#6fb4f6"/>
<rect x="16.31" y="32.00" width="8.31" height="8.15" fill="#93cffb"/>
<rect x="24.47" y="32.00" width="8.31" height="8.15" fill="#6fb4f6"/>
<rect x="32.62" y="32.00" width="8.31" height="8.15" fill="#6fb4f6"/>
<rect x="48.94" y="32.00" width="8.31" height="8.15" fill="#6fb4f6"/>
<rect x="65.25" y="32.00" width="8.31" height="8.15" fill="#86c5f9"/>
<rect x="73.41" y="32.00" width="8.31" height="8.15" fill="#6fb4f6"/>
<rect x="89.72" y="32.00" width="8.31" height="8.15" fill="#e8453b"/>
<rect x="97.88" y="32.00" width="8.31" height="8.15" fill="#86c5f9"/>
<rect x="114.19" y="32.00" width="8.31" height="8.15" fill="#86c5f9"/>
<rect x="122.34" y="32.00" width="8.31" height="8.15" fill="#80c0f8"/>
<rect x="0.00" y="40.00" width="8.31" height="8.15" fill="#93cffb"/>
<rect x="8.16" y="40.00" width="8.31" height="8.15" fill="#6fb4f6"/>
<rect x="16.31" y="40.00" width="8.31" height="8.15" fill="#bdcdf7"/>
<rect x="24.47" y="40.00" width="8.31" height="8.15" fill="#93cffb"/>
<rect x="32.62" y="40.00" width="8.31" height="8.15" fill="#6fb4f6"/>
<rect x="48.94" y="40.00" width="8.31" height="8.15" fill="#6fb4f6"/>
<rect x="65.25" y="40.00" width="8.31" height="8.15" fill="#8bc9fa"/>
<rect x="73.41" y="40.00" width="8.31" height="8.15" fill="#86c5f9"/>
<rect x="81.56" y="40.00" width="8.31" height="8.15" fill="#e8453b"/>
<rect x="89.72" y="40.00" width="8.31" height="8.15" fill="#8bc9fa"/>
<rect x="97.88" y="40.00" width="8.31" height="8.15" fill="#bdcdf7"/>
<rect x="106.03" y="40.00" width="8.31" height="8.15" fill="#80c0f8"/>
<rect x="16.31" y="48.00" width="8.31" height="8.15" fill="#80c0f8"/>
<rect x="24.47" y="48.00" width="8.31" height="8.15" fill="#86c5f9"/>
<rect x="40.78" y="48.00" width="8.31" height="8.15" fill="#80c0f8"/>
<rect x="48.94" y="48.00" width="8.31" height="8.15" fill="#86c5f9"/>
<rect x="57.09" y="48.00" width="8.31" height="8.15" fill="#2f7df0"/>
<rect x="65.25" y="48.00" width="8.31" height="8.15" fill="#93cffb"/>
<rect x="73.41" y="48.00" width="8.31" height="8.15" fill="#e8453b"/>
<rect x="81.56" y="48.00" width="8.31" height="8.15" fill="#6fb4f6"/>
<rect x="106.03" y="48.00" width="8.31" height="8.15" fill="#1b5ff0"/>
<rect x="114.19" y="48.00" width="8.31" height="8.15" fill="#2f7df0"/>
<rect x="122.34" y="48.00" width="8.31" height="8.15" fill="#8bc9fa"/>
<rect x="0.00" y="56.00" width="8.31" height="8.15" fill="#bdcdf7"/>
<rect x="8.16" y="56.00" width="8.31" height="8.15" fill="#6fb4f6"/>
<rect x="16.31" y="56.00" width="8.31" height="8.15" fill="#6fb4f6"/>
<rect x="24.47" y="56.00" width="8.31" height="8.15" fill="#6fb4f6"/>
<rect x="32.62" y="56.00" width="8.31" height="8.15" fill="#86c5f9"/>
<rect x="40.78" y="56.00" width="8.31" height="8.15" fill="#1b5ff0"/>
<rect x="57.09" y="56.00" width="8.31" height="8.15" fill="#2f7df0"/>
<rect x="65.25" y="56.00" width="8.31" height="8.15" fill="#e8453b"/>
<rect x="73.41" y="56.00" width="8.31" height="8.15" fill="#93cffb"/>
<rect x="81.56" y="56.00" width="8.31" height="8.15" fill="#93cffb"/>
<rect x="97.88" y="56.00" width="8.31" height="8.15" fill="#bdcdf7"/>
<rect x="106.03" y="56.00" width="8.31" height="8.15" fill="#bdcdf7"/>
<rect x="114.19" y="56.00" width="8.31" height="8.15" fill="#3d8df0"/>
<rect x="122.34" y="56.00" width="8.31" height="8.15" fill="#80c0f8"/>
<rect x="0.00" y="64.00" width="8.31" height="8.15" fill="#80c0f8"/>
<rect x="8.16" y="64.00" width="8.31" height="8.15" fill="#80c0f8"/>
<rect x="32.62" y="64.00" width="8.31" height="8.15" fill="#6fb4f6"/>
<rect x="40.78" y="64.00" width="8.31" height="8.15" fill="#bdcdf7"/>
<rect x="48.94" y="64.00" width="8.31" height="8.15" fill="#8bc9fa"/>
<rect x="57.09" y="64.00" width="8.31" height="8.15" fill="#e8453b"/>
<rect x="65.25" y="64.00" width="8.31" height="8.15" fill="#2f7df0"/>
<rect x="73.41" y="64.00" width="8.31" height="8.15" fill="#3d8df0"/>
<rect x="97.88" y="64.00" width="8.31" height="8.15" fill="#6fb4f6"/>
<rect x="106.03" y="64.00" width="8.31" height="8.15" fill="#6fb4f6"/>
<rect x="114.19" y="64.00" width="8.31" height="8.15" fill="#bdcdf7"/>
<rect x="0.00" y="72.00" width="8.31" height="8.15" fill="#3d8df0"/>
<rect x="16.31" y="72.00" width="8.31" height="8.15" fill="#3d8df0"/>
<rect x="32.62" y="72.00" width="8.31" height="8.15" fill="#6fb4f6"/>
<rect x="40.78" y="72.00" width="8.31" height="8.15" fill="#8bc9fa"/>
<rect x="48.94" y="72.00" width="8.31" height="8.15" fill="#e8453b"/>
<rect x="65.25" y="72.00" width="8.31" height="8.15" fill="#86c5f9"/>
<rect x="73.41" y="72.00" width="8.31" height="8.15" fill="#93cffb"/>
<rect x="81.56" y="72.00" width="8.31" height="8.15" fill="#6fb4f6"/>
<rect x="89.72" y="72.00" width="8.31" height="8.15" fill="#6fb4f6"/>
<rect x="97.88" y="72.00" width="8.31" height="8.15" fill="#6fb4f6"/>
<rect x="106.03" y="72.00" width="8.31" height="8.15" fill="#1b5ff0"/>
<rect x="114.19" y="72.00" width="8.31" height="8.15" fill="#6fb4f6"/>
<rect x="122.34" y="72.00" width="8.31" height="8.15" fill="#bdcdf7"/>
<rect x="0.00" y="80.00" width="8.31" height="8.15" fill="#3d8df0"/>
<rect x="8.16" y="80.00" width="8.31" height="8.15" fill="#bdcdf7"/>
<rect x="16.31" y="80.00" width="8.31" height="8.15" fill="#86c5f9"/>
<rect x="32.62" y="80.00" width="8.31" height="8.15" fill="#6fb4f6"/>
<rect x="40.78" y="80.00" width="8.31" height="8.15" fill="#e8453b"/>
<rect x="48.94" y="80.00" width="8.31" height="8.15" fill="#93cffb"/>
<rect x="57.09" y="80.00" width="8.31" height="8.15" fill="#bdcdf7"/>
<rect x="65.25" y="80.00" width="8.31" height="8.15" fill="#1b5ff0"/>
<rect x="89.72" y="80.00" width="8.31" height="8.15" fill="#8bc9fa"/>
<rect x="97.88" y="80.00" width="8.31" height="8.15" fill="#93cffb"/>
<rect x="106.03" y="80.00" width="8.31" height="8.15" fill="#bdcdf7"/>
<rect x="122.34" y="80.00" width="8.31" height="8.15" fill="#86c5f9"/>
<rect x="0.00" y="88.00" width="8.31" height="8.15" fill="#ea7171"/>
<rect x="8.16" y="88.00" width="8.31" height="8.15" fill="#86c5f9"/>
<rect x="16.31" y="88.00" width="8.31" height="8.15" fill="#93cffb"/>
<rect x="32.62" y="88.00" width="8.31" height="8.15" fill="#e8453b"/>
<rect x="40.78" y="88.00" width="8.31" height="8.15" fill="#8bc9fa"/>
<rect x="48.94" y="88.00" width="8.31" height="8.15" fill="#93cffb"/>
<rect x="57.09" y="88.00" width="8.31" height="8.15" fill="#8bc9fa"/>
<rect x="65.25" y="88.00" width="8.31" height="8.15" fill="#8bc9fa"/>
<rect x="73.41" y="88.00" width="8.31" height="8.15" fill="#6fb4f6"/>
<rect x="81.56" y="88.00" width="8.31" height="8.15" fill="#6fb4f6"/>
<rect x="89.72" y="88.00" width="8.31" height="8.15" fill="#6fb4f6"/>
<rect x="97.88" y="88.00" width="8.31" height="8.15" fill="#8bc9fa"/>
<rect x="106.03" y="88.00" width="8.31" height="8.15" fill="#bdcdf7"/>
<rect x="114.19" y="88.00" width="8.31" height="8.15" fill="#6fb4f6"/>
<rect x="8.16" y="96.00" width="8.31" height="8.15" fill="#86c5f9"/>
<rect x="16.31" y="96.00" width="8.31" height="8.15" fill="#3d8df0"/>
<rect x="24.47" y="96.00" width="8.31" height="8.15" fill="#6fb4f6"/>
<rect x="32.62" y="96.00" width="8.31" height="8.15" fill="#8bc9fa"/>
<rect x="40.78" y="96.00" width="8.31" height="8.15" fill="#93cffb"/>
<rect x="57.09" y="96.00" width="8.31" height="8.15" fill="#93cffb"/>
<rect x="65.25" y="96.00" width="8.31" height="8.15" fill="#93cffb"/>
<rect x="73.41" y="96.00" width="8.31" height="8.15" fill="#6fb4f6"/>
<rect x="81.56" y="96.00" width="8.31" height="8.15" fill="#8bc9fa"/>
<rect x="89.72" y="96.00" width="8.31" height="8.15" fill="#6fb4f6"/>
<rect x="97.88" y="96.00" width="8.31" height="8.15" fill="#8bc9fa"/>
<rect x="114.19" y="96.00" width="8.31" height="8.15" fill="#bdcdf7"/>
<rect x="122.34" y="96.00" width="8.31" height="8.15" fill="#93cffb"/>
<rect x="0.00" y="104.00" width="8.31" height="8.15" fill="#8bc9fa"/>
<rect x="16.31" y="104.00" width="8.31" height="8.15" fill="#e8453b"/>
<rect x="24.47" y="104.00" width="8.31" height="8.15" fill="#3d8df0"/>
<rect x="32.62" y="104.00" width="8.31" height="8.15" fill="#93cffb"/>
<rect x="48.94" y="104.00" width="8.31" height="8.15" fill="#3d8df0"/>
<rect x="57.09" y="104.00" width="8.31" height="8.15" fill="#80c0f8"/>
<rect x="65.25" y="104.00" width="8.31" height="8.15" fill="#8bc9fa"/>
<rect x="73.41" y="104.00" width="8.31" height="8.15" fill="#6fb4f6"/>
<rect x="81.56" y="104.00" width="8.31" height="8.15" fill="#bdcdf7"/>
<rect x="89.72" y="104.00" width="8.31" height="8.15" fill="#80c0f8"/>
<rect x="97.88" y="104.00" width="8.31" height="8.15" fill="#e2e2fa"/>
<rect x="114.19" y="104.00" width="8.31" height="8.15" fill="#80c0f8"/>
<rect x="122.34" y="104.00" width="8.31" height="8.15" fill="#6fb4f6"/>
<rect x="0.00" y="112.00" width="8.31" height="8.15" fill="#6fb4f6"/>
<rect x="8.16" y="112.00" width="8.31" height="8.15" fill="#e8453b"/>
<rect x="24.47" y="112.00" width="8.31" height="8.15" fill="#6fb4f6"/>
<rect x="32.62" y="112.00" width="8.31" height="8.15" fill="#6fb4f6"/>
<rect x="40.78" y="112.00" width="8.31" height="8.15" fill="#bdcdf7"/>
<rect x="81.56" y="112.00" width="8.31" height="8.15" fill="#6fb4f6"/>
<rect x="89.72" y="112.00" width="8.31" height="8.15" fill="#6fb4f6"/>
<rect x="114.19" y="112.00" width="8.31" height="8.15" fill="#6fb4f6"/>
<rect x="122.34" y="112.00" width="8.31" height="8.15" fill="#6fb4f6"/>
<rect x="0.00" y="120.00" width="8.31" height="8.15" fill="#e8453b"/>
<rect x="8.16" y="120.00" width="8.31" height="8.15" fill="#80c0f8"/>
<rect x="16.31" y="120.00" width="8.31" height="8.15" fill="#8bc9fa"/>
<rect x="24.47" y="120.00" width="8.31" height="8.15" fill="#8bc9fa"/>
<rect x="32.62" y="120.00" width="8.31" height="8.15" fill="#ea7171"/>
<rect x="40.78" y="120.00" width="8.31" height="8.15" fill="#3d8df0"/>
<rect x="48.94" y="120.00" width="8.31" height="8.15" fill="#3d8df0"/>
<rect x="57.09" y="120.00" width="8.31" height="8.15" fill="#86c5f9"/>
<rect x="65.25" y="120.00" width="8.31" height="8.15" fill="#bdcdf7"/>
<rect x="73.41" y="120.00" width="8.31" height="8.15" fill="#93cffb"/>
<rect x="81.56" y="120.00" width="8.31" height="8.15" fill="#86c5f9"/>
<rect x="89.72" y="120.00" width="8.31" height="8.15" fill="#80c0f8"/>
<rect x="114.19" y="120.00" width="8.31" height="8.15" fill="#93cffb"/>
<rect x="0.00" y="128.00" width="8.31" height="8.15" fill="#80c0f8"/>
<rect x="24.47" y="128.00" width="8.31" height="8.15" fill="#bdcdf7"/>
<rect x="32.62" y="128.00" width="8.31" height="8.15" fill="#bdcdf7"/>
<rect x="40.78" y="128.00" width="8.31" height="8.15" fill="#6fb4f6"/>
<rect x="48.94" y="128.00" width="8.31" height="8.15" fill="#6fb4f6"/>
<rect x="57.09" y="128.00" width="8.31" height="8.15" fill="#bdcdf7"/>
<rect x="65.25" y="128.00" width="8.31" height="8.15" fill="#6fb4f6"/>
<rect x="73.41" y="128.00" width="8.31" height="8.15" fill="#6fb4f6"/>
<rect x="97.88" y="128.00" width="8.31" height="8.15" fill="#bdcdf7"/>
<rect x="106.03" y="128.00" width="8.31" height="8.15" fill="#bdcdf7"/>
<rect x="114.19" y="128.00" width="8.31" height="8.15" fill="#6fb4f6"/>
<rect x="0.00" y="136.00" width="8.31" height="8.15" fill="#bdcdf7"/>
<rect x="8.16" y="136.00" width="8.31" height="8.15" fill="#8bc9fa"/>
<rect x="16.31" y="136.00" width="8.31" height="8.15" fill="#e2e2fa"/>
<rect x="24.47" y="136.00" width="8.31" height="8.15" fill="#bdcdf7"/>
<rect x="32.62" y="136.00" width="8.31" height="8.15" fill="#e2e2fa"/>
<rect x="40.78" y="136.00" width="8.31" height="8.15" fill="#e2e2fa"/>
<rect x="57.09" y="136.00" width="8.31" height="8.15" fill="#bdcdf7"/>
<rect x="65.25" y="136.00" width="8.31" height="8.15" fill="#bdcdf7"/>
<rect x="81.56" y="136.00" width="8.31" height="8.15" fill="#bdcdf7"/>
<rect x="89.72" y="136.00" width="8.31" height="8.15" fill="#bdcdf7"/>
<rect x="97.88" y="136.00" width="8.31" height="8.15" fill="#e2e2fa"/>
<rect x="106.03" y="136.00" width="8.31" height="8.15" fill="#bdcdf7"/>
<rect x="122.34" y="136.00" width="8.31" height="8.15" fill="#bdcdf7"/>
<rect x="0.00" y="144.00" width="8.31" height="8.15" fill="#86c5f9"/>
<rect x="8.16" y="144.00" width="8.31" height="8.15" fill="#8bc9fa"/>
<rect x="16.31" y="144.00" width="8.31" height="8.15" fill="#6fb4f6"/>
<rect x="32.62" y="144.00" width="8.31" height="8.15" fill="#80c0f8"/>
<rect x="48.94" y="144.00" width="8.31" height="8.15" fill="#80c0f8"/>
<rect x="57.09" y="144.00" width="8.31" height="8.15" fill="#6fb4f6"/>
<rect x="65.25" y="144.00" width="8.31" height="8.15" fill="#93cffb"/>
<rect x="81.56" y="144.00" width="8.31" height="8.15" fill="#bdcdf7"/>
<rect x="89.72" y="144.00" width="8.31" height="8.15" fill="#bdcdf7"/>
<rect x="106.03" y="144.00" width="8.31" height="8.15" fill="#8bc9fa"/>
<rect x="114.19" y="144.00" width="8.31" height="8.15" fill="#86c5f9"/>
<rect x="122.34" y="144.00" width="8.31" height="8.15" fill="#6fb4f6"/>
<rect x="8.16" y="152.00" width="8.31" height="8.15" fill="#6fb4f6"/>
<rect x="16.31" y="152.00" width="8.31" height="8.15" fill="#e2e2fa"/>
<rect x="24.47" y="152.00" width="8.31" height="8.15" fill="#86c5f9"/>
<rect x="48.94" y="152.00" width="8.31" height="8.15" fill="#6fb4f6"/>
<rect x="57.09" y="152.00" width="8.31" height="8.15" fill="#2f7df0"/>
<rect x="65.25" y="152.00" width="8.31" height="8.15" fill="#80c0f8"/>
<rect x="81.56" y="152.00" width="8.31" height="8.15" fill="#1b5ff0"/>
<rect x="89.72" y="152.00" width="8.31" height="8.15" fill="#8bc9fa"/>
<rect x="106.03" y="152.00" width="8.31" height="8.15" fill="#80c0f8"/>
<rect x="114.19" y="152.00" width="8.31" height="8.15" fill="#80c0f8"/>
<rect x="122.34" y="152.00" width="8.31" height="8.15" fill="#93cffb"/>
</g>
<rect x="148.0" y="0" width="12.0" height="160" fill="url(#hg)"/>
</svg></div>
<div class="t" style="left:387px;top:660px" ><svg viewBox="0 0 160 160">
<defs><filter id="ib" x="-10%" y="-10%" width="120%" height="120%"><feGaussianBlur stdDeviation="1.5"/></filter><filter id="ib2"><feGaussianBlur stdDeviation=".7"/></filter><filter id="ib3"><feGaussianBlur stdDeviation=".55"/></filter><filter id="tx" x="0" y="0" width="100%" height="100%"><feTurbulence type="fractalNoise" baseFrequency=".2 .14" numOctaves="2" seed="5" result="n"/><feColorMatrix in="n" type="matrix" values="0 0 0 0 .42  0 0 0 0 .25  0 0 0 0 .1  0 0 0 3.4 -1.3" result="d0"/><feGaussianBlur in="d0" stdDeviation=".5" result="d"/><feComposite in="d" in2="SourceGraphic" operator="in"/></filter><filter id="tx2" x="0" y="0" width="100%" height="100%"><feTurbulence type="fractalNoise" baseFrequency=".16 .24" numOctaves="2" seed="21" result="n"/><feColorMatrix in="n" type="matrix" values="0 0 0 0 .76  0 0 0 0 .71  0 0 0 0 .72  0 0 0 2.6 -1.15" result="d0"/><feGaussianBlur in="d0" stdDeviation=".5" result="d"/><feComposite in="d" in2="SourceGraphic" operator="in"/></filter></defs>
<rect width="160" height="160" fill="#ebe7e3"/>
<g filter="url(#ib)">
<polygon points="139.7,-4.7 165.7,-4.7 165.7,165.7 119.4,165.7 128.6,110.1 134.2,87.9" fill="#e6e6ea"/>
<polygon points="50.9,95.3 78.6,86.0 80.5,110.1 78.6,128.6 95.3,165.7 50.9,165.7" fill="#e7e6e8"/>
<polygon points="-4.7,-4.7 73.1,-4.7 86.0,50.9 88.8,62.0 80.5,77.7 60.1,81.4 49.0,77.7 36.0,73.1 17.5,64.2 -4.7,58.6" fill="#ae8559"/>
<polygon points="73.1,-4.7 137.0,-4.7 143.1,17.5 143.8,36.0 140.1,63.8 132.7,92.5 117.5,82.7 102.7,67.9 91.6,60.1 86.0,50.9" fill="#ae8559"/>
<polygon points="-4.7,61.6 15.7,67.9 36.0,80.9 45.7,95.7 50.3,110.5 50.3,165.7 11.6,165.7 15.7,136.0 10.1,102.7 -4.7,86.0" fill="#ae8559"/>
<polygon points="80.5,110.1 91.6,99.0 102.7,102.7 117.5,113.8 121.6,128.6 117.9,147.1 106.8,159.2 95.3,159.2 84.2,145.7 78.6,128.6" fill="#ae8559"/>
</g>
<clipPath id="ic0"><polygon points="-4.7,-4.7 73.1,-4.7 86.0,50.9 88.8,62.0 80.5,77.7 60.1,81.4 49.0,77.7 36.0,73.1 17.5,64.2 -4.7,58.6"/></clipPath>
<g clip-path="url(#ic0)" filter="url(#ib3)" stroke-linecap="round">
<line x1="8.7" y1="18.5" x2="-13.1" y2="25.3" stroke="#cdb497" stroke-width="0.9" stroke-opacity="0.75"/>
<line x1="5.4" y1="14.8" x2="-6.4" y2="16.6" stroke="#946538" stroke-width="0.7" stroke-opacity="0.75"/>
<line x1="48.7" y1="-22.0" x2="57.0" y2="-31.2" stroke="#b79468" stroke-width="0.9" stroke-opacity="0.75"/>
<line x1="63.1" y1="12.7" x2="73.4" y2="13.6" stroke="#cdb497" stroke-width="0.7" stroke-opacity="0.6"/>
<line x1="22.2" y1="36.7" x2="19.0" y2="47.5" stroke="#d9c7b2" stroke-width="1.5" stroke-opacity="0.45"/>
<line x1="23.5" y1="-10.4" x2="20.4" y2="-21.8" stroke="#8a5d33" stroke-width="1.2" stroke-opacity="0.6"/>
<line x1="37.4" y1="-16.4" x2="38.4" y2="-26.0" stroke="#8a5d33" stroke-width="1.5" stroke-opacity="0.45"/>
<line x1="47.9" y1="-7.0" x2="64.3" y2="-26.3" stroke="#7d5128" stroke-width="0.9" stroke-opacity="0.45"/>
<line x1="41.4" y1="7.4" x2="55.2" y2="0.9" stroke="#9a95a6" stroke-width="0.7" stroke-opacity="0.75"/>
<line x1="9.7" y1="-17.7" x2="-2.9" y2="-27.4" stroke="#a29ca6" stroke-width="0.7" stroke-opacity="0.6"/>
<line x1="36.5" y1="1.2" x2="35.0" y2="-11.7" stroke="#7d5128" stroke-width="1.5" stroke-opacity="0.6"/>
<line x1="48.6" y1="35.8" x2="58.5" y2="50.0" stroke="#946538" stroke-width="1.5" stroke-opacity="0.75"/>
<line x1="20.2" y1="24.3" x2="6.2" y2="40.3" stroke="#d9c7b2" stroke-width="0.7" stroke-opacity="0.45"/>
<line x1="54.4" y1="54.4" x2="60.3" y2="71.2" stroke="#7d5128" stroke-width="0.9" stroke-opacity="0.45"/>
<line x1="32.2" y1="11.6" x2="14.5" y2="18.2" stroke="#9a95a6" stroke-width="0.7" stroke-opacity="0.45"/>
<line x1="61.0" y1="26.0" x2="71.3" y2="32.9" stroke="#a29ca6" stroke-width="1.5" stroke-opacity="0.45"/>
<line x1="60.4" y1="3.7" x2="78.4" y2="-0.8" stroke="#946538" stroke-width="0.9" stroke-opacity="0.6"/>
<line x1="69.6" y1="-11.7" x2="78.2" y2="-18.7" stroke="#cdb497" stroke-width="1.5" stroke-opacity="0.6"/>
<line x1="18.2" y1="-3.5" x2="7.5" y2="-10.0" stroke="#d9c7b2" stroke-width="0.9" stroke-opacity="0.75"/>
<line x1="31.8" y1="-4.4" x2="26.6" y2="-25.0" stroke="#d9c7b2" stroke-width="0.9" stroke-opacity="0.75"/>
<line x1="45.3" y1="8.8" x2="61.6" y2="6.4" stroke="#8a5d33" stroke-width="1.2" stroke-opacity="0.45"/>
<line x1="47.1" y1="3.8" x2="54.7" y2="-0.9" stroke="#b79468" stroke-width="0.9" stroke-opacity="0.45"/>
<line x1="51.6" y1="14.8" x2="66.7" y2="19.7" stroke="#8a5d33" stroke-width="1.2" stroke-opacity="0.45"/>
<line x1="72.6" y1="-19.8" x2="89.2" y2="-31.8" stroke="#946538" stroke-width="0.7" stroke-opacity="0.45"/>
<line x1="16.7" y1="13.2" x2="3.8" y2="15.4" stroke="#8a5d33" stroke-width="1.5" stroke-opacity="0.45"/>
<line x1="33.9" y1="-7.6" x2="26.7" y2="-31.5" stroke="#a29ca6" stroke-width="0.7" stroke-opacity="0.75"/>
<line x1="35.3" y1="0.7" x2="32.1" y2="-22.8" stroke="#8a5d33" stroke-width="1.5" stroke-opacity="0.45"/>
<line x1="51.4" y1="-6.0" x2="68.5" y2="-21.2" stroke="#7d5128" stroke-width="1.5" stroke-opacity="0.6"/>
<line x1="9.3" y1="-5.2" x2="1.0" y2="-10.3" stroke="#d9c7b2" stroke-width="1.5" stroke-opacity="0.75"/>
<line x1="14.2" y1="49.7" x2="5.4" y2="66.8" stroke="#b79468" stroke-width="0.7" stroke-opacity="0.75"/>
<line x1="36.0" y1="5.1" x2="36.0" y2="-13.1" stroke="#cdb497" stroke-width="0.7" stroke-opacity="0.6"/>
<line x1="42.2" y1="-22.3" x2="49.9" y2="-38.5" stroke="#a29ca6" stroke-width="1.2" stroke-opacity="0.45"/>
<line x1="30.5" y1="-1.3" x2="27.5" y2="-11.9" stroke="#b79468" stroke-width="1.5" stroke-opacity="0.45"/>
<line x1="20.6" y1="39.6" x2="15.6" y2="50.4" stroke="#cdb497" stroke-width="0.9" stroke-opacity="0.6"/>
<line x1="44.5" y1="53.9" x2="51.7" y2="66.1" stroke="#a29ca6" stroke-width="0.7" stroke-opacity="0.75"/>
<line x1="79.5" y1="28.7" x2="101.5" y2="37.1" stroke="#b79468" stroke-width="1.2" stroke-opacity="0.45"/>
<line x1="46.1" y1="-8.0" x2="55.7" y2="-22.8" stroke="#b79468" stroke-width="1.2" stroke-opacity="0.45"/>
<line x1="43.7" y1="-4.0" x2="53.6" y2="-20.1" stroke="#d9c7b2" stroke-width="1.2" stroke-opacity="0.6"/>
<line x1="19.0" y1="-13.1" x2="7.1" y2="-28.2" stroke="#cdb497" stroke-width="0.7" stroke-opacity="0.6"/>
<line x1="36.8" y1="20.0" x2="37.0" y2="30.0" stroke="#b79468" stroke-width="0.7" stroke-opacity="0.75"/>
<line x1="4.7" y1="3.0" x2="-10.5" y2="-0.2" stroke="#cdb497" stroke-width="0.9" stroke-opacity="0.6"/>
<line x1="34.7" y1="45.5" x2="33.4" y2="66.0" stroke="#7d5128" stroke-width="0.9" stroke-opacity="0.45"/>
<line x1="33.4" y1="29.0" x2="30.4" y2="48.4" stroke="#946538" stroke-width="1.5" stroke-opacity="0.75"/>
<line x1="42.3" y1="5.9" x2="62.4" y2="-6.9" stroke="#946538" stroke-width="1.5" stroke-opacity="0.6"/>
<line x1="50.2" y1="50.9" x2="52.6" y2="59.7" stroke="#a29ca6" stroke-width="1.5" stroke-opacity="0.6"/>
<line x1="28.6" y1="-0.3" x2="19.1" y2="-16.6" stroke="#8a5d33" stroke-width="0.9" stroke-opacity="0.45"/>
<line x1="74.3" y1="-17.7" x2="93.9" y2="-31.6" stroke="#a29ca6" stroke-width="1.2" stroke-opacity="0.75"/>
<line x1="47.9" y1="-5.0" x2="54.0" y2="-13.2" stroke="#9a95a6" stroke-width="1.2" stroke-opacity="0.6"/>
<line x1="47.8" y1="3.6" x2="66.8" y2="-7.0" stroke="#7d5128" stroke-width="0.9" stroke-opacity="0.75"/>
<line x1="16.3" y1="43.4" x2="14.3" y2="53.2" stroke="#b79468" stroke-width="1.5" stroke-opacity="0.75"/>
<line x1="43.2" y1="7.7" x2="55.1" y2="3.8" stroke="#d9c7b2" stroke-width="0.9" stroke-opacity="0.75"/>
<line x1="-7.8" y1="6.2" x2="-20.6" y2="5.0" stroke="#cdb497" stroke-width="1.2" stroke-opacity="0.45"/>
<line x1="62.5" y1="4.8" x2="79.2" y2="1.3" stroke="#8a5d33" stroke-width="0.7" stroke-opacity="0.75"/>
<line x1="16.3" y1="29.4" x2="6.7" y2="36.3" stroke="#8a5d33" stroke-width="1.5" stroke-opacity="0.45"/>
<line x1="33.6" y1="3.9" x2="26.9" y2="-12.1" stroke="#9a95a6" stroke-width="1.2" stroke-opacity="0.45"/>
<line x1="26.8" y1="11.7" x2="11.1" y2="14.3" stroke="#b79468" stroke-width="1.2" stroke-opacity="0.45"/>
<line x1="47.2" y1="39.2" x2="59.9" y2="60.6" stroke="#7d5128" stroke-width="0.7" stroke-opacity="0.45"/>
<line x1="38.4" y1="13.6" x2="45.1" y2="24.8" stroke="#cdb497" stroke-width="1.5" stroke-opacity="0.45"/>
<line x1="6.5" y1="10.2" x2="-15.4" y2="10.2" stroke="#cdb497" stroke-width="1.5" stroke-opacity="0.45"/>
<line x1="20.4" y1="25.6" x2="10.5" y2="37.7" stroke="#cdb497" stroke-width="0.9" stroke-opacity="0.75"/>
<line x1="41.9" y1="37.3" x2="49.6" y2="54.9" stroke="#a29ca6" stroke-width="0.9" stroke-opacity="0.6"/>
<line x1="1.5" y1="-16.0" x2="-5.8" y2="-23.3" stroke="#cdb497" stroke-width="0.7" stroke-opacity="0.45"/>
<line x1="43.4" y1="3.9" x2="51.1" y2="-2.8" stroke="#9a95a6" stroke-width="1.5" stroke-opacity="0.75"/>
<line x1="38.3" y1="1.1" x2="43.2" y2="-13.7" stroke="#7d5128" stroke-width="0.7" stroke-opacity="0.45"/>
<line x1="18.3" y1="1.8" x2="-1.6" y2="-7.3" stroke="#a29ca6" stroke-width="0.9" stroke-opacity="0.45"/>
<line x1="31.3" y1="10.6" x2="10.8" y2="13.0" stroke="#b79468" stroke-width="0.9" stroke-opacity="0.45"/>
<line x1="41.1" y1="21.8" x2="46.0" y2="41.7" stroke="#8a5d33" stroke-width="0.7" stroke-opacity="0.45"/>
<line x1="59.2" y1="2.8" x2="78.2" y2="-3.3" stroke="#b79468" stroke-width="1.5" stroke-opacity="0.75"/>
<line x1="28.1" y1="20.4" x2="18.3" y2="32.1" stroke="#7d5128" stroke-width="0.9" stroke-opacity="0.45"/>
<line x1="19.6" y1="20.9" x2="5.5" y2="28.9" stroke="#946538" stroke-width="0.7" stroke-opacity="0.75"/>
<line x1="40.8" y1="-7.3" x2="45.8" y2="-17.5" stroke="#9a95a6" stroke-width="0.9" stroke-opacity="0.75"/>
<line x1="19.8" y1="0.6" x2="1.1" y2="-9.9" stroke="#8a5d33" stroke-width="0.9" stroke-opacity="0.6"/>
<line x1="48.3" y1="23.8" x2="60.7" y2="36.6" stroke="#9a95a6" stroke-width="0.9" stroke-opacity="0.6"/>
<line x1="39.2" y1="21.6" x2="46.4" y2="41.9" stroke="#8a5d33" stroke-width="0.7" stroke-opacity="0.6"/>
<line x1="79.8" y1="7.5" x2="89.5" y2="6.9" stroke="#d9c7b2" stroke-width="1.2" stroke-opacity="0.45"/>
<line x1="20.5" y1="-14.4" x2="10.2" y2="-28.8" stroke="#b79468" stroke-width="0.9" stroke-opacity="0.75"/>
<line x1="51.6" y1="24.6" x2="66.9" y2="36.8" stroke="#8a5d33" stroke-width="0.9" stroke-opacity="0.6"/>
<line x1="11.5" y1="19.2" x2="-8.3" y2="26.3" stroke="#7d5128" stroke-width="0.7" stroke-opacity="0.6"/>
<line x1="35.8" y1="54.1" x2="35.6" y2="71.5" stroke="#8a5d33" stroke-width="1.5" stroke-opacity="0.75"/>
<line x1="62.9" y1="24.1" x2="83.4" y2="33.5" stroke="#946538" stroke-width="1.5" stroke-opacity="0.6"/>
<line x1="77.0" y1="2.3" x2="94.3" y2="-0.9" stroke="#9a95a6" stroke-width="1.5" stroke-opacity="0.6"/>
<line x1="31.4" y1="31.0" x2="28.2" y2="44.6" stroke="#b79468" stroke-width="1.2" stroke-opacity="0.75"/>
<line x1="66.0" y1="-4.1" x2="81.5" y2="-12.8" stroke="#cdb497" stroke-width="0.7" stroke-opacity="0.75"/>
<line x1="56.7" y1="41.1" x2="60.7" y2="53.6" stroke="#9a95a6" stroke-width="0.7" stroke-opacity="0.75"/>
<line x1="81.6" y1="6.9" x2="92.0" y2="6.2" stroke="#9a95a6" stroke-width="1.5" stroke-opacity="0.6"/>
<line x1="50.4" y1="7.7" x2="67.5" y2="4.8" stroke="#b79468" stroke-width="0.9" stroke-opacity="0.45"/>
<line x1="29.0" y1="4.8" x2="14.1" y2="-6.4" stroke="#cdb497" stroke-width="0.7" stroke-opacity="0.6"/>
<line x1="27.0" y1="8.5" x2="11.6" y2="5.7" stroke="#b79468" stroke-width="1.2" stroke-opacity="0.75"/>
<line x1="16.6" y1="-0.9" x2="-1.3" y2="-11.2" stroke="#946538" stroke-width="1.2" stroke-opacity="0.75"/>
<line x1="53.3" y1="28.3" x2="66.2" y2="40.4" stroke="#a29ca6" stroke-width="1.2" stroke-opacity="0.6"/>
<line x1="8.3" y1="-12.8" x2="-9.3" y2="-25.2" stroke="#d9c7b2" stroke-width="0.9" stroke-opacity="0.45"/>
<line x1="60.9" y1="2.4" x2="77.9" y2="-3.3" stroke="#7d5128" stroke-width="0.7" stroke-opacity="0.45"/>
<line x1="33.1" y1="32.5" x2="34.6" y2="50.9" stroke="#d9c7b2" stroke-width="0.7" stroke-opacity="0.45"/>
<line x1="45.3" y1="4.5" x2="57.5" y2="-2.2" stroke="#b79468" stroke-width="1.5" stroke-opacity="0.6"/>
<line x1="40.7" y1="28.5" x2="42.5" y2="48.2" stroke="#8a5d33" stroke-width="0.7" stroke-opacity="0.6"/>
<line x1="47.5" y1="-19.2" x2="51.6" y2="-38.4" stroke="#9a95a6" stroke-width="1.2" stroke-opacity="0.6"/>
<line x1="43.4" y1="-8.6" x2="54.5" y2="-26.2" stroke="#a29ca6" stroke-width="1.2" stroke-opacity="0.75"/>
<line x1="38.3" y1="-30.2" x2="40.9" y2="-42.2" stroke="#8a5d33" stroke-width="1.5" stroke-opacity="0.6"/>
<line x1="42.5" y1="13.6" x2="58.1" y2="22.0" stroke="#b79468" stroke-width="1.2" stroke-opacity="0.45"/>
<line x1="47.7" y1="16.2" x2="66.0" y2="24.9" stroke="#d9c7b2" stroke-width="1.5" stroke-opacity="0.75"/>
<line x1="37.7" y1="-8.1" x2="36.9" y2="-30.3" stroke="#a29ca6" stroke-width="1.2" stroke-opacity="0.45"/>
<line x1="25.8" y1="31.0" x2="14.3" y2="47.3" stroke="#d9c7b2" stroke-width="1.5" stroke-opacity="0.75"/>
<line x1="41.7" y1="-6.2" x2="45.5" y2="-19.4" stroke="#cdb497" stroke-width="0.7" stroke-opacity="0.6"/>
<line x1="38.3" y1="5.9" x2="47.9" y2="-11.1" stroke="#cdb497" stroke-width="1.2" stroke-opacity="0.6"/>
<line x1="-3.5" y1="-0.2" x2="-21.5" y2="-4.6" stroke="#b79468" stroke-width="1.2" stroke-opacity="0.45"/>
<line x1="37.2" y1="16.3" x2="40.1" y2="27.7" stroke="#7d5128" stroke-width="1.5" stroke-opacity="0.45"/>
<line x1="21.0" y1="1.6" x2="5.3" y2="-6.9" stroke="#d9c7b2" stroke-width="0.7" stroke-opacity="0.6"/>
<line x1="63.5" y1="26.3" x2="72.0" y2="32.1" stroke="#9a95a6" stroke-width="0.9" stroke-opacity="0.75"/>
<line x1="43.0" y1="47.2" x2="42.7" y2="63.9" stroke="#9a95a6" stroke-width="1.2" stroke-opacity="0.6"/>
<line x1="42.6" y1="-7.2" x2="46.4" y2="-17.8" stroke="#8a5d33" stroke-width="0.7" stroke-opacity="0.6"/>
<line x1="38.1" y1="-37.4" x2="31.4" y2="-51.8" stroke="#9a95a6" stroke-width="0.7" stroke-opacity="0.6"/>
<line x1="67.1" y1="1.7" x2="84.1" y2="-2.8" stroke="#8a5d33" stroke-width="1.5" stroke-opacity="0.6"/>
<line x1="48.7" y1="2.7" x2="59.1" y2="-3.2" stroke="#946538" stroke-width="1.2" stroke-opacity="0.45"/>
<line x1="15.1" y1="27.5" x2="2.6" y2="36.1" stroke="#b79468" stroke-width="1.2" stroke-opacity="0.75"/>
<line x1="60.4" y1="31.6" x2="78.6" y2="45.3" stroke="#7d5128" stroke-width="1.5" stroke-opacity="0.45"/>
<line x1="-2.1" y1="-12.1" x2="-12.9" y2="-17.1" stroke="#946538" stroke-width="1.2" stroke-opacity="0.45"/>
<line x1="10.2" y1="-5.9" x2="-3.5" y2="-14.5" stroke="#b79468" stroke-width="0.9" stroke-opacity="0.6"/>
<line x1="-0.1" y1="35.5" x2="-20.2" y2="48.8" stroke="#b79468" stroke-width="1.2" stroke-opacity="0.6"/>
<line x1="69.7" y1="-18.7" x2="81.1" y2="-28.0" stroke="#8a5d33" stroke-width="1.5" stroke-opacity="0.45"/>
<line x1="25.3" y1="18.0" x2="15.2" y2="24.7" stroke="#d9c7b2" stroke-width="0.7" stroke-opacity="0.75"/>
<line x1="74.6" y1="-9.8" x2="97.0" y2="-19.9" stroke="#b79468" stroke-width="0.9" stroke-opacity="0.75"/>
<line x1="-1.5" y1="30.3" x2="-16.7" y2="37.6" stroke="#946538" stroke-width="1.2" stroke-opacity="0.75"/>
<line x1="60.9" y1="37.0" x2="73.3" y2="50.5" stroke="#7d5128" stroke-width="0.9" stroke-opacity="0.75"/>
<line x1="36.5" y1="6.4" x2="41.3" y2="-14.9" stroke="#946538" stroke-width="0.7" stroke-opacity="0.6"/>
<line x1="31.6" y1="45.4" x2="30.5" y2="56.0" stroke="#b79468" stroke-width="0.7" stroke-opacity="0.75"/>
<line x1="0.3" y1="-11.5" x2="-9.4" y2="-18.7" stroke="#9a95a6" stroke-width="0.9" stroke-opacity="0.75"/>
<line x1="70.0" y1="32.0" x2="80.1" y2="38.7" stroke="#b79468" stroke-width="0.9" stroke-opacity="0.6"/>
<line x1="27.3" y1="30.0" x2="16.0" y2="46.0" stroke="#8a5d33" stroke-width="1.2" stroke-opacity="0.45"/>
<line x1="32.8" y1="2.4" x2="26.8" y2="-11.6" stroke="#8a5d33" stroke-width="1.5" stroke-opacity="0.45"/>
<line x1="59.2" y1="-16.6" x2="67.9" y2="-28.9" stroke="#8a5d33" stroke-width="1.5" stroke-opacity="0.45"/>
<line x1="61.5" y1="-22.3" x2="78.3" y2="-38.0" stroke="#946538" stroke-width="1.2" stroke-opacity="0.75"/>
<line x1="16.3" y1="29.6" x2="7.8" y2="39.2" stroke="#9a95a6" stroke-width="0.7" stroke-opacity="0.6"/>
<line x1="43.7" y1="29.1" x2="49.1" y2="39.1" stroke="#d9c7b2" stroke-width="1.5" stroke-opacity="0.75"/>
<line x1="21.1" y1="-8.1" x2="8.8" y2="-19.6" stroke="#8a5d33" stroke-width="0.9" stroke-opacity="0.75"/>
<line x1="28.1" y1="1.6" x2="18.0" y2="-7.3" stroke="#b79468" stroke-width="0.7" stroke-opacity="0.45"/>
<line x1="37.6" y1="20.7" x2="39.7" y2="31.7" stroke="#8a5d33" stroke-width="1.2" stroke-opacity="0.6"/>
<line x1="44.9" y1="5.7" x2="55.0" y2="0.3" stroke="#9a95a6" stroke-width="1.5" stroke-opacity="0.6"/>
<line x1="63.7" y1="-4.8" x2="81.9" y2="-14.3" stroke="#a29ca6" stroke-width="0.9" stroke-opacity="0.75"/>
<line x1="63.2" y1="7.6" x2="75.9" y2="6.4" stroke="#d9c7b2" stroke-width="1.5" stroke-opacity="0.45"/>
<line x1="24.0" y1="5.6" x2="10.3" y2="0.6" stroke="#8a5d33" stroke-width="0.9" stroke-opacity="0.6"/>
<line x1="40.6" y1="-33.5" x2="40.2" y2="-50.8" stroke="#946538" stroke-width="0.9" stroke-opacity="0.75"/>
<line x1="71.2" y1="9.7" x2="94.3" y2="9.5" stroke="#7d5128" stroke-width="0.9" stroke-opacity="0.45"/>
<line x1="52.4" y1="29.0" x2="63.7" y2="40.6" stroke="#8a5d33" stroke-width="1.2" stroke-opacity="0.6"/>
<line x1="27.1" y1="12.2" x2="4.8" y2="17.7" stroke="#8a5d33" stroke-width="1.2" stroke-opacity="0.45"/>
<line x1="76.3" y1="-15.7" x2="95.2" y2="-27.2" stroke="#8a5d33" stroke-width="0.7" stroke-opacity="0.6"/>
<line x1="28.2" y1="-8.1" x2="18.8" y2="-26.9" stroke="#946538" stroke-width="0.9" stroke-opacity="0.75"/>
<line x1="29.3" y1="8.0" x2="19.6" y2="5.1" stroke="#946538" stroke-width="1.2" stroke-opacity="0.75"/>
<line x1="61.3" y1="-25.9" x2="73.6" y2="-40.9" stroke="#7d5128" stroke-width="0.9" stroke-opacity="0.45"/>
<line x1="31.6" y1="12.8" x2="18.2" y2="21.8" stroke="#9a95a6" stroke-width="0.9" stroke-opacity="0.6"/>
<line x1="20.7" y1="8.2" x2="3.1" y2="6.0" stroke="#7d5128" stroke-width="0.9" stroke-opacity="0.6"/>
</g>
<clipPath id="ic1"><polygon points="73.1,-4.7 137.0,-4.7 143.1,17.5 143.8,36.0 140.1,63.8 132.7,92.5 117.5,82.7 102.7,67.9 91.6,60.1 86.0,50.9"/></clipPath>
<g clip-path="url(#ic1)" filter="url(#ib3)" stroke-linecap="round">
<line x1="146.9" y1="28.4" x2="162.3" y2="24.3" stroke="#9a95a6" stroke-width="1.2" stroke-opacity="0.6"/>
<line x1="136.2" y1="20.4" x2="154.9" y2="5.9" stroke="#9a95a6" stroke-width="0.7" stroke-opacity="0.75"/>
<line x1="151.7" y1="66.0" x2="162.1" y2="75.3" stroke="#9a95a6" stroke-width="0.7" stroke-opacity="0.6"/>
<line x1="131.6" y1="26.8" x2="146.6" y2="16.6" stroke="#9a95a6" stroke-width="1.2" stroke-opacity="0.6"/>
<line x1="149.1" y1="7.3" x2="161.6" y2="-1.3" stroke="#cdb497" stroke-width="1.5" stroke-opacity="0.45"/>
<line x1="109.2" y1="37.3" x2="86.7" y2="40.8" stroke="#9a95a6" stroke-width="0.9" stroke-opacity="0.45"/>
<line x1="153.7" y1="35.9" x2="175.8" y2="35.8" stroke="#9a95a6" stroke-width="0.9" stroke-opacity="0.45"/>
<line x1="104.3" y1="17.9" x2="95.1" y2="9.0" stroke="#946538" stroke-width="0.7" stroke-opacity="0.75"/>
<line x1="96.3" y1="25.1" x2="85.2" y2="18.8" stroke="#7d5128" stroke-width="1.2" stroke-opacity="0.45"/>
<line x1="157.7" y1="52.7" x2="178.0" y2="60.9" stroke="#a29ca6" stroke-width="0.9" stroke-opacity="0.45"/>
<line x1="109.2" y1="58.5" x2="105.9" y2="71.5" stroke="#946538" stroke-width="1.5" stroke-opacity="0.45"/>
<line x1="129.8" y1="76.1" x2="141.6" y2="94.7" stroke="#a29ca6" stroke-width="1.2" stroke-opacity="0.6"/>
<line x1="149.3" y1="39.3" x2="168.7" y2="41.2" stroke="#cdb497" stroke-width="0.9" stroke-opacity="0.45"/>
<line x1="107.4" y1="22.0" x2="98.4" y2="4.7" stroke="#d9c7b2" stroke-width="1.5" stroke-opacity="0.75"/>
<line x1="131.0" y1="23.2" x2="149.8" y2="7.1" stroke="#9a95a6" stroke-width="0.7" stroke-opacity="0.45"/>
<line x1="120.4" y1="53.1" x2="126.4" y2="72.7" stroke="#946538" stroke-width="0.9" stroke-opacity="0.75"/>
<line x1="97.7" y1="2.7" x2="91.9" y2="-10.0" stroke="#8a5d33" stroke-width="0.9" stroke-opacity="0.6"/>
<line x1="126.8" y1="28.9" x2="135.4" y2="21.2" stroke="#8a5d33" stroke-width="1.5" stroke-opacity="0.45"/>
<line x1="92.2" y1="46.0" x2="78.3" y2="52.3" stroke="#d9c7b2" stroke-width="1.2" stroke-opacity="0.6"/>
<line x1="120.0" y1="28.9" x2="125.6" y2="16.1" stroke="#cdb497" stroke-width="0.9" stroke-opacity="0.6"/>
<line x1="117.0" y1="31.1" x2="112.8" y2="10.2" stroke="#7d5128" stroke-width="1.5" stroke-opacity="0.75"/>
<line x1="83.8" y1="65.9" x2="74.6" y2="76.9" stroke="#a29ca6" stroke-width="1.2" stroke-opacity="0.75"/>
<line x1="112.4" y1="36.6" x2="98.8" y2="38.0" stroke="#946538" stroke-width="0.9" stroke-opacity="0.45"/>
<line x1="106.5" y1="27.1" x2="95.5" y2="17.2" stroke="#cdb497" stroke-width="1.2" stroke-opacity="0.6"/>
<line x1="77.5" y1="24.6" x2="59.2" y2="19.7" stroke="#cdb497" stroke-width="0.7" stroke-opacity="0.75"/>
<line x1="76.9" y1="49.7" x2="63.1" y2="54.2" stroke="#b79468" stroke-width="1.5" stroke-opacity="0.75"/>
<line x1="103.2" y1="41.6" x2="85.0" y2="49.1" stroke="#946538" stroke-width="0.9" stroke-opacity="0.75"/>
<line x1="128.2" y1="50.0" x2="135.1" y2="57.8" stroke="#d9c7b2" stroke-width="1.5" stroke-opacity="0.45"/>
<line x1="102.0" y1="14.7" x2="91.3" y2="2.6" stroke="#b79468" stroke-width="1.5" stroke-opacity="0.45"/>
<line x1="107.7" y1="58.4" x2="97.9" y2="76.4" stroke="#7d5128" stroke-width="0.9" stroke-opacity="0.6"/>
<line x1="118.6" y1="5.7" x2="121.4" y2="-5.6" stroke="#7d5128" stroke-width="0.7" stroke-opacity="0.45"/>
<line x1="94.7" y1="50.6" x2="85.5" y2="56.3" stroke="#b79468" stroke-width="1.5" stroke-opacity="0.45"/>
<line x1="150.9" y1="30.0" x2="171.2" y2="26.5" stroke="#cdb497" stroke-width="1.2" stroke-opacity="0.6"/>
<line x1="148.1" y1="64.4" x2="163.1" y2="74.9" stroke="#cdb497" stroke-width="1.2" stroke-opacity="0.6"/>
<line x1="92.9" y1="76.4" x2="89.8" y2="92.1" stroke="#9a95a6" stroke-width="0.7" stroke-opacity="0.75"/>
<line x1="98.4" y1="64.9" x2="85.2" y2="83.2" stroke="#946538" stroke-width="1.5" stroke-opacity="0.6"/>
<line x1="129.6" y1="30.8" x2="142.0" y2="25.0" stroke="#9a95a6" stroke-width="1.2" stroke-opacity="0.45"/>
<line x1="128.9" y1="61.8" x2="136.2" y2="72.4" stroke="#cdb497" stroke-width="1.5" stroke-opacity="0.6"/>
<line x1="92.4" y1="40.4" x2="74.8" y2="43.6" stroke="#b79468" stroke-width="0.9" stroke-opacity="0.75"/>
<line x1="112.4" y1="40.7" x2="98.5" y2="53.8" stroke="#d9c7b2" stroke-width="0.7" stroke-opacity="0.75"/>
<line x1="123.9" y1="50.0" x2="127.2" y2="63.7" stroke="#cdb497" stroke-width="1.2" stroke-opacity="0.45"/>
<line x1="110.8" y1="44.1" x2="96.8" y2="61.8" stroke="#cdb497" stroke-width="0.7" stroke-opacity="0.45"/>
<line x1="158.5" y1="35.5" x2="174.3" y2="35.3" stroke="#9a95a6" stroke-width="1.2" stroke-opacity="0.6"/>
<line x1="121.0" y1="9.5" x2="121.4" y2="-0.5" stroke="#cdb497" stroke-width="1.5" stroke-opacity="0.45"/>
<line x1="127.6" y1="60.6" x2="134.3" y2="70.9" stroke="#9a95a6" stroke-width="1.5" stroke-opacity="0.6"/>
<line x1="108.1" y1="33.4" x2="88.7" y2="28.0" stroke="#b79468" stroke-width="1.5" stroke-opacity="0.45"/>
<line x1="147.3" y1="8.1" x2="159.3" y2="-3.6" stroke="#946538" stroke-width="1.5" stroke-opacity="0.75"/>
<line x1="126.7" y1="25.8" x2="134.9" y2="15.6" stroke="#cdb497" stroke-width="0.9" stroke-opacity="0.45"/>
<line x1="138.9" y1="5.9" x2="143.1" y2="-7.5" stroke="#d9c7b2" stroke-width="0.7" stroke-opacity="0.45"/>
<line x1="99.4" y1="29.1" x2="89.8" y2="25.2" stroke="#a29ca6" stroke-width="0.9" stroke-opacity="0.75"/>
<line x1="115.2" y1="75.2" x2="114.6" y2="86.2" stroke="#b79468" stroke-width="1.5" stroke-opacity="0.6"/>
<line x1="110.0" y1="70.2" x2="102.6" y2="82.4" stroke="#cdb497" stroke-width="1.5" stroke-opacity="0.45"/>
<line x1="96.6" y1="64.6" x2="84.2" y2="78.2" stroke="#9a95a6" stroke-width="0.9" stroke-opacity="0.6"/>
<line x1="87.2" y1="18.7" x2="73.4" y2="10.1" stroke="#7d5128" stroke-width="1.5" stroke-opacity="0.45"/>
<line x1="113.2" y1="40.9" x2="105.0" y2="52.4" stroke="#b79468" stroke-width="1.2" stroke-opacity="0.6"/>
<line x1="109.2" y1="-6.2" x2="101.5" y2="-16.4" stroke="#a29ca6" stroke-width="1.2" stroke-opacity="0.75"/>
<line x1="105.8" y1="74.2" x2="97.2" y2="95.6" stroke="#9a95a6" stroke-width="1.2" stroke-opacity="0.6"/>
<line x1="152.0" y1="42.8" x2="164.9" y2="45.3" stroke="#7d5128" stroke-width="1.5" stroke-opacity="0.75"/>
<line x1="103.7" y1="44.1" x2="83.6" y2="55.0" stroke="#9a95a6" stroke-width="1.5" stroke-opacity="0.45"/>
<line x1="128.8" y1="3.9" x2="133.2" y2="-8.7" stroke="#b79468" stroke-width="0.7" stroke-opacity="0.45"/>
<line x1="105.1" y1="26.4" x2="93.7" y2="18.3" stroke="#7d5128" stroke-width="1.5" stroke-opacity="0.45"/>
<line x1="119.2" y1="61.6" x2="120.0" y2="80.5" stroke="#a29ca6" stroke-width="1.2" stroke-opacity="0.6"/>
<line x1="121.1" y1="38.8" x2="139.0" y2="51.7" stroke="#9a95a6" stroke-width="0.9" stroke-opacity="0.45"/>
<line x1="122.4" y1="26.4" x2="130.6" y2="9.9" stroke="#d9c7b2" stroke-width="1.2" stroke-opacity="0.6"/>
<line x1="109.3" y1="72.1" x2="108.8" y2="88.8" stroke="#cdb497" stroke-width="1.2" stroke-opacity="0.6"/>
<line x1="105.4" y1="-6.8" x2="105.6" y2="-26.2" stroke="#8a5d33" stroke-width="0.7" stroke-opacity="0.75"/>
<line x1="102.2" y1="74.5" x2="93.7" y2="90.2" stroke="#7d5128" stroke-width="0.9" stroke-opacity="0.75"/>
<line x1="145.8" y1="4.5" x2="150.1" y2="-3.0" stroke="#9a95a6" stroke-width="1.2" stroke-opacity="0.75"/>
<line x1="104.2" y1="21.0" x2="89.2" y2="6.5" stroke="#cdb497" stroke-width="0.9" stroke-opacity="0.75"/>
<line x1="149.5" y1="32.7" x2="160.8" y2="31.5" stroke="#d9c7b2" stroke-width="0.9" stroke-opacity="0.45"/>
<line x1="127.0" y1="65.9" x2="129.6" y2="78.8" stroke="#7d5128" stroke-width="1.5" stroke-opacity="0.75"/>
<line x1="104.1" y1="-0.4" x2="92.9" y2="-22.0" stroke="#d9c7b2" stroke-width="1.5" stroke-opacity="0.6"/>
<line x1="103.1" y1="20.4" x2="91.4" y2="3.4" stroke="#7d5128" stroke-width="0.9" stroke-opacity="0.75"/>
<line x1="159.9" y1="35.3" x2="172.0" y2="35.1" stroke="#8a5d33" stroke-width="1.5" stroke-opacity="0.6"/>
<line x1="151.2" y1="13.1" x2="166.3" y2="0.7" stroke="#8a5d33" stroke-width="1.2" stroke-opacity="0.6"/>
<line x1="130.3" y1="-2.9" x2="133.1" y2="-15.7" stroke="#9a95a6" stroke-width="0.9" stroke-opacity="0.75"/>
<line x1="91.0" y1="58.2" x2="75.4" y2="69.3" stroke="#946538" stroke-width="1.5" stroke-opacity="0.45"/>
<line x1="131.8" y1="11.5" x2="147.1" y2="-8.0" stroke="#9a95a6" stroke-width="0.7" stroke-opacity="0.45"/>
<line x1="115.5" y1="40.1" x2="109.3" y2="55.9" stroke="#9a95a6" stroke-width="1.2" stroke-opacity="0.6"/>
<line x1="121.1" y1="60.9" x2="125.4" y2="75.5" stroke="#7d5128" stroke-width="0.9" stroke-opacity="0.45"/>
<line x1="155.0" y1="37.7" x2="174.1" y2="38.6" stroke="#a29ca6" stroke-width="1.5" stroke-opacity="0.45"/>
<line x1="130.2" y1="35.8" x2="152.3" y2="35.4" stroke="#9a95a6" stroke-width="1.2" stroke-opacity="0.75"/>
<line x1="112.5" y1="39.8" x2="98.2" y2="50.4" stroke="#d9c7b2" stroke-width="1.2" stroke-opacity="0.45"/>
<line x1="156.6" y1="20.3" x2="178.5" y2="11.3" stroke="#7d5128" stroke-width="0.9" stroke-opacity="0.45"/>
<line x1="143.5" y1="26.6" x2="160.7" y2="20.1" stroke="#7d5128" stroke-width="1.2" stroke-opacity="0.45"/>
<line x1="113.4" y1="35.7" x2="101.3" y2="34.6" stroke="#7d5128" stroke-width="1.2" stroke-opacity="0.45"/>
<line x1="127.1" y1="0.9" x2="134.6" y2="-13.7" stroke="#8a5d33" stroke-width="1.5" stroke-opacity="0.6"/>
<line x1="129.2" y1="17.6" x2="142.4" y2="-1.5" stroke="#7d5128" stroke-width="0.9" stroke-opacity="0.45"/>
<line x1="101.5" y1="68.2" x2="96.6" y2="83.2" stroke="#a29ca6" stroke-width="1.5" stroke-opacity="0.6"/>
<line x1="115.0" y1="42.2" x2="107.2" y2="59.7" stroke="#d9c7b2" stroke-width="1.2" stroke-opacity="0.45"/>
<line x1="116.8" y1="23.0" x2="116.1" y2="2.7" stroke="#cdb497" stroke-width="0.9" stroke-opacity="0.6"/>
<line x1="125.4" y1="42.2" x2="137.1" y2="51.2" stroke="#7d5128" stroke-width="1.5" stroke-opacity="0.75"/>
<line x1="125.0" y1="38.6" x2="146.2" y2="46.1" stroke="#cdb497" stroke-width="0.7" stroke-opacity="0.45"/>
<line x1="101.5" y1="69.6" x2="91.9" y2="79.4" stroke="#9a95a6" stroke-width="1.5" stroke-opacity="0.45"/>
<line x1="79.1" y1="36.2" x2="56.9" y2="36.3" stroke="#8a5d33" stroke-width="1.5" stroke-opacity="0.6"/>
<line x1="145.7" y1="10.1" x2="153.5" y2="-1.4" stroke="#9a95a6" stroke-width="0.7" stroke-opacity="0.45"/>
<line x1="103.4" y1="23.3" x2="92.9" y2="12.8" stroke="#9a95a6" stroke-width="0.7" stroke-opacity="0.45"/>
<line x1="135.5" y1="6.7" x2="145.5" y2="-6.9" stroke="#9a95a6" stroke-width="1.5" stroke-opacity="0.75"/>
<line x1="121.3" y1="66.2" x2="123.4" y2="83.8" stroke="#7d5128" stroke-width="1.5" stroke-opacity="0.6"/>
<line x1="116.3" y1="41.7" x2="114.8" y2="51.5" stroke="#b79468" stroke-width="1.2" stroke-opacity="0.6"/>
<line x1="116.2" y1="18.5" x2="119.1" y2="-1.6" stroke="#9a95a6" stroke-width="0.7" stroke-opacity="0.45"/>
<line x1="118.3" y1="-7.5" x2="114.4" y2="-18.4" stroke="#946538" stroke-width="0.7" stroke-opacity="0.45"/>
<line x1="69.8" y1="32.6" x2="60.2" y2="31.8" stroke="#a29ca6" stroke-width="1.2" stroke-opacity="0.75"/>
<line x1="125.9" y1="13.7" x2="135.3" y2="-2.4" stroke="#cdb497" stroke-width="1.5" stroke-opacity="0.6"/>
<line x1="131.4" y1="32.6" x2="141.9" y2="30.0" stroke="#b79468" stroke-width="0.9" stroke-opacity="0.45"/>
<line x1="130.4" y1="-3.6" x2="137.5" y2="-23.3" stroke="#8a5d33" stroke-width="0.9" stroke-opacity="0.6"/>
<line x1="125.6" y1="52.7" x2="131.4" y2="73.5" stroke="#cdb497" stroke-width="1.2" stroke-opacity="0.45"/>
<line x1="90.7" y1="51.6" x2="81.5" y2="56.5" stroke="#b79468" stroke-width="1.5" stroke-opacity="0.45"/>
<line x1="145.2" y1="53.2" x2="160.9" y2="62.2" stroke="#cdb497" stroke-width="1.5" stroke-opacity="0.6"/>
<line x1="136.2" y1="37.8" x2="150.0" y2="39.2" stroke="#d9c7b2" stroke-width="0.9" stroke-opacity="0.75"/>
<line x1="127.0" y1="72.6" x2="129.0" y2="84.0" stroke="#7d5128" stroke-width="0.9" stroke-opacity="0.6"/>
<line x1="151.5" y1="66.4" x2="166.5" y2="78.6" stroke="#cdb497" stroke-width="0.7" stroke-opacity="0.45"/>
<line x1="104.5" y1="2.0" x2="97.1" y2="-11.6" stroke="#9a95a6" stroke-width="0.9" stroke-opacity="0.45"/>
<line x1="131.5" y1="42.8" x2="144.5" y2="49.2" stroke="#d9c7b2" stroke-width="1.5" stroke-opacity="0.45"/>
<line x1="72.0" y1="34.2" x2="57.8" y2="33.6" stroke="#cdb497" stroke-width="1.5" stroke-opacity="0.75"/>
<line x1="124.3" y1="42.2" x2="138.3" y2="57.2" stroke="#8a5d33" stroke-width="1.5" stroke-opacity="0.45"/>
<line x1="136.7" y1="27.6" x2="155.6" y2="19.4" stroke="#b79468" stroke-width="0.7" stroke-opacity="0.6"/>
<line x1="103.4" y1="43.9" x2="88.0" y2="51.6" stroke="#d9c7b2" stroke-width="0.7" stroke-opacity="0.75"/>
<line x1="114.2" y1="33.2" x2="103.1" y2="23.7" stroke="#d9c7b2" stroke-width="1.5" stroke-opacity="0.6"/>
<line x1="116.1" y1="44.1" x2="110.2" y2="66.1" stroke="#8a5d33" stroke-width="0.7" stroke-opacity="0.6"/>
<line x1="123.6" y1="31.4" x2="134.8" y2="22.6" stroke="#a29ca6" stroke-width="0.7" stroke-opacity="0.75"/>
<line x1="101.0" y1="17.8" x2="91.0" y2="7.0" stroke="#a29ca6" stroke-width="1.5" stroke-opacity="0.75"/>
<line x1="113.8" y1="30.8" x2="104.9" y2="20.6" stroke="#9a95a6" stroke-width="1.5" stroke-opacity="0.45"/>
<line x1="97.0" y1="7.8" x2="78.1" y2="-11.6" stroke="#b79468" stroke-width="1.5" stroke-opacity="0.75"/>
<line x1="141.8" y1="25.0" x2="158.1" y2="17.6" stroke="#946538" stroke-width="1.5" stroke-opacity="0.45"/>
<line x1="117.1" y1="28.6" x2="117.2" y2="16.9" stroke="#d9c7b2" stroke-width="1.5" stroke-opacity="0.45"/>
<line x1="107.8" y1="40.4" x2="94.7" y2="46.4" stroke="#7d5128" stroke-width="0.7" stroke-opacity="0.6"/>
<line x1="93.1" y1="50.9" x2="71.1" y2="63.3" stroke="#8a5d33" stroke-width="1.2" stroke-opacity="0.75"/>
<line x1="111.3" y1="33.4" x2="99.9" y2="28.4" stroke="#d9c7b2" stroke-width="1.2" stroke-opacity="0.6"/>
<line x1="120.0" y1="21.6" x2="119.5" y2="6.4" stroke="#cdb497" stroke-width="1.5" stroke-opacity="0.45"/>
<line x1="95.0" y1="27.4" x2="73.2" y2="19.6" stroke="#946538" stroke-width="0.9" stroke-opacity="0.75"/>
<line x1="96.0" y1="32.6" x2="78.6" y2="29.8" stroke="#8a5d33" stroke-width="1.5" stroke-opacity="0.45"/>
<line x1="122.7" y1="74.8" x2="121.3" y2="85.6" stroke="#9a95a6" stroke-width="0.9" stroke-opacity="0.6"/>
<line x1="112.6" y1="35.1" x2="101.8" y2="33.0" stroke="#7d5128" stroke-width="1.5" stroke-opacity="0.6"/>
<line x1="113.5" y1="48.6" x2="107.1" y2="65.0" stroke="#9a95a6" stroke-width="1.2" stroke-opacity="0.6"/>
<line x1="131.3" y1="81.9" x2="141.7" y2="98.7" stroke="#8a5d33" stroke-width="1.5" stroke-opacity="0.75"/>
<line x1="106.4" y1="70.9" x2="103.9" y2="83.3" stroke="#9a95a6" stroke-width="1.5" stroke-opacity="0.6"/>
<line x1="103.1" y1="53.8" x2="96.5" y2="66.1" stroke="#7d5128" stroke-width="0.9" stroke-opacity="0.75"/>
<line x1="104.2" y1="48.2" x2="87.3" y2="62.6" stroke="#a29ca6" stroke-width="0.7" stroke-opacity="0.6"/>
<line x1="88.3" y1="71.5" x2="77.2" y2="84.6" stroke="#7d5128" stroke-width="1.2" stroke-opacity="0.6"/>
<line x1="110.5" y1="31.4" x2="93.8" y2="20.7" stroke="#cdb497" stroke-width="1.2" stroke-opacity="0.75"/>
<line x1="103.3" y1="-2.5" x2="102.2" y2="-14.1" stroke="#7d5128" stroke-width="1.2" stroke-opacity="0.45"/>
<line x1="90.9" y1="36.4" x2="70.8" y2="36.7" stroke="#8a5d33" stroke-width="0.9" stroke-opacity="0.6"/>
<line x1="84.0" y1="14.9" x2="65.6" y2="2.5" stroke="#a29ca6" stroke-width="1.5" stroke-opacity="0.45"/>
<line x1="110.0" y1="69.1" x2="102.7" y2="79.4" stroke="#d9c7b2" stroke-width="1.2" stroke-opacity="0.45"/>
<line x1="101.0" y1="72.6" x2="90.6" y2="91.7" stroke="#7d5128" stroke-width="1.5" stroke-opacity="0.45"/>
<line x1="111.6" y1="40.6" x2="103.1" y2="47.5" stroke="#7d5128" stroke-width="0.9" stroke-opacity="0.75"/>
<line x1="78.9" y1="24.3" x2="62.7" y2="19.6" stroke="#8a5d33" stroke-width="0.9" stroke-opacity="0.45"/>
<line x1="83.0" y1="49.6" x2="69.4" y2="55.0" stroke="#9a95a6" stroke-width="0.7" stroke-opacity="0.6"/>
<line x1="102.1" y1="68.9" x2="101.6" y2="78.3" stroke="#a29ca6" stroke-width="0.7" stroke-opacity="0.75"/>
</g>
<clipPath id="ic2"><polygon points="-4.7,61.6 15.7,67.9 36.0,80.9 45.7,95.7 50.3,110.5 50.3,165.7 11.6,165.7 15.7,136.0 10.1,102.7 -4.7,86.0"/></clipPath>
<g clip-path="url(#ic2)" filter="url(#ib3)" stroke-linecap="round">
<line x1="39.6" y1="131.2" x2="56.5" y2="147.0" stroke="#cdb497" stroke-width="0.7" stroke-opacity="0.6"/>
<line x1="22.3" y1="128.2" x2="14.4" y2="149.1" stroke="#d9c7b2" stroke-width="1.5" stroke-opacity="0.6"/>
<line x1="49.2" y1="123.9" x2="63.5" y2="126.8" stroke="#b79468" stroke-width="1.5" stroke-opacity="0.6"/>
<line x1="19.0" y1="99.9" x2="7.7" y2="80.6" stroke="#946538" stroke-width="1.2" stroke-opacity="0.45"/>
<line x1="66.9" y1="123.1" x2="85.9" y2="124.8" stroke="#9a95a6" stroke-width="1.5" stroke-opacity="0.75"/>
<line x1="6.2" y1="106.5" x2="-13.2" y2="95.6" stroke="#9a95a6" stroke-width="1.2" stroke-opacity="0.45"/>
<line x1="22.2" y1="106.0" x2="19.4" y2="93.6" stroke="#7d5128" stroke-width="1.2" stroke-opacity="0.45"/>
<line x1="31.7" y1="105.2" x2="34.0" y2="93.0" stroke="#8a5d33" stroke-width="0.9" stroke-opacity="0.6"/>
<line x1="47.0" y1="106.5" x2="59.4" y2="97.6" stroke="#8a5d33" stroke-width="1.2" stroke-opacity="0.75"/>
<line x1="29.8" y1="115.1" x2="41.4" y2="99.0" stroke="#b79468" stroke-width="1.2" stroke-opacity="0.6"/>
<line x1="53.4" y1="156.8" x2="61.3" y2="173.6" stroke="#8a5d33" stroke-width="0.9" stroke-opacity="0.45"/>
<line x1="29.2" y1="131.7" x2="31.9" y2="148.5" stroke="#8a5d33" stroke-width="0.9" stroke-opacity="0.45"/>
<line x1="-11.2" y1="97.7" x2="-29.5" y2="86.4" stroke="#a29ca6" stroke-width="0.7" stroke-opacity="0.75"/>
<line x1="37.5" y1="90.6" x2="50.6" y2="70.4" stroke="#8a5d33" stroke-width="0.9" stroke-opacity="0.6"/>
<line x1="54.1" y1="122.9" x2="67.2" y2="124.5" stroke="#d9c7b2" stroke-width="0.9" stroke-opacity="0.6"/>
<line x1="11.0" y1="120.9" x2="-2.2" y2="122.2" stroke="#946538" stroke-width="1.5" stroke-opacity="0.45"/>
<line x1="39.0" y1="94.3" x2="40.3" y2="84.2" stroke="#946538" stroke-width="1.2" stroke-opacity="0.6"/>
<line x1="69.5" y1="134.5" x2="81.8" y2="139.4" stroke="#cdb497" stroke-width="1.5" stroke-opacity="0.6"/>
<line x1="19.3" y1="101.8" x2="15.5" y2="90.3" stroke="#d9c7b2" stroke-width="1.2" stroke-opacity="0.45"/>
<line x1="51.8" y1="132.2" x2="65.3" y2="140.3" stroke="#8a5d33" stroke-width="1.2" stroke-opacity="0.45"/>
<line x1="49.9" y1="136.6" x2="55.7" y2="143.2" stroke="#d9c7b2" stroke-width="1.2" stroke-opacity="0.45"/>
<line x1="57.6" y1="131.9" x2="68.7" y2="135.8" stroke="#946538" stroke-width="0.7" stroke-opacity="0.6"/>
<line x1="15.0" y1="117.4" x2="-1.9" y2="114.5" stroke="#b79468" stroke-width="0.9" stroke-opacity="0.75"/>
<line x1="34.7" y1="125.3" x2="43.8" y2="132.5" stroke="#7d5128" stroke-width="0.7" stroke-opacity="0.45"/>
<line x1="38.9" y1="110.5" x2="48.1" y2="103.1" stroke="#946538" stroke-width="0.9" stroke-opacity="0.6"/>
<line x1="31.0" y1="117.5" x2="46.3" y2="111.0" stroke="#a29ca6" stroke-width="0.9" stroke-opacity="0.45"/>
<line x1="28.1" y1="108.8" x2="27.7" y2="86.1" stroke="#d9c7b2" stroke-width="1.2" stroke-opacity="0.45"/>
<line x1="17.9" y1="124.7" x2="7.3" y2="130.8" stroke="#8a5d33" stroke-width="0.7" stroke-opacity="0.6"/>
<line x1="62.3" y1="135.5" x2="81.6" y2="145.3" stroke="#9a95a6" stroke-width="1.2" stroke-opacity="0.6"/>
<line x1="30.8" y1="140.1" x2="37.8" y2="162.3" stroke="#7d5128" stroke-width="1.2" stroke-opacity="0.75"/>
<line x1="22.2" y1="92.9" x2="21.3" y2="78.6" stroke="#9a95a6" stroke-width="0.9" stroke-opacity="0.45"/>
<line x1="35.6" y1="131.5" x2="43.4" y2="144.7" stroke="#a29ca6" stroke-width="0.9" stroke-opacity="0.45"/>
<line x1="13.3" y1="91.6" x2="6.2" y2="75.4" stroke="#7d5128" stroke-width="0.9" stroke-opacity="0.6"/>
<line x1="28.7" y1="136.4" x2="28.6" y2="150.4" stroke="#7d5128" stroke-width="0.9" stroke-opacity="0.75"/>
<line x1="55.3" y1="138.1" x2="69.7" y2="147.3" stroke="#7d5128" stroke-width="1.5" stroke-opacity="0.75"/>
<line x1="46.9" y1="118.1" x2="61.5" y2="117.1" stroke="#9a95a6" stroke-width="0.9" stroke-opacity="0.6"/>
<line x1="36.3" y1="82.1" x2="43.3" y2="68.3" stroke="#9a95a6" stroke-width="1.2" stroke-opacity="0.75"/>
<line x1="-3.8" y1="99.1" x2="-15.0" y2="90.1" stroke="#7d5128" stroke-width="0.7" stroke-opacity="0.6"/>
<line x1="71.9" y1="128.8" x2="88.0" y2="132.0" stroke="#8a5d33" stroke-width="0.9" stroke-opacity="0.45"/>
<line x1="60.2" y1="87.2" x2="75.0" y2="71.2" stroke="#946538" stroke-width="0.9" stroke-opacity="0.75"/>
<line x1="24.4" y1="124.5" x2="18.2" y2="136.0" stroke="#cdb497" stroke-width="1.5" stroke-opacity="0.6"/>
<line x1="20.5" y1="125.9" x2="9.6" y2="135.4" stroke="#8a5d33" stroke-width="0.9" stroke-opacity="0.75"/>
<line x1="23.4" y1="124.2" x2="16.7" y2="135.5" stroke="#8a5d33" stroke-width="1.2" stroke-opacity="0.75"/>
<line x1="-12.8" y1="113.9" x2="-27.8" y2="111.7" stroke="#d9c7b2" stroke-width="0.7" stroke-opacity="0.45"/>
<line x1="24.3" y1="115.7" x2="13.9" y2="96.9" stroke="#946538" stroke-width="0.9" stroke-opacity="0.6"/>
<line x1="21.4" y1="113.0" x2="12.6" y2="100.5" stroke="#b79468" stroke-width="1.2" stroke-opacity="0.75"/>
<line x1="52.2" y1="118.9" x2="61.8" y2="118.8" stroke="#b79468" stroke-width="0.7" stroke-opacity="0.6"/>
<line x1="28.5" y1="97.9" x2="26.7" y2="87.9" stroke="#946538" stroke-width="1.5" stroke-opacity="0.75"/>
<line x1="47.2" y1="77.7" x2="50.5" y2="69.1" stroke="#b79468" stroke-width="0.7" stroke-opacity="0.6"/>
<line x1="45.5" y1="122.3" x2="56.3" y2="124.1" stroke="#a29ca6" stroke-width="1.2" stroke-opacity="0.75"/>
<line x1="-4.9" y1="106.4" x2="-15.8" y2="101.4" stroke="#946538" stroke-width="1.2" stroke-opacity="0.45"/>
<line x1="48.8" y1="99.7" x2="60.6" y2="89.4" stroke="#b79468" stroke-width="1.2" stroke-opacity="0.6"/>
<line x1="51.0" y1="111.4" x2="69.8" y2="105.4" stroke="#946538" stroke-width="1.5" stroke-opacity="0.75"/>
<line x1="-14.5" y1="102.6" x2="-30.7" y2="94.8" stroke="#a29ca6" stroke-width="0.9" stroke-opacity="0.75"/>
<line x1="17.5" y1="114.0" x2="-3.5" y2="102.3" stroke="#8a5d33" stroke-width="0.7" stroke-opacity="0.6"/>
<line x1="18.2" y1="120.5" x2="-2.2" y2="123.1" stroke="#9a95a6" stroke-width="0.7" stroke-opacity="0.75"/>
<line x1="11.1" y1="119.7" x2="-6.6" y2="120.1" stroke="#b79468" stroke-width="0.7" stroke-opacity="0.45"/>
<line x1="13.2" y1="148.5" x2="12.2" y2="157.7" stroke="#7d5128" stroke-width="1.2" stroke-opacity="0.75"/>
<line x1="19.8" y1="122.0" x2="0.7" y2="129.4" stroke="#9a95a6" stroke-width="0.7" stroke-opacity="0.6"/>
<line x1="37.6" y1="149.3" x2="42.6" y2="159.5" stroke="#7d5128" stroke-width="0.7" stroke-opacity="0.6"/>
<line x1="33.4" y1="111.3" x2="43.0" y2="100.5" stroke="#a29ca6" stroke-width="0.9" stroke-opacity="0.75"/>
<line x1="35.6" y1="159.2" x2="33.2" y2="179.8" stroke="#946538" stroke-width="0.9" stroke-opacity="0.75"/>
<line x1="17.3" y1="80.8" x2="7.7" y2="60.3" stroke="#b79468" stroke-width="1.2" stroke-opacity="0.75"/>
<line x1="28.4" y1="163.9" x2="28.6" y2="173.5" stroke="#a29ca6" stroke-width="1.5" stroke-opacity="0.75"/>
<line x1="-7.2" y1="91.1" x2="-23.4" y2="76.3" stroke="#8a5d33" stroke-width="0.9" stroke-opacity="0.45"/>
<line x1="25.8" y1="135.8" x2="26.7" y2="150.9" stroke="#d9c7b2" stroke-width="0.9" stroke-opacity="0.75"/>
<line x1="25.9" y1="113.1" x2="24.5" y2="91.3" stroke="#7d5128" stroke-width="1.2" stroke-opacity="0.6"/>
<line x1="10.4" y1="99.8" x2="-0.3" y2="88.3" stroke="#7d5128" stroke-width="0.9" stroke-opacity="0.6"/>
<line x1="30.7" y1="106.1" x2="38.1" y2="87.9" stroke="#946538" stroke-width="1.5" stroke-opacity="0.6"/>
<line x1="-6.9" y1="126.5" x2="-15.8" y2="128.5" stroke="#8a5d33" stroke-width="1.2" stroke-opacity="0.6"/>
<line x1="66.4" y1="99.8" x2="81.1" y2="93.8" stroke="#d9c7b2" stroke-width="1.5" stroke-opacity="0.45"/>
<line x1="18.7" y1="133.3" x2="10.3" y2="148.1" stroke="#7d5128" stroke-width="0.7" stroke-opacity="0.75"/>
<line x1="2.7" y1="113.9" x2="-17.6" y2="109.4" stroke="#cdb497" stroke-width="1.2" stroke-opacity="0.45"/>
<line x1="7.2" y1="128.0" x2="-7.3" y2="133.7" stroke="#d9c7b2" stroke-width="1.5" stroke-opacity="0.45"/>
<line x1="15.0" y1="127.2" x2="-0.3" y2="136.2" stroke="#8a5d33" stroke-width="1.5" stroke-opacity="0.6"/>
<line x1="4.8" y1="122.7" x2="-13.9" y2="125.5" stroke="#d9c7b2" stroke-width="1.5" stroke-opacity="0.45"/>
<line x1="14.8" y1="117.3" x2="-5.9" y2="113.7" stroke="#946538" stroke-width="0.9" stroke-opacity="0.75"/>
<line x1="64.7" y1="111.9" x2="83.2" y2="108.4" stroke="#d9c7b2" stroke-width="0.7" stroke-opacity="0.75"/>
<line x1="32.8" y1="121.7" x2="53.6" y2="130.1" stroke="#cdb497" stroke-width="1.2" stroke-opacity="0.45"/>
<line x1="23.2" y1="118.2" x2="8.0" y2="113.2" stroke="#946538" stroke-width="1.5" stroke-opacity="0.6"/>
<line x1="-6.2" y1="103.0" x2="-19.0" y2="96.3" stroke="#9a95a6" stroke-width="0.7" stroke-opacity="0.45"/>
<line x1="24.5" y1="110.2" x2="21.9" y2="100.5" stroke="#7d5128" stroke-width="1.5" stroke-opacity="0.45"/>
<line x1="25.2" y1="83.2" x2="20.6" y2="64.8" stroke="#cdb497" stroke-width="1.5" stroke-opacity="0.75"/>
<line x1="58.3" y1="87.4" x2="69.6" y2="74.1" stroke="#7d5128" stroke-width="0.9" stroke-opacity="0.75"/>
<line x1="4.9" y1="118.2" x2="-9.9" y2="117.3" stroke="#d9c7b2" stroke-width="0.7" stroke-opacity="0.45"/>
<line x1="20.6" y1="96.6" x2="16.2" y2="82.4" stroke="#b79468" stroke-width="1.5" stroke-opacity="0.6"/>
<line x1="27.9" y1="124.0" x2="32.5" y2="145.5" stroke="#8a5d33" stroke-width="1.5" stroke-opacity="0.75"/>
<line x1="-15.4" y1="126.4" x2="-30.9" y2="129.1" stroke="#9a95a6" stroke-width="0.7" stroke-opacity="0.75"/>
<line x1="28.8" y1="133.1" x2="30.7" y2="151.1" stroke="#b79468" stroke-width="1.5" stroke-opacity="0.45"/>
<line x1="18.9" y1="108.1" x2="7.4" y2="91.1" stroke="#a29ca6" stroke-width="1.5" stroke-opacity="0.45"/>
<line x1="37.0" y1="103.3" x2="42.3" y2="90.1" stroke="#9a95a6" stroke-width="0.9" stroke-opacity="0.6"/>
<line x1="12.6" y1="163.3" x2="7.4" y2="182.7" stroke="#b79468" stroke-width="0.7" stroke-opacity="0.45"/>
<line x1="37.8" y1="101.4" x2="48.8" y2="86.0" stroke="#a29ca6" stroke-width="1.2" stroke-opacity="0.75"/>
<line x1="11.8" y1="121.4" x2="-7.2" y2="124.1" stroke="#946538" stroke-width="0.7" stroke-opacity="0.45"/>
<line x1="27.3" y1="89.7" x2="27.8" y2="68.4" stroke="#7d5128" stroke-width="1.2" stroke-opacity="0.75"/>
<line x1="1.3" y1="157.8" x2="-11.4" y2="169.5" stroke="#b79468" stroke-width="1.5" stroke-opacity="0.6"/>
<line x1="65.6" y1="93.4" x2="77.8" y2="82.7" stroke="#7d5128" stroke-width="1.5" stroke-opacity="0.6"/>
<line x1="-20.1" y1="110.5" x2="-35.8" y2="107.2" stroke="#a29ca6" stroke-width="1.5" stroke-opacity="0.45"/>
<line x1="42.0" y1="127.1" x2="58.5" y2="136.0" stroke="#cdb497" stroke-width="1.5" stroke-opacity="0.75"/>
<line x1="23.9" y1="138.8" x2="25.5" y2="155.8" stroke="#a29ca6" stroke-width="1.5" stroke-opacity="0.75"/>
<line x1="-5.2" y1="141.2" x2="-23.0" y2="151.7" stroke="#cdb497" stroke-width="0.9" stroke-opacity="0.45"/>
<line x1="70.4" y1="126.4" x2="89.6" y2="129.4" stroke="#cdb497" stroke-width="1.2" stroke-opacity="0.45"/>
<line x1="-7.8" y1="121.7" x2="-17.5" y2="122.4" stroke="#a29ca6" stroke-width="0.9" stroke-opacity="0.75"/>
<line x1="16.7" y1="86.1" x2="17.0" y2="72.4" stroke="#cdb497" stroke-width="1.5" stroke-opacity="0.75"/>
<line x1="17.7" y1="140.9" x2="8.7" y2="160.5" stroke="#a29ca6" stroke-width="0.9" stroke-opacity="0.75"/>
<line x1="32.1" y1="150.2" x2="29.3" y2="161.5" stroke="#a29ca6" stroke-width="1.5" stroke-opacity="0.6"/>
<line x1="32.1" y1="129.9" x2="38.5" y2="146.0" stroke="#b79468" stroke-width="1.2" stroke-opacity="0.75"/>
<line x1="23.2" y1="106.6" x2="20.2" y2="85.1" stroke="#cdb497" stroke-width="1.5" stroke-opacity="0.6"/>
<line x1="50.6" y1="128.7" x2="67.0" y2="135.6" stroke="#8a5d33" stroke-width="0.7" stroke-opacity="0.45"/>
<line x1="13.3" y1="146.3" x2="4.2" y2="164.6" stroke="#9a95a6" stroke-width="0.7" stroke-opacity="0.45"/>
<line x1="-11.5" y1="141.2" x2="-27.9" y2="150.3" stroke="#7d5128" stroke-width="0.9" stroke-opacity="0.75"/>
<line x1="24.1" y1="113.9" x2="13.5" y2="95.1" stroke="#7d5128" stroke-width="1.2" stroke-opacity="0.45"/>
<line x1="17.4" y1="130.7" x2="10.0" y2="141.2" stroke="#7d5128" stroke-width="1.2" stroke-opacity="0.6"/>
<line x1="16.9" y1="125.1" x2="7.7" y2="131.0" stroke="#8a5d33" stroke-width="1.5" stroke-opacity="0.75"/>
<line x1="9.3" y1="118.1" x2="-12.8" y2="116.4" stroke="#b79468" stroke-width="0.9" stroke-opacity="0.6"/>
<line x1="34.8" y1="101.3" x2="39.8" y2="89.2" stroke="#cdb497" stroke-width="1.2" stroke-opacity="0.45"/>
<line x1="20.7" y1="139.6" x2="19.6" y2="157.7" stroke="#b79468" stroke-width="1.2" stroke-opacity="0.75"/>
<line x1="42.0" y1="158.8" x2="47.2" y2="179.0" stroke="#a29ca6" stroke-width="1.5" stroke-opacity="0.45"/>
<line x1="4.2" y1="136.4" x2="-16.9" y2="149.8" stroke="#cdb497" stroke-width="0.7" stroke-opacity="0.45"/>
<line x1="27.7" y1="166.2" x2="27.8" y2="183.5" stroke="#d9c7b2" stroke-width="0.7" stroke-opacity="0.6"/>
<line x1="-20.7" y1="114.3" x2="-29.9" y2="113.2" stroke="#7d5128" stroke-width="0.9" stroke-opacity="0.6"/>
<line x1="18.7" y1="83.2" x2="21.3" y2="67.7" stroke="#9a95a6" stroke-width="0.7" stroke-opacity="0.75"/>
<line x1="25.1" y1="112.8" x2="18.4" y2="93.2" stroke="#b79468" stroke-width="0.9" stroke-opacity="0.6"/>
<line x1="3.8" y1="86.8" x2="-4.5" y2="67.3" stroke="#7d5128" stroke-width="0.7" stroke-opacity="0.45"/>
<line x1="18.8" y1="75.3" x2="11.8" y2="57.4" stroke="#d9c7b2" stroke-width="1.2" stroke-opacity="0.45"/>
<line x1="54.3" y1="111.9" x2="65.0" y2="109.1" stroke="#d9c7b2" stroke-width="0.9" stroke-opacity="0.75"/>
<line x1="28.6" y1="130.3" x2="29.6" y2="144.4" stroke="#946538" stroke-width="0.9" stroke-opacity="0.75"/>
<line x1="37.6" y1="121.4" x2="52.8" y2="124.5" stroke="#a29ca6" stroke-width="1.2" stroke-opacity="0.75"/>
<line x1="39.6" y1="148.6" x2="42.0" y2="165.5" stroke="#7d5128" stroke-width="1.2" stroke-opacity="0.6"/>
<line x1="50.6" y1="96.7" x2="62.6" y2="86.4" stroke="#9a95a6" stroke-width="1.5" stroke-opacity="0.75"/>
<line x1="40.9" y1="116.5" x2="54.4" y2="113.9" stroke="#8a5d33" stroke-width="0.7" stroke-opacity="0.6"/>
<line x1="32.3" y1="132.5" x2="35.4" y2="145.0" stroke="#8a5d33" stroke-width="1.5" stroke-opacity="0.75"/>
<line x1="25.1" y1="123.0" x2="18.2" y2="136.9" stroke="#8a5d33" stroke-width="1.2" stroke-opacity="0.45"/>
<line x1="41.4" y1="132.6" x2="54.6" y2="144.8" stroke="#9a95a6" stroke-width="0.9" stroke-opacity="0.75"/>
<line x1="7.7" y1="95.3" x2="-3.7" y2="85.7" stroke="#cdb497" stroke-width="1.5" stroke-opacity="0.45"/>
<line x1="21.2" y1="119.9" x2="3.9" y2="121.6" stroke="#946538" stroke-width="0.9" stroke-opacity="0.6"/>
<line x1="-13.6" y1="127.7" x2="-32.3" y2="131.4" stroke="#a29ca6" stroke-width="0.7" stroke-opacity="0.6"/>
<line x1="31.5" y1="110.2" x2="34.5" y2="99.8" stroke="#7d5128" stroke-width="0.9" stroke-opacity="0.75"/>
<line x1="21.2" y1="124.5" x2="13.0" y2="131.3" stroke="#7d5128" stroke-width="0.7" stroke-opacity="0.45"/>
<line x1="24.0" y1="131.2" x2="23.1" y2="141.9" stroke="#946538" stroke-width="0.7" stroke-opacity="0.45"/>
<line x1="44.8" y1="84.9" x2="50.4" y2="71.3" stroke="#8a5d33" stroke-width="1.5" stroke-opacity="0.45"/>
<line x1="21.4" y1="120.3" x2="3.6" y2="123.2" stroke="#a29ca6" stroke-width="0.7" stroke-opacity="0.6"/>
<line x1="49.5" y1="100.0" x2="61.2" y2="90.3" stroke="#946538" stroke-width="0.9" stroke-opacity="0.6"/>
<line x1="40.0" y1="78.6" x2="41.2" y2="56.8" stroke="#7d5128" stroke-width="1.2" stroke-opacity="0.6"/>
<line x1="22.5" y1="133.3" x2="19.2" y2="156.3" stroke="#946538" stroke-width="1.5" stroke-opacity="0.6"/>
<line x1="27.6" y1="110.7" x2="31.8" y2="87.0" stroke="#a29ca6" stroke-width="1.2" stroke-opacity="0.45"/>
<line x1="44.2" y1="91.5" x2="52.6" y2="71.7" stroke="#9a95a6" stroke-width="1.5" stroke-opacity="0.75"/>
<line x1="59.1" y1="139.8" x2="75.6" y2="150.0" stroke="#d9c7b2" stroke-width="0.9" stroke-opacity="0.6"/>
<line x1="47.0" y1="113.5" x2="60.0" y2="109.9" stroke="#7d5128" stroke-width="1.2" stroke-opacity="0.45"/>
<line x1="3.8" y1="145.2" x2="-7.0" y2="154.2" stroke="#cdb497" stroke-width="1.5" stroke-opacity="0.75"/>
</g>
<clipPath id="ic3"><polygon points="80.5,110.1 91.6,99.0 102.7,102.7 117.5,113.8 121.6,128.6 117.9,147.1 106.8,159.2 95.3,159.2 84.2,145.7 78.6,128.6"/></clipPath>
<g clip-path="url(#ic3)" filter="url(#ib3)" stroke-linecap="round">
<line x1="71.6" y1="107.7" x2="64.4" y2="100.9" stroke="#a29ca6" stroke-width="1.2" stroke-opacity="0.6"/>
<line x1="131.9" y1="128.7" x2="142.2" y2="128.2" stroke="#cdb497" stroke-width="1.5" stroke-opacity="0.45"/>
<line x1="92.8" y1="89.3" x2="87.6" y2="66.5" stroke="#a29ca6" stroke-width="1.5" stroke-opacity="0.45"/>
<line x1="85.8" y1="164.3" x2="77.5" y2="179.2" stroke="#946538" stroke-width="0.9" stroke-opacity="0.45"/>
<line x1="91.8" y1="123.2" x2="84.3" y2="116.6" stroke="#946538" stroke-width="0.9" stroke-opacity="0.75"/>
<line x1="90.8" y1="113.1" x2="81.0" y2="96.4" stroke="#7d5128" stroke-width="0.9" stroke-opacity="0.6"/>
<line x1="93.2" y1="117.0" x2="87.1" y2="105.3" stroke="#a29ca6" stroke-width="0.7" stroke-opacity="0.45"/>
<line x1="96.9" y1="126.7" x2="87.4" y2="116.9" stroke="#946538" stroke-width="0.7" stroke-opacity="0.45"/>
<line x1="90.7" y1="128.6" x2="73.4" y2="125.0" stroke="#a29ca6" stroke-width="0.7" stroke-opacity="0.6"/>
<line x1="82.8" y1="98.7" x2="72.8" y2="79.1" stroke="#cdb497" stroke-width="0.7" stroke-opacity="0.75"/>
<line x1="82.3" y1="126.0" x2="66.5" y2="122.1" stroke="#9a95a6" stroke-width="1.5" stroke-opacity="0.45"/>
<line x1="124.7" y1="132.2" x2="137.8" y2="133.1" stroke="#946538" stroke-width="1.2" stroke-opacity="0.45"/>
<line x1="80.8" y1="125.7" x2="66.0" y2="122.2" stroke="#d9c7b2" stroke-width="0.7" stroke-opacity="0.6"/>
<line x1="82.6" y1="116.4" x2="74.8" y2="107.9" stroke="#b79468" stroke-width="1.5" stroke-opacity="0.75"/>
<line x1="80.5" y1="133.0" x2="57.5" y2="136.0" stroke="#9a95a6" stroke-width="0.7" stroke-opacity="0.75"/>
<line x1="122.4" y1="123.7" x2="137.9" y2="118.5" stroke="#cdb497" stroke-width="0.9" stroke-opacity="0.6"/>
<line x1="89.6" y1="116.3" x2="83.5" y2="104.3" stroke="#7d5128" stroke-width="0.7" stroke-opacity="0.45"/>
<line x1="90.4" y1="131.5" x2="79.1" y2="132.7" stroke="#8a5d33" stroke-width="0.9" stroke-opacity="0.45"/>
<line x1="94.0" y1="140.8" x2="83.8" y2="161.4" stroke="#7d5128" stroke-width="1.2" stroke-opacity="0.75"/>
<line x1="123.7" y1="160.6" x2="134.5" y2="169.2" stroke="#a29ca6" stroke-width="1.5" stroke-opacity="0.6"/>
<line x1="131.4" y1="107.8" x2="137.9" y2="100.6" stroke="#946538" stroke-width="1.5" stroke-opacity="0.6"/>
<line x1="85.9" y1="172.7" x2="80.1" y2="184.4" stroke="#8a5d33" stroke-width="1.5" stroke-opacity="0.45"/>
<line x1="129.5" y1="120.6" x2="143.5" y2="116.2" stroke="#7d5128" stroke-width="0.9" stroke-opacity="0.45"/>
<line x1="114.8" y1="108.4" x2="122.5" y2="94.0" stroke="#946538" stroke-width="1.2" stroke-opacity="0.45"/>
<line x1="87.2" y1="121.8" x2="77.3" y2="114.6" stroke="#cdb497" stroke-width="1.5" stroke-opacity="0.45"/>
<line x1="105.8" y1="135.9" x2="113.4" y2="143.8" stroke="#b79468" stroke-width="1.5" stroke-opacity="0.6"/>
<line x1="102.2" y1="137.2" x2="105.7" y2="149.2" stroke="#cdb497" stroke-width="0.9" stroke-opacity="0.45"/>
<line x1="91.1" y1="101.5" x2="88.7" y2="84.0" stroke="#9a95a6" stroke-width="1.5" stroke-opacity="0.45"/>
<line x1="87.8" y1="114.1" x2="77.7" y2="101.8" stroke="#d9c7b2" stroke-width="1.2" stroke-opacity="0.6"/>
<line x1="75.2" y1="163.6" x2="60.5" y2="180.5" stroke="#d9c7b2" stroke-width="1.5" stroke-opacity="0.75"/>
<line x1="90.6" y1="118.9" x2="79.9" y2="108.0" stroke="#946538" stroke-width="1.2" stroke-opacity="0.75"/>
<line x1="93.5" y1="136.6" x2="84.8" y2="144.5" stroke="#8a5d33" stroke-width="1.2" stroke-opacity="0.6"/>
<line x1="106.4" y1="172.7" x2="108.9" y2="187.0" stroke="#cdb497" stroke-width="1.2" stroke-opacity="0.6"/>
<line x1="105.9" y1="114.3" x2="109.3" y2="98.9" stroke="#a29ca6" stroke-width="1.5" stroke-opacity="0.45"/>
<line x1="122.2" y1="132.2" x2="132.5" y2="132.9" stroke="#7d5128" stroke-width="0.9" stroke-opacity="0.6"/>
<line x1="75.1" y1="135.6" x2="61.4" y2="138.5" stroke="#b79468" stroke-width="1.2" stroke-opacity="0.6"/>
<line x1="119.3" y1="127.1" x2="142.4" y2="123.1" stroke="#8a5d33" stroke-width="0.9" stroke-opacity="0.6"/>
<line x1="102.7" y1="123.3" x2="106.6" y2="106.9" stroke="#8a5d33" stroke-width="0.9" stroke-opacity="0.6"/>
<line x1="87.3" y1="119.1" x2="76.0" y2="109.7" stroke="#d9c7b2" stroke-width="0.7" stroke-opacity="0.6"/>
<line x1="84.9" y1="110.9" x2="73.7" y2="94.4" stroke="#946538" stroke-width="1.5" stroke-opacity="0.75"/>
<line x1="98.5" y1="87.0" x2="102.7" y2="68.7" stroke="#b79468" stroke-width="0.7" stroke-opacity="0.45"/>
<line x1="98.7" y1="88.5" x2="102.4" y2="65.0" stroke="#8a5d33" stroke-width="1.5" stroke-opacity="0.45"/>
<line x1="71.8" y1="136.7" x2="58.2" y2="139.6" stroke="#a29ca6" stroke-width="0.7" stroke-opacity="0.6"/>
<line x1="101.2" y1="126.9" x2="104.9" y2="110.5" stroke="#cdb497" stroke-width="0.7" stroke-opacity="0.6"/>
<line x1="95.8" y1="168.1" x2="91.7" y2="186.0" stroke="#9a95a6" stroke-width="1.2" stroke-opacity="0.75"/>
<line x1="87.1" y1="111.7" x2="78.7" y2="103.6" stroke="#b79468" stroke-width="0.7" stroke-opacity="0.75"/>
<line x1="108.0" y1="140.0" x2="118.7" y2="153.0" stroke="#7d5128" stroke-width="0.9" stroke-opacity="0.75"/>
<line x1="92.1" y1="137.9" x2="74.1" y2="152.6" stroke="#946538" stroke-width="1.5" stroke-opacity="0.75"/>
<line x1="102.3" y1="139.2" x2="106.5" y2="150.5" stroke="#8a5d33" stroke-width="0.7" stroke-opacity="0.6"/>
<line x1="124.2" y1="93.7" x2="127.6" y2="84.8" stroke="#a29ca6" stroke-width="1.5" stroke-opacity="0.6"/>
<line x1="137.6" y1="137.0" x2="158.3" y2="140.6" stroke="#a29ca6" stroke-width="0.9" stroke-opacity="0.45"/>
<line x1="120.0" y1="136.3" x2="134.9" y2="140.4" stroke="#8a5d33" stroke-width="1.5" stroke-opacity="0.75"/>
<line x1="138.2" y1="116.0" x2="146.4" y2="112.5" stroke="#a29ca6" stroke-width="0.7" stroke-opacity="0.6"/>
<line x1="101.3" y1="124.3" x2="106.3" y2="105.4" stroke="#a29ca6" stroke-width="0.9" stroke-opacity="0.45"/>
<line x1="103.4" y1="133.2" x2="120.6" y2="145.8" stroke="#8a5d33" stroke-width="0.9" stroke-opacity="0.45"/>
<line x1="82.2" y1="147.5" x2="72.6" y2="154.8" stroke="#7d5128" stroke-width="1.5" stroke-opacity="0.6"/>
<line x1="84.8" y1="150.0" x2="74.0" y2="166.6" stroke="#8a5d33" stroke-width="1.2" stroke-opacity="0.75"/>
<line x1="84.8" y1="153.2" x2="76.3" y2="162.1" stroke="#a29ca6" stroke-width="0.9" stroke-opacity="0.45"/>
<line x1="112.3" y1="142.3" x2="121.9" y2="153.2" stroke="#a29ca6" stroke-width="0.9" stroke-opacity="0.45"/>
<line x1="133.7" y1="105.2" x2="143.1" y2="95.2" stroke="#d9c7b2" stroke-width="1.2" stroke-opacity="0.6"/>
<line x1="94.2" y1="134.7" x2="76.9" y2="147.8" stroke="#9a95a6" stroke-width="0.9" stroke-opacity="0.6"/>
<line x1="97.7" y1="111.8" x2="93.0" y2="99.2" stroke="#7d5128" stroke-width="1.2" stroke-opacity="0.6"/>
<line x1="97.8" y1="147.0" x2="94.5" y2="169.8" stroke="#a29ca6" stroke-width="0.7" stroke-opacity="0.6"/>
<line x1="91.4" y1="113.9" x2="82.9" y2="99.2" stroke="#d9c7b2" stroke-width="0.7" stroke-opacity="0.45"/>
<line x1="95.0" y1="146.7" x2="94.9" y2="157.2" stroke="#b79468" stroke-width="0.7" stroke-opacity="0.75"/>
<line x1="114.2" y1="116.9" x2="125.8" y2="106.0" stroke="#7d5128" stroke-width="1.5" stroke-opacity="0.45"/>
<line x1="66.7" y1="154.1" x2="54.8" y2="165.0" stroke="#9a95a6" stroke-width="1.2" stroke-opacity="0.75"/>
<line x1="63.8" y1="160.2" x2="45.9" y2="172.6" stroke="#946538" stroke-width="1.2" stroke-opacity="0.6"/>
<line x1="142.0" y1="119.2" x2="163.0" y2="113.5" stroke="#7d5128" stroke-width="0.7" stroke-opacity="0.75"/>
<line x1="79.8" y1="133.7" x2="57.5" y2="137.3" stroke="#d9c7b2" stroke-width="0.9" stroke-opacity="0.6"/>
<line x1="124.2" y1="151.2" x2="141.0" y2="165.1" stroke="#a29ca6" stroke-width="0.9" stroke-opacity="0.75"/>
<line x1="75.0" y1="154.3" x2="56.0" y2="168.6" stroke="#9a95a6" stroke-width="1.5" stroke-opacity="0.75"/>
<line x1="127.0" y1="117.8" x2="142.4" y2="109.5" stroke="#b79468" stroke-width="1.5" stroke-opacity="0.45"/>
<line x1="95.5" y1="137.6" x2="81.1" y2="156.6" stroke="#8a5d33" stroke-width="1.5" stroke-opacity="0.45"/>
<line x1="95.0" y1="163.7" x2="95.2" y2="174.5" stroke="#9a95a6" stroke-width="1.5" stroke-opacity="0.75"/>
<line x1="72.2" y1="142.4" x2="49.0" y2="151.6" stroke="#cdb497" stroke-width="0.9" stroke-opacity="0.45"/>
<line x1="68.7" y1="138.6" x2="51.5" y2="143.1" stroke="#d9c7b2" stroke-width="1.2" stroke-opacity="0.75"/>
<line x1="107.6" y1="131.4" x2="119.7" y2="132.9" stroke="#7d5128" stroke-width="0.9" stroke-opacity="0.45"/>
<line x1="101.8" y1="169.1" x2="106.3" y2="191.6" stroke="#8a5d33" stroke-width="1.5" stroke-opacity="0.6"/>
<line x1="134.9" y1="124.1" x2="151.4" y2="121.2" stroke="#d9c7b2" stroke-width="1.2" stroke-opacity="0.75"/>
<line x1="93.4" y1="122.6" x2="76.5" y2="104.5" stroke="#cdb497" stroke-width="0.7" stroke-opacity="0.45"/>
<line x1="136.6" y1="111.9" x2="158.1" y2="102.0" stroke="#8a5d33" stroke-width="0.7" stroke-opacity="0.45"/>
<line x1="79.2" y1="146.9" x2="66.6" y2="159.6" stroke="#b79468" stroke-width="0.9" stroke-opacity="0.75"/>
<line x1="90.5" y1="151.5" x2="82.9" y2="160.7" stroke="#9a95a6" stroke-width="1.5" stroke-opacity="0.6"/>
<line x1="109.6" y1="126.9" x2="125.1" y2="121.3" stroke="#8a5d33" stroke-width="0.9" stroke-opacity="0.45"/>
<line x1="144.3" y1="126.9" x2="165.2" y2="125.1" stroke="#9a95a6" stroke-width="0.9" stroke-opacity="0.75"/>
<line x1="111.3" y1="99.0" x2="114.0" y2="80.4" stroke="#d9c7b2" stroke-width="0.9" stroke-opacity="0.6"/>
<line x1="127.8" y1="146.5" x2="137.3" y2="153.7" stroke="#7d5128" stroke-width="1.5" stroke-opacity="0.75"/>
<line x1="93.0" y1="131.1" x2="70.0" y2="133.3" stroke="#b79468" stroke-width="1.5" stroke-opacity="0.45"/>
<line x1="75.4" y1="112.4" x2="68.1" y2="105.4" stroke="#a29ca6" stroke-width="1.2" stroke-opacity="0.45"/>
</g>
<g filter="url(#tx)">
<rect width="160" height="160" fill="none"/>
<polygon points="-4.7,-4.7 73.1,-4.7 86.0,50.9 88.8,62.0 80.5,77.7 60.1,81.4 49.0,77.7 36.0,73.1 17.5,64.2 -4.7,58.6" fill="#000"/>
<polygon points="73.1,-4.7 137.0,-4.7 143.1,17.5 143.8,36.0 140.1,63.8 132.7,92.5 117.5,82.7 102.7,67.9 91.6,60.1 86.0,50.9" fill="#000"/>
<polygon points="-4.7,61.6 15.7,67.9 36.0,80.9 45.7,95.7 50.3,110.5 50.3,165.7 11.6,165.7 15.7,136.0 10.1,102.7 -4.7,86.0" fill="#000"/>
<polygon points="80.5,110.1 91.6,99.0 102.7,102.7 117.5,113.8 121.6,128.6 117.9,147.1 106.8,159.2 95.3,159.2 84.2,145.7 78.6,128.6" fill="#000"/>
</g>
<g filter="url(#tx2)">
<rect width="160" height="160" fill="none"/>
<polygon points="-4.7,-4.7 73.1,-4.7 86.0,50.9 88.8,62.0 80.5,77.7 60.1,81.4 49.0,77.7 36.0,73.1 17.5,64.2 -4.7,58.6" fill="#000"/>
<polygon points="73.1,-4.7 137.0,-4.7 143.1,17.5 143.8,36.0 140.1,63.8 132.7,92.5 117.5,82.7 102.7,67.9 91.6,60.1 86.0,50.9" fill="#000"/>
<polygon points="-4.7,61.6 15.7,67.9 36.0,80.9 45.7,95.7 50.3,110.5 50.3,165.7 11.6,165.7 15.7,136.0 10.1,102.7 -4.7,86.0" fill="#000"/>
<polygon points="80.5,110.1 91.6,99.0 102.7,102.7 117.5,113.8 121.6,128.6 117.9,147.1 106.8,159.2 95.3,159.2 84.2,145.7 78.6,128.6" fill="#000"/>
</g>
<g filter="url(#ib2)">
<ellipse cx="100.5" cy="131.4" rx="6" ry="7.5" fill="#d2b48f" fill-opacity=".8"/>
<polygon points="89.0,2.7 94.4,4.6 107.3,30.5 119.0,58.3 115.3,61.0 102.7,38.8" fill="#f2ede6"/>
<polygon points="17.5,-2.9 24.0,-2.9 26.8,8.3 21.2,12.0" fill="#e9e2da"/>
<polygon points="43.4,-2.9 49.9,-2.9 54.6,12.9 47.5,12.0" fill="#efe9e0"/>
<polygon points="72.1,-2.9 74.9,-2.9 87.5,51.8 85.3,52.7" fill="#d9c2a5" fill-opacity=".8"/>
<polygon points="-2.9,86.0 10.1,102.7 15.7,136.0 11.6,165.7 -2.9,165.7" fill="#efeae3"/>
<polygon points="16.6,64.2 36.0,72.7 48.6,77.3 52.7,86.0 41.6,83.3 26.8,73.1" fill="#e9e6e6"/>
</g>
<g filter="url(#ib2)" fill="#8e9ac4" fill-opacity=".8">
<ellipse cx="51.9" cy="147.6" rx=".9" ry="2.4" transform="rotate(-18 51.9 147.6)"/>
<ellipse cx="52.2" cy="110.2" rx=".9" ry="2.4" transform="rotate(-28 52.2 110.2)"/>
<ellipse cx="61.2" cy="137.2" rx=".9" ry="2.4" transform="rotate(-37 61.2 137.2)"/>
<ellipse cx="62.2" cy="115.3" rx=".9" ry="2.4" transform="rotate(-36 62.2 115.3)"/>
<ellipse cx="72.3" cy="117.4" rx=".9" ry="2.4" transform="rotate(-12 72.3 117.4)"/>
<ellipse cx="63.4" cy="158.4" rx=".9" ry="2.4" transform="rotate(-33 63.4 158.4)"/>
<ellipse cx="70.0" cy="102.8" rx=".9" ry="2.4" transform="rotate(-40 70.0 102.8)"/>
<ellipse cx="62.1" cy="152.4" rx=".9" ry="2.4" transform="rotate(-30 62.1 152.4)"/>
<ellipse cx="68.5" cy="124.9" rx=".9" ry="2.4" transform="rotate(-31 68.5 124.9)"/>
<ellipse cx="70.1" cy="90.9" rx=".9" ry="2.4" transform="rotate(-28 70.1 90.9)"/>
<ellipse cx="61.5" cy="146.4" rx=".9" ry="2.4" transform="rotate(-13 61.5 146.4)"/>
<ellipse cx="75.8" cy="130.1" rx=".9" ry="2.4" transform="rotate(-10 75.8 130.1)"/>
<ellipse cx="77.2" cy="90.1" rx=".9" ry="2.4" transform="rotate(-35 77.2 90.1)"/>
<ellipse cx="77.4" cy="148.3" rx=".9" ry="2.4" transform="rotate(-5 77.4 148.3)"/>
<ellipse cx="78.3" cy="97.7" rx=".9" ry="2.4" transform="rotate(-20 78.3 97.7)"/>
<ellipse cx="73.2" cy="130.8" rx=".9" ry="2.4" transform="rotate(-35 73.2 130.8)"/>
<ellipse cx="61.0" cy="158.7" rx=".9" ry="2.4" transform="rotate(-27 61.0 158.7)"/>
<ellipse cx="54.2" cy="135.6" rx=".9" ry="2.4" transform="rotate(-31 54.2 135.6)"/>
<ellipse cx="59.3" cy="108.4" rx=".9" ry="2.4" transform="rotate(-19 59.3 108.4)"/>
<ellipse cx="62.7" cy="135.3" rx=".9" ry="2.4" transform="rotate(-8 62.7 135.3)"/>
<ellipse cx="83.3" cy="104.8" rx=".9" ry="2.4" transform="rotate(-11 83.3 104.8)"/>
<ellipse cx="54.9" cy="129.1" rx=".9" ry="2.4" transform="rotate(-37 54.9 129.1)"/>
<ellipse cx="55.2" cy="156.3" rx=".9" ry="2.4" transform="rotate(-36 55.2 156.3)"/>
<ellipse cx="76.3" cy="125.1" rx=".9" ry="2.4" transform="rotate(-40 76.3 125.1)"/>
<ellipse cx="79.0" cy="90.5" rx=".9" ry="2.4" transform="rotate(-9 79.0 90.5)"/>
<ellipse cx="75.8" cy="88.9" rx=".9" ry="2.4" transform="rotate(-22 75.8 88.9)"/>
<ellipse cx="55.8" cy="139.4" rx=".9" ry="2.4" transform="rotate(-15 55.8 139.4)"/>
<ellipse cx="63.1" cy="143.2" rx=".9" ry="2.4" transform="rotate(-20 63.1 143.2)"/>
<ellipse cx="65.9" cy="125.0" rx=".9" ry="2.4" transform="rotate(-30 65.9 125.0)"/>
<ellipse cx="61.6" cy="151.9" rx=".9" ry="2.4" transform="rotate(-28 61.6 151.9)"/>
<ellipse cx="78.2" cy="113.2" rx=".9" ry="2.4" transform="rotate(-33 78.2 113.2)"/>
<ellipse cx="51.8" cy="157.4" rx=".9" ry="2.4" transform="rotate(-14 51.8 157.4)"/>
<ellipse cx="53.9" cy="98.1" rx=".9" ry="2.4" transform="rotate(-38 53.9 98.1)"/>
<ellipse cx="72.8" cy="132.1" rx=".9" ry="2.4" transform="rotate(-7 72.8 132.1)"/>
<ellipse cx="61.9" cy="103.3" rx=".9" ry="2.4" transform="rotate(-32 61.9 103.3)"/>
<ellipse cx="68.7" cy="117.1" rx=".9" ry="2.4" transform="rotate(-27 68.7 117.1)"/>
<ellipse cx="72.7" cy="150.8" rx=".9" ry="2.4" transform="rotate(-38 72.7 150.8)"/>
<ellipse cx="75.8" cy="103.3" rx=".9" ry="2.4" transform="rotate(-16 75.8 103.3)"/>
<ellipse cx="60.2" cy="97.6" rx=".9" ry="2.4" transform="rotate(-6 60.2 97.6)"/>
<ellipse cx="70.3" cy="89.8" rx=".9" ry="2.4" transform="rotate(-27 70.3 89.8)"/>
<ellipse cx="83.0" cy="91.0" rx=".9" ry="2.4" transform="rotate(-30 83.0 91.0)"/>
<ellipse cx="53.2" cy="151.3" rx=".9" ry="2.4" transform="rotate(-28 53.2 151.3)"/>
<ellipse cx="54.6" cy="112.4" rx=".9" ry="2.4" transform="rotate(-33 54.6 112.4)"/>
<ellipse cx="66.6" cy="131.7" rx=".9" ry="2.4" transform="rotate(-17 66.6 131.7)"/>
<ellipse cx="55.1" cy="125.6" rx=".9" ry="2.4" transform="rotate(-38 55.1 125.6)"/>
<ellipse cx="66.9" cy="145.9" rx=".9" ry="2.4" transform="rotate(-31 66.9 145.9)"/>
<ellipse cx="80.0" cy="104.1" rx=".9" ry="2.4" transform="rotate(-26 80.0 104.1)"/>
<ellipse cx="70.8" cy="125.8" rx=".9" ry="2.4" transform="rotate(-15 70.8 125.8)"/>
<ellipse cx="59.4" cy="100.8" rx=".9" ry="2.4" transform="rotate(-23 59.4 100.8)"/>
<ellipse cx="61.4" cy="127.0" rx=".9" ry="2.4" transform="rotate(-37 61.4 127.0)"/>
<ellipse cx="75.6" cy="116.9" rx=".9" ry="2.4" transform="rotate(-38 75.6 116.9)"/>
<ellipse cx="154.8" cy="142.3" rx=".9" ry="2.7" transform="rotate(15 154.8 142.3)"/>
<ellipse cx="160.4" cy="35.6" rx=".9" ry="2.7" transform="rotate(23 160.4 35.6)"/>
<ellipse cx="158.6" cy="41.4" rx=".9" ry="2.7" transform="rotate(5 158.6 41.4)"/>
<ellipse cx="152.9" cy="101.0" rx=".9" ry="2.7" transform="rotate(17 152.9 101.0)"/>
<ellipse cx="144.1" cy="106.6" rx=".9" ry="2.7" transform="rotate(25 144.1 106.6)"/>
<ellipse cx="153.8" cy="30.7" rx=".9" ry="2.7" transform="rotate(13 153.8 30.7)"/>
<ellipse cx="147.8" cy="131.4" rx=".9" ry="2.7" transform="rotate(17 147.8 131.4)"/>
<ellipse cx="157.4" cy="135.3" rx=".9" ry="2.7" transform="rotate(26 157.4 135.3)"/>
<ellipse cx="152.9" cy="42.5" rx=".9" ry="2.7" transform="rotate(14 152.9 42.5)"/>
<ellipse cx="139.1" cy="158.1" rx=".9" ry="2.7" transform="rotate(12 139.1 158.1)"/>
<ellipse cx="137.3" cy="140.1" rx=".9" ry="2.7" transform="rotate(29 137.3 140.1)"/>
<ellipse cx="150.9" cy="142.5" rx=".9" ry="2.7" transform="rotate(28 150.9 142.5)"/>
<ellipse cx="130.7" cy="102.6" rx=".9" ry="2.7" transform="rotate(7 130.7 102.6)"/>
<ellipse cx="147.6" cy="153.0" rx=".9" ry="2.7" transform="rotate(18 147.6 153.0)"/>
<ellipse cx="153.4" cy="121.0" rx=".9" ry="2.7" transform="rotate(26 153.4 121.0)"/>
<ellipse cx="138.4" cy="76.3" rx=".9" ry="2.7" transform="rotate(6 138.4 76.3)"/>
<ellipse cx="152.2" cy="95.6" rx=".9" ry="2.7" transform="rotate(15 152.2 95.6)"/>
<ellipse cx="144.8" cy="140.1" rx=".9" ry="2.7" transform="rotate(19 144.8 140.1)"/>
<ellipse cx="154.4" cy="97.8" rx=".9" ry="2.7" transform="rotate(21 154.4 97.8)"/>
<ellipse cx="145.7" cy="17.3" rx=".9" ry="2.7" transform="rotate(10 145.7 17.3)"/>
<ellipse cx="137.3" cy="136.7" rx=".9" ry="2.7" transform="rotate(29 137.3 136.7)"/>
<ellipse cx="144.0" cy="49.0" rx=".9" ry="2.7" transform="rotate(6 144.0 49.0)"/>
<ellipse cx="142.7" cy="71.5" rx=".9" ry="2.7" transform="rotate(28 142.7 71.5)"/>
<ellipse cx="153.0" cy="140.8" rx=".9" ry="2.7" transform="rotate(9 153.0 140.8)"/>
<ellipse cx="157.4" cy="122.2" rx=".9" ry="2.7" transform="rotate(12 157.4 122.2)"/>
<ellipse cx="144.6" cy="53.5" rx=".9" ry="2.7" transform="rotate(24 144.6 53.5)"/>
<ellipse cx="130.1" cy="140.5" rx=".9" ry="2.7" transform="rotate(22 130.1 140.5)"/>
<ellipse cx="156.5" cy="62.0" rx=".9" ry="2.7" transform="rotate(29 156.5 62.0)"/>
<ellipse cx="143.6" cy="48.7" rx=".9" ry="2.7" transform="rotate(21 143.6 48.7)"/>
<ellipse cx="151.7" cy="31.4" rx=".9" ry="2.7" transform="rotate(24 151.7 31.4)"/>
<ellipse cx="158.2" cy="134.4" rx=".9" ry="2.7" transform="rotate(26 158.2 134.4)"/>
<ellipse cx="160.2" cy="100.7" rx=".9" ry="2.7" transform="rotate(28 160.2 100.7)"/>
<ellipse cx="145.3" cy="97.4" rx=".9" ry="2.7" transform="rotate(13 145.3 97.4)"/>
<ellipse cx="135.2" cy="95.6" rx=".9" ry="2.7" transform="rotate(11 135.2 95.6)"/>
<ellipse cx="146.1" cy="139.7" rx=".9" ry="2.7" transform="rotate(23 146.1 139.7)"/>
<ellipse cx="154.6" cy="92.2" rx=".9" ry="2.7" transform="rotate(18 154.6 92.2)"/>
<ellipse cx="144.6" cy="93.1" rx=".9" ry="2.7" transform="rotate(22 144.6 93.1)"/>
<ellipse cx="142.6" cy="93.0" rx=".9" ry="2.7" transform="rotate(11 142.6 93.0)"/>
<ellipse cx="156.3" cy="152.1" rx=".9" ry="2.7" transform="rotate(12 156.3 152.1)"/>
<ellipse cx="143.3" cy="87.9" rx=".9" ry="2.7" transform="rotate(16 143.3 87.9)"/>
<ellipse cx="146.1" cy="100.1" rx=".9" ry="2.7" transform="rotate(21 146.1 100.1)"/>
<ellipse cx="139.4" cy="102.0" rx=".9" ry="2.7" transform="rotate(12 139.4 102.0)"/>
<ellipse cx="138.7" cy="113.4" rx=".9" ry="2.7" transform="rotate(10 138.7 113.4)"/>
<ellipse cx="149.9" cy="97.9" rx=".9" ry="2.7" transform="rotate(29 149.9 97.9)"/>
<ellipse cx="145.0" cy="92.4" rx=".9" ry="2.7" transform="rotate(24 145.0 92.4)"/>
<ellipse cx="137.4" cy="120.3" rx=".9" ry="2.7" transform="rotate(23 137.4 120.3)"/>
<ellipse cx="127.1" cy="153.2" rx=".9" ry="2.7" transform="rotate(30 127.1 153.2)"/>
<ellipse cx="140.0" cy="159.4" rx=".9" ry="2.7" transform="rotate(21 140.0 159.4)"/>
<ellipse cx="149.3" cy="102.5" rx=".9" ry="2.7" transform="rotate(25 149.3 102.5)"/>
<ellipse cx="137.5" cy="121.4" rx=".9" ry="2.7" transform="rotate(20 137.5 121.4)"/>
<ellipse cx="145.8" cy="92.4" rx=".9" ry="2.7" transform="rotate(22 145.8 92.4)"/>
<ellipse cx="147.5" cy="115.7" rx=".9" ry="2.7" transform="rotate(16 147.5 115.7)"/>
<ellipse cx="159.8" cy="82.3" rx=".9" ry="2.7" transform="rotate(9 159.8 82.3)"/>
<ellipse cx="140.7" cy="63.8" rx=".9" ry="2.7" transform="rotate(9 140.7 63.8)"/>
<ellipse cx="156.4" cy="36.7" rx=".9" ry="2.7" transform="rotate(23 156.4 36.7)"/>
<ellipse cx="160.9" cy="23.4" rx=".9" ry="2.7" transform="rotate(26 160.9 23.4)"/>
<ellipse cx="157.2" cy="77.4" rx=".9" ry="2.7" transform="rotate(21 157.2 77.4)"/>
<ellipse cx="155.6" cy="27.2" rx=".9" ry="2.7" transform="rotate(18 155.6 27.2)"/>
<ellipse cx="139.0" cy="93.0" rx=".9" ry="2.7" transform="rotate(25 139.0 93.0)"/>
<ellipse cx="144.3" cy="58.6" rx=".9" ry="2.7" transform="rotate(29 144.3 58.6)"/>
<ellipse cx="144.3" cy="50.8" rx=".9" ry="2.7" transform="rotate(19 144.3 50.8)"/>
<ellipse cx="155.5" cy="17.1" rx=".9" ry="2.7" transform="rotate(21 155.5 17.1)"/>
<ellipse cx="144.4" cy="50.7" rx=".9" ry="2.7" transform="rotate(21 144.4 50.7)"/>
<ellipse cx="139.1" cy="129.5" rx=".9" ry="2.7" transform="rotate(25 139.1 129.5)"/>
<ellipse cx="129.3" cy="156.6" rx=".9" ry="2.7" transform="rotate(19 129.3 156.6)"/>
<ellipse cx="149.1" cy="75.6" rx=".9" ry="2.7" transform="rotate(22 149.1 75.6)"/>
<ellipse cx="130.0" cy="139.1" rx=".9" ry="2.7" transform="rotate(12 130.0 139.1)"/>
<ellipse cx="50.0" cy="75.6" rx=".8" ry="1.8" transform="rotate(-54 50.0 75.6)"/>
<ellipse cx="39.7" cy="77.2" rx=".8" ry="1.8" transform="rotate(-48 39.7 77.2)"/>
<ellipse cx="39.1" cy="85.1" rx=".8" ry="1.8" transform="rotate(-40 39.1 85.1)"/>
<ellipse cx="22.6" cy="85.8" rx=".8" ry="1.8" transform="rotate(-69 22.6 85.8)"/>
<ellipse cx="21.2" cy="82.7" rx=".8" ry="1.8" transform="rotate(-59 21.2 82.7)"/>
<ellipse cx="20.4" cy="70.8" rx=".8" ry="1.8" transform="rotate(-50 20.4 70.8)"/>
<ellipse cx="49.1" cy="67.9" rx=".8" ry="1.8" transform="rotate(-63 49.1 67.9)"/>
<ellipse cx="19.8" cy="68.5" rx=".8" ry="1.8" transform="rotate(-57 19.8 68.5)"/>
<ellipse cx="36.6" cy="85.5" rx=".8" ry="1.8" transform="rotate(-44 36.6 85.5)"/>
<ellipse cx="49.4" cy="78.5" rx=".8" ry="1.8" transform="rotate(-34 49.4 78.5)"/>
<ellipse cx="43.1" cy="72.0" rx=".8" ry="1.8" transform="rotate(-55 43.1 72.0)"/>
<ellipse cx="36.2" cy="69.6" rx=".8" ry="1.8" transform="rotate(-33 36.2 69.6)"/>
<ellipse cx="36.4" cy="71.2" rx=".8" ry="1.8" transform="rotate(-50 36.4 71.2)"/>
<ellipse cx="47.7" cy="72.6" rx=".8" ry="1.8" transform="rotate(-46 47.7 72.6)"/>
<ellipse cx="22.6" cy="72.0" rx=".8" ry="1.8" transform="rotate(-63 22.6 72.0)"/>
<ellipse cx="37.2" cy="80.3" rx=".8" ry="1.8" transform="rotate(-61 37.2 80.3)"/>
<ellipse cx="43.6" cy="78.4" rx=".8" ry="1.8" transform="rotate(-40 43.6 78.4)"/>
<ellipse cx="54.4" cy="73.7" rx=".8" ry="1.8" transform="rotate(-30 54.4 73.7)"/>
</g>
<polyline points="-0.1,42.5 1.5,43.2 3.0,44.4 4.6,45.3 5.3,45.1 6.1,45.9 6.9,50.0 7.7,48.7 8.5,49.7 9.3,51.2 10.1,54.6 10.6,56.3 11.0,56.2 11.5,58.1 12.0,62.1 12.4,62.2 12.9,62.3 13.4,66.4 13.8,69.5 14.3,69.3 14.7,70.3 16.3,70.6 17.8,71.7 19.4,72.1 20.5,74.4 21.6,76.4 22.7,77.4 23.8,76.1 24.9,78.6 26.8,80.6 28.6,78.0 30.5,80.5 31.2,80.0 32.0,83.1 32.7,82.9 33.4,86.0 34.2,87.0 35.3,85.0 36.5,87.2 37.7,83.9 38.8,83.3 39.4,83.1 40.0,82.0 40.7,77.9 41.3,77.8 41.9,74.7 42.5,73.1 43.3,71.1 44.1,68.4 44.9,69.5 45.7,69.3 46.5,66.7 47.3,63.5 48.1,62.9 48.7,61.3 49.3,58.8 49.9,57.3 50.5,57.4 51.2,52.0 51.8,52.7 52.7,53.7 53.6,55.0 54.6,54.3 55.5,58.3 56.4,58.3 57.3,58.2 58.3,60.1 59.2,60.5 60.1,62.9 60.9,62.1 61.6,60.0 62.3,59.9 63.1,57.3 63.8,56.4 65.2,56.8 66.5,54.8 67.9,53.6 68.6,53.0 69.4,56.2 70.1,56.3 70.9,57.8 71.6,60.1 72.8,63.5 74.1,62.5 75.3,63.8 76.0,63.3 76.8,58.8 77.5,59.4 78.3,55.3 79.0,55.5 79.9,55.5 80.9,56.5 81.8,57.4 82.7,61.0 84.4,63.5 86.0,62.0 86.5,62.3 87.0,57.6 87.4,54.1 87.9,54.6 88.4,57.2 89.0,58.4 89.6,57.0 90.1,62.0 90.7,60.2 91.2,63.8 93.3,61.6 95.3,62.0 97.0,63.9 98.8,64.5 100.5,63.8 103.0,62.1 105.5,62.9 106.6,64.1 107.8,66.7 109.0,66.9 110.1,67.5 111.4,66.7 112.7,64.1 114.0,62.7 115.3,63.8 116.3,60.9 117.3,61.2 118.4,60.1 119.4,58.3 120.5,57.0 121.6,56.7 122.7,55.2 123.8,54.5 124.9,52.7 125.9,53.4 126.8,56.7 127.7,56.3 128.6,57.3 129.9,58.2 131.1,57.8 132.3,54.6 133.3,54.8 134.2,53.3 135.1,51.6 136.0,49.6 137.0,48.1 137.5,45.1 138.0,42.7 138.6,43.7 139.1,40.0 139.6,40.0 140.1,38.0 140.7,36.0 141.0,34.9 141.4,32.4 141.8,29.8 142.1,28.4 142.5,28.7 142.9,27.9 143.3,23.5 143.6,21.8 144.0,20.8 144.4,19.4 145.3,17.5 146.2,16.9 147.1,14.7 149.0,15.3 150.9,13.4 151.5,16.2 152.2,17.9 152.9,19.0 153.6,19.4 154.6,23.1 155.5,22.1 156.4,23.6 157.3,26.0 158.3,26.8 159.5,27.1 160.7,30.8 162.0,30.5" fill="none" stroke="#ff2b2b" stroke-width="1.6" stroke-linejoin="round"/>
<polyline points="-0.1,62.9 1.1,63.4 2.2,65.0 3.4,65.8 4.6,66.6 5.1,67.4 5.7,67.2 6.3,70.0 6.9,72.5 7.4,76.3 8.0,73.9 8.6,79.1 9.2,78.6 9.6,82.8 9.9,83.7 10.3,83.1 10.7,83.7 11.0,89.7 11.4,87.7 11.8,90.6 12.1,95.6 12.5,96.1 12.9,97.1 13.5,100.4 14.1,102.1 14.7,100.7 15.4,104.0 16.0,103.7 16.6,107.3 18.1,107.7 19.7,109.2 21.2,110.1 22.3,112.7 23.4,111.3 24.6,114.2 25.7,112.8 26.8,115.7 27.4,112.8 28.0,110.1 28.6,111.0 29.2,109.3 29.9,108.2 30.5,105.5 31.0,106.8 31.5,111.0 32.1,111.7 32.6,112.7 33.1,115.9 33.7,114.3 34.2,117.5 34.8,114.9 35.3,114.5 35.9,113.1 36.5,113.2 37.1,110.3 37.7,105.6 38.2,108.3 38.8,104.6 39.6,102.9 40.4,100.1 41.1,101.2 41.9,99.0 42.7,98.5 43.4,95.3 44.1,94.0 44.8,91.0 45.5,90.5 46.2,89.0 46.8,86.9 47.5,86.0 47.9,84.8 48.4,81.0 48.8,79.8 49.2,77.5 49.6,75.4 50.1,76.2 50.5,75.5 50.9,72.2 51.4,73.0 51.8,69.4 52.7,71.0 53.6,72.4 54.6,71.7 55.5,75.7 56.4,74.9 57.3,75.6 58.3,79.4 59.2,77.9 60.1,80.5 61.1,81.3 62.1,78.6 63.2,74.8 64.2,74.9 65.1,74.9 66.0,71.0 67.0,70.9 67.9,70.3 68.7,71.0 69.6,72.1 70.4,73.5 71.3,73.8 72.1,76.8 74.0,76.8 75.9,77.7 76.6,74.1 77.4,75.9 78.2,72.1 79.0,71.2 79.5,73.8 80.1,74.0 80.6,78.3 81.1,79.4 81.6,80.1 82.2,82.4 82.7,82.3 84.4,84.8 86.0,83.3 86.3,83.5 86.6,79.1 86.8,78.2 87.1,73.8 87.4,73.3 87.6,71.3 87.9,70.3 88.3,72.7 88.7,71.6 89.1,77.1 89.6,75.7 90.0,79.2 90.4,81.3 90.8,84.9 91.2,85.1 92.6,86.7 93.9,85.3 95.3,87.9 96.5,87.8 97.8,84.8 99.0,85.1 99.9,86.8 100.9,87.0 101.8,90.8 102.7,89.7 104.6,89.0 106.4,88.8 107.4,89.0 108.5,90.5 109.5,94.9 110.6,93.3 111.6,95.3 112.3,92.5 113.0,92.3 113.7,91.4 114.4,91.1 115.2,85.3 115.9,85.0 116.6,84.2 117.4,84.0 118.3,81.7 119.1,81.4 119.9,80.1 120.8,76.0 121.6,76.8 123.0,74.0 124.4,74.0 125.9,74.9 127.0,74.9 128.2,75.2 129.3,76.7 130.5,78.6 131.3,75.2 132.0,73.3 132.8,74.1 133.6,73.7 134.3,69.3 135.1,69.4 135.6,65.8 136.0,67.3 136.5,62.6 136.9,61.3 137.4,61.4 137.8,58.9 138.3,58.3 138.5,57.8 138.8,54.6 139.1,52.8 139.4,50.2 139.6,46.7 139.9,48.7 140.2,44.8 140.5,45.0 140.8,39.7 141.0,39.4 141.3,38.1 141.6,36.0 141.9,32.5 142.2,30.3 142.5,32.6 142.8,30.7 143.1,29.2 143.4,25.1 143.8,24.2 144.1,21.7 144.4,19.4 145.1,17.6 145.8,14.5 146.5,15.2 147.1,12.9 149.0,12.2 150.9,12.0 151.7,14.2 152.5,12.5 153.4,15.1 154.2,17.5 155.0,17.0 155.8,21.4 156.6,21.3 157.4,21.7 158.3,24.0 159.5,26.3 160.7,26.0 162.0,26.8" fill="none" stroke="#269226" stroke-width="1.6" stroke-linejoin="round"/>
<polyline points="-0.1,82.3 1.8,82.3 3.6,84.2 4.2,85.3 4.8,85.0 5.4,86.9 5.9,88.4 6.5,94.5 7.1,95.7 7.7,95.7 8.3,97.1 8.8,100.9 9.3,100.6 9.8,102.9 10.3,101.7 10.8,104.9 11.3,107.4 11.8,108.1 12.3,110.1 12.5,112.8 12.7,113.3 12.8,116.8 13.0,116.6 13.1,119.9 13.3,121.6 13.5,124.1 13.6,123.8 13.8,126.6 13.9,130.9 14.1,130.2 14.3,133.7 14.4,138.2 14.6,138.3 14.7,139.7 15.7,142.4 16.6,144.1 17.5,144.4 18.6,145.2 19.7,141.6 20.5,142.9 21.3,144.8 22.1,147.1 23.5,147.4 24.9,145.3 25.7,144.6 26.4,148.2 27.1,149.9 28.4,147.4 29.6,147.1 29.8,145.4 30.1,144.3 30.3,142.9 30.6,139.2 30.9,138.2 31.1,133.2 31.4,133.3 32.0,135.9 32.5,139.0 33.1,139.4 33.6,140.6 34.2,142.5 34.6,140.9 35.0,138.7 35.4,135.8 35.8,134.2 36.2,135.3 36.6,132.3 37.0,130.5 37.9,126.9 38.8,128.3 39.7,127.9 40.7,124.9 41.4,124.0 42.1,120.1 42.9,122.1 43.6,116.7 44.4,116.6 45.1,115.3 45.9,113.8 46.6,111.1 47.3,110.3 48.1,110.1 48.3,106.7 48.5,104.8 48.7,102.3 49.0,103.4 49.2,101.7 49.4,97.8 49.6,99.3 49.9,94.9 50.1,93.2 50.3,91.6 50.7,92.0 51.0,89.0 51.4,86.4 51.8,86.1 52.1,83.3 52.8,86.0 53.4,85.5 54.0,85.9 54.6,90.7 55.2,92.4 55.8,93.3 56.4,94.4 57.6,91.4 58.7,93.2 59.9,89.3 61.0,89.7 62.3,89.9 63.5,87.9 64.7,86.0 66.3,85.8 67.9,84.2 69.1,83.4 70.4,86.0 71.6,87.9 72.8,88.1 74.1,84.2 75.3,85.1 76.5,81.7 77.8,82.2 79.0,81.4 79.3,85.0 79.5,85.9 79.8,85.9 80.1,87.1 80.3,92.7 80.6,94.7 80.9,95.9 81.2,95.5 81.4,100.0 81.7,98.4 82.0,102.7 83.3,100.2 84.7,100.0 86.0,99.9 86.3,100.3 86.5,94.0 86.7,92.7 87.0,93.6 87.2,91.9 87.4,87.7 87.7,84.9 87.9,85.1 88.2,88.8 88.4,91.3 88.7,92.9 89.0,93.2 89.3,92.8 89.6,97.9 89.8,99.4 90.1,102.3 90.4,103.9 90.7,104.6 91.1,106.2 91.6,110.1 92.1,109.2 92.5,110.8 93.0,113.3 93.4,115.7 93.9,116.3 94.4,117.5 95.0,118.1 95.6,113.3 96.2,114.8 96.8,113.2 97.5,109.1 98.1,108.3 98.7,107.7 99.3,112.1 99.9,113.9 100.5,117.3 101.2,117.0 101.8,118.4 102.8,118.0 103.9,116.6 104.9,113.8 106.0,113.5 107.1,117.1 108.3,117.5 108.9,118.6 109.6,118.9 110.3,120.6 111.0,122.4 111.7,125.6 112.3,125.9 112.7,124.4 113.2,121.5 113.6,118.5 114.0,120.3 114.4,118.4 114.8,117.1 115.2,115.1 115.7,112.0 116.2,108.3 116.8,107.8 117.3,107.1 117.9,104.7 118.4,105.7 119.0,101.1 119.6,98.6 120.1,99.1 120.7,95.6 121.2,96.2 123.1,93.5 124.9,95.3 126.2,97.0 127.4,98.3 128.6,99.0 129.6,97.7 130.5,93.8 131.4,94.4 131.9,92.9 132.3,91.0 132.8,88.2 133.3,86.0 133.7,83.9 134.2,83.7 134.6,81.4 135.1,80.7 135.6,79.4 136.0,76.8 136.4,73.8 136.7,73.6 137.0,70.1 137.4,70.6 137.7,66.1 138.1,66.1 138.4,65.0 138.7,63.4 139.1,60.3 139.4,60.2 139.7,56.4 140.0,56.9 140.2,54.1 140.5,50.2 140.7,47.9 140.9,47.8 141.2,43.5 141.4,41.9 141.6,39.6 141.9,40.5 142.1,37.3 142.4,38.1 142.6,35.7 142.8,32.5 143.1,30.5 143.4,27.9 143.7,25.9 143.9,22.8 144.2,21.2 144.5,23.0 144.8,18.4 145.1,15.2 145.4,18.0 145.7,13.8 146.7,12.1 147.8,12.8 148.9,10.1 149.9,9.2 151.0,13.0 152.0,10.3 153.1,13.8 154.2,14.9 155.3,17.0 156.4,17.5 158.3,15.5 160.1,20.1 162.0,18.4" fill="none" stroke="#2b30f2" stroke-width="1.6" stroke-linejoin="round"/>
<path d="M23.6,14.7H74.0V41.0H23.6V30.3L21.0,28.1L23.6,25.900000000000002Z" fill="#0b0b0b" stroke="#b9b2a8" stroke-width=".5"/>
<text x="25.3" y="21.6" font-size="5.6" fill="#c9c9c9" font-family="Liberation Sans">x: 64</text>
<text x="25.3" y="29.6" font-size="5.6" fill="#c9c9c9" font-family="Liberation Sans">y: 87</text>
<text x="25.3" y="37.5" font-size="5.6" fill="#c9c9c9" font-family="Liberation Sans">z: [145, 121, 106]</text>
</svg></div>
<div class="t" style="left:569px;top:660px" ><svg viewBox="0 0 160 160">
<polygon points="55.5,-1.8 122.1,-1.8 161.8,59.9 161.8,137.6 -4.8,137.6 -4.8,101.0" fill="#e5ebf6"/>
<g stroke="#fff" stroke-width="1" stroke-opacity=".9">
<line x1="0" y1="20.4" x2="160" y2="20.4"/>
<line x1="0" y1="59.9" x2="160" y2="59.9"/>
<line x1="0" y1="99.0" x2="160" y2="99.0"/>
<line x1="-23.7" y1="137.6" x2="56.6" y2="-1.8"/>
<line x1="-23.7" y1="137.6" x2="-104.0" y2="-1.8"/>
<line x1="21.5" y1="137.6" x2="101.8" y2="-1.8"/>
<line x1="21.5" y1="137.6" x2="-58.7" y2="-1.8"/>
<line x1="66.8" y1="137.6" x2="147.1" y2="-1.8"/>
<line x1="66.8" y1="137.6" x2="-13.5" y2="-1.8"/>
<line x1="112.0" y1="137.6" x2="192.3" y2="-1.8"/>
<line x1="112.0" y1="137.6" x2="31.7" y2="-1.8"/>
<line x1="157.3" y1="137.6" x2="237.6" y2="-1.8"/>
<line x1="157.3" y1="137.6" x2="77.0" y2="-1.8"/>
<line x1="202.5" y1="137.6" x2="282.8" y2="-1.8"/>
<line x1="202.5" y1="137.6" x2="122.2" y2="-1.8"/>
</g>
<circle cx="12.1" cy="112.4" r="3.5" fill="#ff2d2d" fill-opacity=".82"/>
<circle cx="20.3" cy="107.2" r="3.5" fill="#ff2d2d" fill-opacity=".82"/>
<circle cx="24.0" cy="99.0" r="3.5" fill="#ff2d2d" fill-opacity=".82"/>
<circle cx="32.2" cy="93.4" r="3.1" fill="#ff2d2d" fill-opacity=".82"/>
<circle cx="37.0" cy="96.9" r="2.9" fill="#ff2d2d" fill-opacity=".82"/>
<circle cx="35.3" cy="88.1" r="2.9" fill="#ff2d2d" fill-opacity=".82"/>
<circle cx="45.6" cy="84.6" r="2.1" fill="#ff2d2d" fill-opacity=".82"/>
<circle cx="48.3" cy="83.6" r="2.5" fill="#ff2d2d" fill-opacity=".82"/>
<circle cx="48.7" cy="76.0" r="3.5" fill="#ff2d2d" fill-opacity=".82"/>
<circle cx="53.2" cy="72.3" r="3.5" fill="#ff2d2d" fill-opacity=".82"/>
<circle cx="54.9" cy="79.0" r="3.1" fill="#ff2d2d" fill-opacity=".82"/>
<circle cx="56.9" cy="81.5" r="2.9" fill="#ff2d2d" fill-opacity=".82"/>
<circle cx="60.0" cy="71.8" r="2.3" fill="#ff2d2d" fill-opacity=".82"/>
<circle cx="53.2" cy="56.8" r="3.7" fill="#ff2d2d" fill-opacity=".82"/>
<circle cx="58.6" cy="61.6" r="3.3" fill="#ff2d2d" fill-opacity=".82"/>
<circle cx="56.9" cy="64.0" r="3.1" fill="#ff2d2d" fill-opacity=".82"/>
<circle cx="68.2" cy="62.4" r="1.9" fill="#ff2d2d" fill-opacity=".82"/>
<circle cx="69.9" cy="80.9" r="3.3" fill="#ff2d2d" fill-opacity=".82"/>
<circle cx="75.8" cy="89.1" r="2.7" fill="#ff2d2d" fill-opacity=".82"/>
<circle cx="69.3" cy="98.0" r="1.6" fill="#ff2d2d" fill-opacity=".82"/>
<circle cx="76.5" cy="68.1" r="3.5" fill="#ff2d2d" fill-opacity=".82"/>
<circle cx="79.9" cy="67.7" r="3.1" fill="#ff2d2d" fill-opacity=".82"/>
<circle cx="81.2" cy="70.6" r="2.7" fill="#ff2d2d" fill-opacity=".82"/>
<circle cx="78.5" cy="78.0" r="3.1" fill="#ff2d2d" fill-opacity=".82"/>
<circle cx="81.6" cy="80.5" r="2.7" fill="#ff2d2d" fill-opacity=".82"/>
<circle cx="82.0" cy="86.2" r="3.1" fill="#ff2d2d" fill-opacity=".82"/>
<circle cx="85.7" cy="85.0" r="2.9" fill="#ff2d2d" fill-opacity=".82"/>
<circle cx="60.0" cy="56.8" r="1.0" fill="#ff2d2d" fill-opacity=".82"/>
<circle cx="66.6" cy="27.0" r="1.4" fill="#8b3dfd" fill-opacity=".82"/>
<circle cx="66.4" cy="34.2" r="1.4" fill="#8b3dfd" fill-opacity=".82"/>
<circle cx="65.6" cy="43.5" r="1.2" fill="#8b3dfd" fill-opacity=".82"/>
<circle cx="69.5" cy="47.4" r="2.3" fill="#8b3dfd" fill-opacity=".82"/>
<circle cx="64.5" cy="55.8" r="2.9" fill="#8b3dfd" fill-opacity=".82"/>
<circle cx="77.5" cy="53.3" r="2.9" fill="#8b3dfd" fill-opacity=".82"/>
<circle cx="78.7" cy="57.0" r="2.9" fill="#8b3dfd" fill-opacity=".82"/>
<circle cx="77.1" cy="62.0" r="1.9" fill="#8b3dfd" fill-opacity=".82"/>
<circle cx="85.7" cy="53.5" r="2.3" fill="#8b3dfd" fill-opacity=".82"/>
<circle cx="101.5" cy="55.0" r="3.1" fill="#8b3dfd" fill-opacity=".82"/>
<circle cx="99.9" cy="63.0" r="3.5" fill="#8b3dfd" fill-opacity=".82"/>
<circle cx="87.8" cy="69.2" r="2.3" fill="#8b3dfd" fill-opacity=".82"/>
<circle cx="91.9" cy="67.1" r="2.7" fill="#8b3dfd" fill-opacity=".82"/>
<circle cx="93.9" cy="68.1" r="2.1" fill="#8b3dfd" fill-opacity=".82"/>
<circle cx="94.3" cy="70.6" r="3.5" fill="#239a23" fill-opacity=".82"/>
<circle cx="93.9" cy="77.8" r="2.9" fill="#239a23" fill-opacity=".82"/>
<circle cx="95.6" cy="78.4" r="2.1" fill="#239a23" fill-opacity=".82"/>
<circle cx="90.8" cy="76.0" r="1.0" fill="#239a23" fill-opacity=".82"/>
<circle cx="102.6" cy="80.7" r="1.2" fill="#239a23" fill-opacity=".82"/>
<circle cx="105.4" cy="79.0" r="1.2" fill="#239a23" fill-opacity=".82"/>
<circle cx="112.4" cy="79.7" r="3.7" fill="#239a23" fill-opacity=".82"/>
<circle cx="114.5" cy="68.8" r="2.9" fill="#239a23" fill-opacity=".82"/>
<circle cx="119.2" cy="71.6" r="3.3" fill="#239a23" fill-opacity=".82"/>
<circle cx="121.5" cy="76.4" r="2.9" fill="#239a23" fill-opacity=".82"/>
<circle cx="126.8" cy="82.9" r="3.3" fill="#239a23" fill-opacity=".82"/>
<circle cx="132.6" cy="81.9" r="3.3" fill="#239a23" fill-opacity=".82"/>
<circle cx="124.4" cy="87.7" r="4.1" fill="#239a23" fill-opacity=".82"/>
<circle cx="126.8" cy="87.1" r="2.9" fill="#239a23" fill-opacity=".82"/>
<circle cx="135.5" cy="88.1" r="3.9" fill="#239a23" fill-opacity=".82"/>
<text x="39.4" y="22.1" font-size="5.8" fill="#6a6f7a" text-anchor="middle" font-family="Liberation Sans">0.6</text>
<text x="138.6" y="22.1" font-size="5.8" fill="#6a6f7a" text-anchor="middle" font-family="Liberation Sans">0.4</text>
<text x="16.8" y="61.2" font-size="5.8" fill="#6a6f7a" text-anchor="middle" font-family="Liberation Sans">0.4</text>
<text x="160.8" y="61.2" font-size="5.8" fill="#6a6f7a" text-anchor="middle" font-family="Liberation Sans">0.</text>
<text x="20.9" y="145.29999999999998" font-size="5.8" fill="#6a6f7a" text-anchor="middle" font-family="Liberation Sans">0.8</text>
<text x="66.2" y="145.29999999999998" font-size="5.8" fill="#6a6f7a" text-anchor="middle" font-family="Liberation Sans">0.6</text>
<text x="111.4" y="145.29999999999998" font-size="5.8" fill="#6a6f7a" text-anchor="middle" font-family="Liberation Sans">0.4</text>
<text x="156.6" y="145.29999999999998" font-size="5.8" fill="#6a6f7a" text-anchor="middle" font-family="Liberation Sans">0.2</text>
</svg></div>
<div class="t" style="left:751px;top:660px" ><svg viewBox="0 0 160 160">
<rect x="94.9" y="0" width="1" height="160" fill="#eeeeee"/>
<rect x="134.1" y="0" width="1" height="160" fill="#eeeeee"/>
<rect x="54.9" y="7.0" width="120" height="1" fill="#eeeeee"/>
<rect x="54.9" y="37.8" width="120" height="1" fill="#eeeeee"/>
<rect x="54.9" y="68.7" width="120" height="1" fill="#eeeeee"/>
<rect x="54.9" y="109.4" width="120" height="1" fill="#eeeeee"/>
<rect x="54.9" y="141.1" width="120" height="1" fill="#eeeeee"/>
<rect x="54.199999999999996" y="0" width="1.4" height="160" fill="#444"/>
<rect x="54.9" y="7.0" width="4.6" height="1" fill="#444"/>
<rect x="54.9" y="37.8" width="4.6" height="1" fill="#444"/>
<rect x="54.9" y="68.7" width="4.6" height="1" fill="#444"/>
<rect x="54.9" y="109.4" width="4.6" height="1" fill="#444"/>
<rect x="54.9" y="141.1" width="4.6" height="1" fill="#444"/>
<text x="52.699999999999996" y="11.1" font-size="8.2" fill="#444" text-anchor="end" font-family="Liberation Sans">2</text>
<text x="52.699999999999996" y="43.9" font-size="10.8" fill="#444" text-anchor="end" font-family="Liberation Sans">0.1</text>
<text x="52.699999999999996" y="73.6" font-size="8.2" fill="#444" text-anchor="end" font-family="Liberation Sans">5</text>
<text x="52.699999999999996" y="114.7" font-size="8.2" fill="#444" text-anchor="end" font-family="Liberation Sans">2</text>
<text x="52.699999999999996" y="147.7" font-size="10.8" fill="#444" text-anchor="end" font-family="Liberation Sans">0.01</text>
<text transform="translate(21.7,89.7) rotate(-90)" font-size="10.6" fill="#333" text-anchor="middle" font-family="Liberation Sans">SER and BER</text>
<polyline points="54.9,21.9 134.6,33.6 161.8,39.8" fill="none" stroke="#5a63f2" stroke-width="1"/>
<polyline points="54.9,51.1 134.6,63.0 161.8,69.8" fill="none" stroke="#f26060" stroke-width="1"/>
<circle cx="55.9" cy="21.7" r="3.1" fill="none" stroke="#5a63f2" stroke-width="1"/>
<circle cx="134.6" cy="33.6" r="3.1" fill="none" stroke="#5a63f2" stroke-width="1"/>
<path d="M55.9,47.9L59.3,53.4H52.5Z" fill="none" stroke="#f26060" stroke-width="1"/>
<path d="M134.6,59.8L138.0,65.3H131.2Z" fill="none" stroke="#f26060" stroke-width="1"/>
</svg></div>
<div class="l" style="left:11px;top:839px">Contour Plots</div>
<div class="l" style="left:193px;top:839px">Heatmaps</div>
<div class="l" style="left:375px;top:839px">Imshow</div>
<div class="l" style="left:557px;top:839px">Ternary Plots</div>
<div class="l" style="left:739px;top:839px">Log Plots</div>
</body></html>
